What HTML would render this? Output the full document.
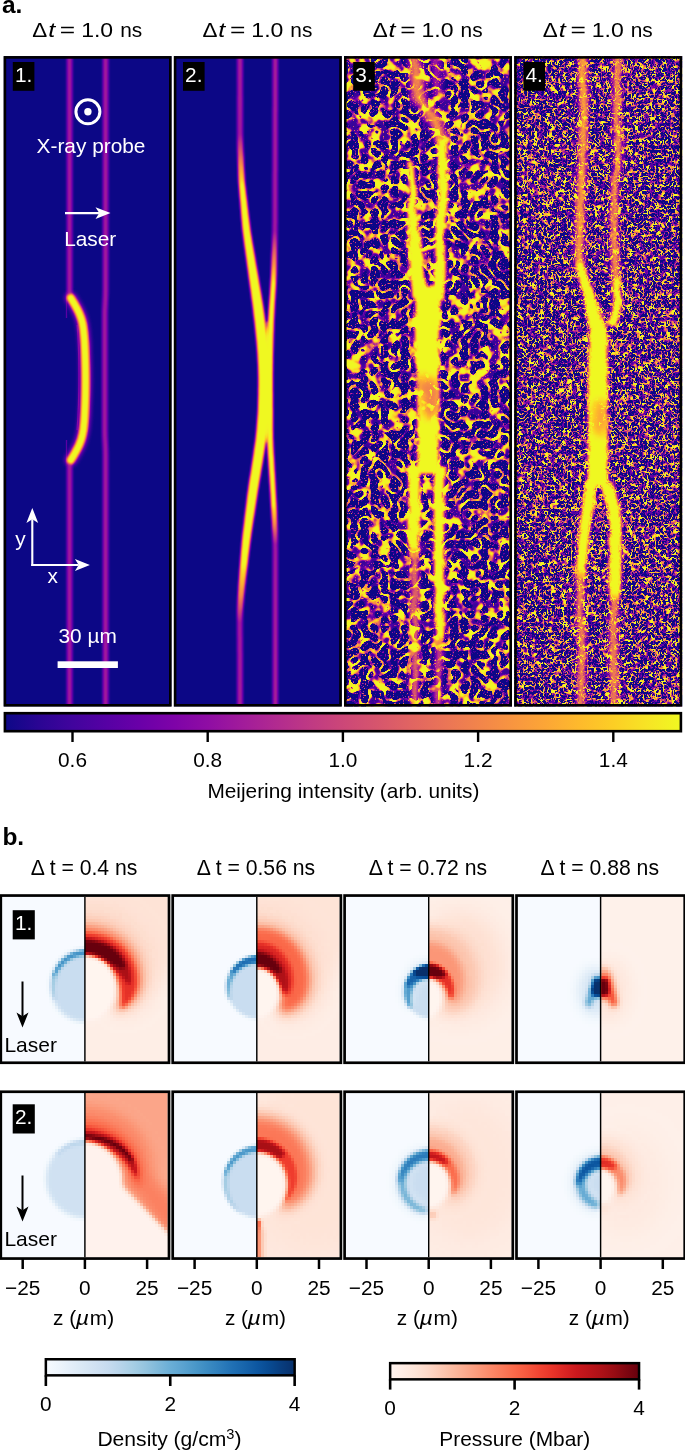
<!DOCTYPE html>
<html><head><meta charset="utf-8"><title>figure</title>
<style>html,body{margin:0;padding:0;background:#fff}svg{display:block;opacity:0.9999}text{white-space:pre;font-family:"Liberation Sans",sans-serif}</style></head>
<body>
<svg width="685" height="1451" viewBox="0 0 685 1451">
<defs>
<filter id="b05" filterUnits="userSpaceOnUse" x="0" y="0" width="685" height="1451" color-interpolation-filters="sRGB"><feGaussianBlur stdDeviation="0.5"/></filter>
<filter id="b08" filterUnits="userSpaceOnUse" x="0" y="0" width="685" height="1451" color-interpolation-filters="sRGB"><feGaussianBlur stdDeviation="0.8"/></filter>
<filter id="b1" filterUnits="userSpaceOnUse" x="0" y="0" width="685" height="1451" color-interpolation-filters="sRGB"><feGaussianBlur stdDeviation="1.0"/></filter>
<filter id="b15" filterUnits="userSpaceOnUse" x="0" y="0" width="685" height="1451" color-interpolation-filters="sRGB"><feGaussianBlur stdDeviation="1.5"/></filter>
<filter id="b2" filterUnits="userSpaceOnUse" x="0" y="0" width="685" height="1451" color-interpolation-filters="sRGB"><feGaussianBlur stdDeviation="2"/></filter>
<filter id="b3" filterUnits="userSpaceOnUse" x="0" y="0" width="685" height="1451" color-interpolation-filters="sRGB"><feGaussianBlur stdDeviation="3"/></filter>
<filter id="b4" filterUnits="userSpaceOnUse" x="0" y="0" width="685" height="1451" color-interpolation-filters="sRGB"><feGaussianBlur stdDeviation="4"/></filter>
<filter id="b6" filterUnits="userSpaceOnUse" x="0" y="0" width="685" height="1451" color-interpolation-filters="sRGB"><feGaussianBlur stdDeviation="6"/></filter>
<filter id="b8" filterUnits="userSpaceOnUse" x="0" y="0" width="685" height="1451" color-interpolation-filters="sRGB"><feGaussianBlur stdDeviation="8"/></filter>
<filter id="b12" filterUnits="userSpaceOnUse" x="0" y="0" width="685" height="1451" color-interpolation-filters="sRGB"><feGaussianBlur stdDeviation="12"/></filter>
<filter id="bx" filterUnits="userSpaceOnUse" x="0" y="0" width="685" height="1451" color-interpolation-filters="sRGB"><feGaussianBlur stdDeviation="1.3 0.3"/></filter>
<filter id="by" filterUnits="userSpaceOnUse" x="0" y="0" width="685" height="1451" color-interpolation-filters="sRGB"><feGaussianBlur stdDeviation="0.8 8"/></filter>
<clipPath id="ca0"><rect x="3.6" y="56.1" width="168.0" height="650.5"/></clipPath>
<clipPath id="ca1"><rect x="173.79999999999998" y="56.1" width="168.0" height="650.5"/></clipPath>
<clipPath id="ca2"><rect x="344.0" y="56.1" width="168.0" height="650.5"/></clipPath>
<clipPath id="ca3"><rect x="514.1999999999999" y="56.1" width="168.0" height="650.5"/></clipPath>
<filter id="pl0" filterUnits="userSpaceOnUse" x="3.6" y="56.1" width="168.0" height="650.5" color-interpolation-filters="sRGB">
<feComponentTransfer><feFuncR type="table" tableValues="0.050 0.096 0.132 0.164 0.193 0.221 0.248 0.274 0.300 0.325 0.350 0.375 0.399 0.424 0.448 0.471 0.501 0.524 0.546 0.568 0.590 0.611 0.631 0.651 0.670 0.688 0.706 0.723 0.740 0.756 0.772 0.787 0.805 0.820 0.833 0.847 0.860 0.872 0.884 0.896 0.907 0.918 0.928 0.938 0.947 0.955 0.963 0.970 0.978 0.983 0.987 0.991 0.993 0.994 0.994 0.993 0.991 0.988 0.983 0.976 0.968 0.959 0.949 0.940"/><feFuncG type="table" tableValues="0.030 0.025 0.022 0.020 0.018 0.016 0.014 0.012 0.010 0.007 0.004 0.002 0.001 0.001 0.002 0.006 0.014 0.025 0.039 0.056 0.073 0.090 0.108 0.125 0.143 0.161 0.178 0.196 0.214 0.232 0.249 0.267 0.289 0.307 0.325 0.343 0.361 0.379 0.397 0.416 0.435 0.454 0.473 0.493 0.513 0.533 0.554 0.575 0.602 0.624 0.647 0.670 0.693 0.717 0.741 0.765 0.791 0.816 0.842 0.868 0.895 0.921 0.948 0.975"/><feFuncB type="table" tableValues="0.528 0.547 0.563 0.577 0.590 0.602 0.613 0.623 0.632 0.640 0.646 0.652 0.656 0.659 0.660 0.660 0.657 0.653 0.647 0.639 0.630 0.620 0.608 0.596 0.582 0.568 0.554 0.539 0.524 0.509 0.495 0.480 0.462 0.448 0.434 0.421 0.407 0.393 0.380 0.366 0.353 0.340 0.326 0.313 0.299 0.285 0.272 0.258 0.241 0.228 0.215 0.202 0.189 0.177 0.166 0.157 0.149 0.144 0.142 0.143 0.147 0.152 0.152 0.131"/></feComponentTransfer></filter>
<filter id="pl1" filterUnits="userSpaceOnUse" x="173.79999999999998" y="56.1" width="168.0" height="650.5" color-interpolation-filters="sRGB">
<feComponentTransfer><feFuncR type="table" tableValues="0.050 0.096 0.132 0.164 0.193 0.221 0.248 0.274 0.300 0.325 0.350 0.375 0.399 0.424 0.448 0.471 0.501 0.524 0.546 0.568 0.590 0.611 0.631 0.651 0.670 0.688 0.706 0.723 0.740 0.756 0.772 0.787 0.805 0.820 0.833 0.847 0.860 0.872 0.884 0.896 0.907 0.918 0.928 0.938 0.947 0.955 0.963 0.970 0.978 0.983 0.987 0.991 0.993 0.994 0.994 0.993 0.991 0.988 0.983 0.976 0.968 0.959 0.949 0.940"/><feFuncG type="table" tableValues="0.030 0.025 0.022 0.020 0.018 0.016 0.014 0.012 0.010 0.007 0.004 0.002 0.001 0.001 0.002 0.006 0.014 0.025 0.039 0.056 0.073 0.090 0.108 0.125 0.143 0.161 0.178 0.196 0.214 0.232 0.249 0.267 0.289 0.307 0.325 0.343 0.361 0.379 0.397 0.416 0.435 0.454 0.473 0.493 0.513 0.533 0.554 0.575 0.602 0.624 0.647 0.670 0.693 0.717 0.741 0.765 0.791 0.816 0.842 0.868 0.895 0.921 0.948 0.975"/><feFuncB type="table" tableValues="0.528 0.547 0.563 0.577 0.590 0.602 0.613 0.623 0.632 0.640 0.646 0.652 0.656 0.659 0.660 0.660 0.657 0.653 0.647 0.639 0.630 0.620 0.608 0.596 0.582 0.568 0.554 0.539 0.524 0.509 0.495 0.480 0.462 0.448 0.434 0.421 0.407 0.393 0.380 0.366 0.353 0.340 0.326 0.313 0.299 0.285 0.272 0.258 0.241 0.228 0.215 0.202 0.189 0.177 0.166 0.157 0.149 0.144 0.142 0.143 0.147 0.152 0.152 0.131"/></feComponentTransfer></filter>
<linearGradient id="g2l" gradientUnits="userSpaceOnUse" x1="0" y1="56" x2="0" y2="707">
<stop offset="0" stop-color="#5c5c5c"/><stop offset="0.12" stop-color="#585858"/><stop offset="0.16" stop-color="#b0b0b0"/><stop offset="0.2" stop-color="#fff"/>
<stop offset="0.78" stop-color="#fff"/><stop offset="0.83" stop-color="#b8b8b8"/><stop offset="0.87" stop-color="#585858"/><stop offset="1" stop-color="#5c5c5c"/></linearGradient>
<linearGradient id="g2r" gradientUnits="userSpaceOnUse" x1="0" y1="56" x2="0" y2="707">
<stop offset="0" stop-color="#5c5c5c"/><stop offset="0.27" stop-color="#585858"/><stop offset="0.31" stop-color="#b0b0b0"/><stop offset="0.35" stop-color="#fff"/>
<stop offset="0.69" stop-color="#fff"/><stop offset="0.72" stop-color="#b8b8b8"/><stop offset="0.75" stop-color="#585858"/><stop offset="1" stop-color="#5c5c5c"/></linearGradient>
<filter id="nz2" filterUnits="userSpaceOnUse" x="344.0" y="56.1" width="168.0" height="650.5" color-interpolation-filters="sRGB">
<feTurbulence type="fractalNoise" baseFrequency="0.1" numOctaves="1" seed="4" result="t"/>
<feColorMatrix in="t" type="matrix" values="1 0 0 0 0 1 0 0 0 0 1 0 0 0 0 0 0 0 0 1" result="g"/>
<feComponentTransfer in="g" result="ridge"><feFuncR type="table" tableValues="0.000 0.000 0.000 0.000 0.000 0.000 0.000 0.000 0.000 0.000 0.000 0.000 0.000 0.000 0.000 0.000 0.000 0.000 0.000 0.000 0.000 0.000 0.000 0.000 0.000 0.000 0.000 0.000 0.000 0.000 0.000 0.000 0.000 0.000 0.000 0.000 0.000 0.000 0.000 0.000 0.000 0.000 0.000 0.000 0.000 0.000 0.000 0.000 0.000 0.000 0.000 0.000 0.000 0.000 0.000 0.000 0.000 0.000 0.000 0.000 0.000 0.000 0.000 0.000 0.000 0.000 0.000 0.000 0.000 0.000 0.000 0.000 0.000 0.000 0.000 0.000 0.000 0.000 0.000 0.000 0.000 0.000 0.000 0.000 0.000 0.000 0.000 0.000 0.000 0.000 0.000 0.000 0.000 0.000 0.000 0.000 0.000 0.000 0.000 0.000 0.000 0.000 0.000 0.000 0.000 0.000 0.000 0.000 0.000 0.000 0.234 0.507 0.779 1.000 1.000 1.000 1.000 1.000 1.000 1.000 1.000 1.000 1.000 1.000 1.000 1.000 1.000 1.000 1.000 1.000 1.000 1.000 1.000 1.000 1.000 1.000 1.000 1.000 1.000 1.000 1.000 1.000 1.000 0.779 0.507 0.234 0.000 0.000 0.000 0.000 0.000 0.000 0.000 0.000 0.000 0.000 0.000 0.000 0.000 0.000 0.000 0.000 0.000 0.000 0.000 0.000 0.000 0.000 0.000 0.000 0.000 0.000 0.000 0.000 0.000 0.000 0.000 0.000 0.000 0.000 0.000 0.000 0.000 0.000 0.000 0.000 0.000 0.000 0.000 0.000 0.000 0.000 0.000 0.000 0.000 0.000 0.000 0.000 0.000 0.000 0.000 0.000 0.000 0.000 0.000 0.000 0.000 0.000 0.000 0.000 0.000 0.000 0.000 0.000 0.000 0.000 0.000 0.000 0.000 0.000 0.000 0.000 0.000 0.000 0.000 0.000 0.000 0.000 0.000 0.000 0.000 0.000 0.000 0.000 0.000 0.000 0.000 0.000 0.000 0.000 0.000 0.000 0.000 0.000 0.000 0.000 0.000 0.000 0.000 0.000 0.000 0.000 0.000 0.000 0.000 0.000"/><feFuncG type="table" tableValues="0.000 0.000 0.000 0.000 0.000 0.000 0.000 0.000 0.000 0.000 0.000 0.000 0.000 0.000 0.000 0.000 0.000 0.000 0.000 0.000 0.000 0.000 0.000 0.000 0.000 0.000 0.000 0.000 0.000 0.000 0.000 0.000 0.000 0.000 0.000 0.000 0.000 0.000 0.000 0.000 0.000 0.000 0.000 0.000 0.000 0.000 0.000 0.000 0.000 0.000 0.000 0.000 0.000 0.000 0.000 0.000 0.000 0.000 0.000 0.000 0.000 0.000 0.000 0.000 0.000 0.000 0.000 0.000 0.000 0.000 0.000 0.000 0.000 0.000 0.000 0.000 0.000 0.000 0.000 0.000 0.000 0.000 0.000 0.000 0.000 0.000 0.000 0.000 0.000 0.000 0.000 0.000 0.000 0.000 0.000 0.000 0.000 0.000 0.000 0.000 0.000 0.000 0.000 0.000 0.000 0.000 0.000 0.000 0.000 0.000 0.234 0.507 0.779 1.000 1.000 1.000 1.000 1.000 1.000 1.000 1.000 1.000 1.000 1.000 1.000 1.000 1.000 1.000 1.000 1.000 1.000 1.000 1.000 1.000 1.000 1.000 1.000 1.000 1.000 1.000 1.000 1.000 1.000 0.779 0.507 0.234 0.000 0.000 0.000 0.000 0.000 0.000 0.000 0.000 0.000 0.000 0.000 0.000 0.000 0.000 0.000 0.000 0.000 0.000 0.000 0.000 0.000 0.000 0.000 0.000 0.000 0.000 0.000 0.000 0.000 0.000 0.000 0.000 0.000 0.000 0.000 0.000 0.000 0.000 0.000 0.000 0.000 0.000 0.000 0.000 0.000 0.000 0.000 0.000 0.000 0.000 0.000 0.000 0.000 0.000 0.000 0.000 0.000 0.000 0.000 0.000 0.000 0.000 0.000 0.000 0.000 0.000 0.000 0.000 0.000 0.000 0.000 0.000 0.000 0.000 0.000 0.000 0.000 0.000 0.000 0.000 0.000 0.000 0.000 0.000 0.000 0.000 0.000 0.000 0.000 0.000 0.000 0.000 0.000 0.000 0.000 0.000 0.000 0.000 0.000 0.000 0.000 0.000 0.000 0.000 0.000 0.000 0.000 0.000 0.000 0.000"/><feFuncB type="table" tableValues="0.000 0.000 0.000 0.000 0.000 0.000 0.000 0.000 0.000 0.000 0.000 0.000 0.000 0.000 0.000 0.000 0.000 0.000 0.000 0.000 0.000 0.000 0.000 0.000 0.000 0.000 0.000 0.000 0.000 0.000 0.000 0.000 0.000 0.000 0.000 0.000 0.000 0.000 0.000 0.000 0.000 0.000 0.000 0.000 0.000 0.000 0.000 0.000 0.000 0.000 0.000 0.000 0.000 0.000 0.000 0.000 0.000 0.000 0.000 0.000 0.000 0.000 0.000 0.000 0.000 0.000 0.000 0.000 0.000 0.000 0.000 0.000 0.000 0.000 0.000 0.000 0.000 0.000 0.000 0.000 0.000 0.000 0.000 0.000 0.000 0.000 0.000 0.000 0.000 0.000 0.000 0.000 0.000 0.000 0.000 0.000 0.000 0.000 0.000 0.000 0.000 0.000 0.000 0.000 0.000 0.000 0.000 0.000 0.000 0.000 0.234 0.507 0.779 1.000 1.000 1.000 1.000 1.000 1.000 1.000 1.000 1.000 1.000 1.000 1.000 1.000 1.000 1.000 1.000 1.000 1.000 1.000 1.000 1.000 1.000 1.000 1.000 1.000 1.000 1.000 1.000 1.000 1.000 0.779 0.507 0.234 0.000 0.000 0.000 0.000 0.000 0.000 0.000 0.000 0.000 0.000 0.000 0.000 0.000 0.000 0.000 0.000 0.000 0.000 0.000 0.000 0.000 0.000 0.000 0.000 0.000 0.000 0.000 0.000 0.000 0.000 0.000 0.000 0.000 0.000 0.000 0.000 0.000 0.000 0.000 0.000 0.000 0.000 0.000 0.000 0.000 0.000 0.000 0.000 0.000 0.000 0.000 0.000 0.000 0.000 0.000 0.000 0.000 0.000 0.000 0.000 0.000 0.000 0.000 0.000 0.000 0.000 0.000 0.000 0.000 0.000 0.000 0.000 0.000 0.000 0.000 0.000 0.000 0.000 0.000 0.000 0.000 0.000 0.000 0.000 0.000 0.000 0.000 0.000 0.000 0.000 0.000 0.000 0.000 0.000 0.000 0.000 0.000 0.000 0.000 0.000 0.000 0.000 0.000 0.000 0.000 0.000 0.000 0.000 0.000 0.000"/></feComponentTransfer>
<feTurbulence type="fractalNoise" baseFrequency="0.1" numOctaves="2" seed="7" result="tm"/>
<feColorMatrix in="tm" type="matrix" values="0 1 0 0 0 0 1 0 0 0 0 1 0 0 0 0 0 0 0 1" result="gm"/>
<feComponentTransfer in="gm" result="mod"><feFuncR type="table" tableValues="0.080 0.080 0.080 0.080 0.080 0.080 0.080 0.080 0.080 0.080 0.080 0.080 0.080 0.080 0.080 0.080 0.080 0.080 0.080 0.080 0.080 0.080 0.080 0.080 0.080 0.080 0.080 0.081 0.081 0.081 0.081 0.081 0.082 0.082 0.082 0.083 0.084 0.085 0.086 0.088 0.089 0.092 0.095 0.098 0.103 0.108 0.115 0.124 0.134 0.147 0.162 0.181 0.203 0.228 0.259 0.293 0.332 0.376 0.422 0.472 0.523 0.575 0.626 0.674 0.720 0.762 0.799 0.832 0.861 0.886 0.906 0.924 0.938 0.950 0.959 0.967 0.974 0.979 0.983 0.986 0.989 0.991 0.993 0.994 0.996 0.996 0.997 0.998 0.998 0.999 0.999 0.999 0.999 0.999 1.000 1.000 1.000 1.000 1.000 1.000 1.000 1.000 1.000 1.000 1.000 1.000 1.000 1.000 1.000 1.000 1.000 1.000 1.000 1.000 1.000 1.000 1.000 1.000 1.000 1.000 1.000 1.000 1.000 1.000 1.000 1.000 1.000 1.000"/><feFuncG type="table" tableValues="0.080 0.080 0.080 0.080 0.080 0.080 0.080 0.080 0.080 0.080 0.080 0.080 0.080 0.080 0.080 0.080 0.080 0.080 0.080 0.080 0.080 0.080 0.080 0.080 0.080 0.080 0.080 0.081 0.081 0.081 0.081 0.081 0.082 0.082 0.082 0.083 0.084 0.085 0.086 0.088 0.089 0.092 0.095 0.098 0.103 0.108 0.115 0.124 0.134 0.147 0.162 0.181 0.203 0.228 0.259 0.293 0.332 0.376 0.422 0.472 0.523 0.575 0.626 0.674 0.720 0.762 0.799 0.832 0.861 0.886 0.906 0.924 0.938 0.950 0.959 0.967 0.974 0.979 0.983 0.986 0.989 0.991 0.993 0.994 0.996 0.996 0.997 0.998 0.998 0.999 0.999 0.999 0.999 0.999 1.000 1.000 1.000 1.000 1.000 1.000 1.000 1.000 1.000 1.000 1.000 1.000 1.000 1.000 1.000 1.000 1.000 1.000 1.000 1.000 1.000 1.000 1.000 1.000 1.000 1.000 1.000 1.000 1.000 1.000 1.000 1.000 1.000 1.000"/><feFuncB type="table" tableValues="0.080 0.080 0.080 0.080 0.080 0.080 0.080 0.080 0.080 0.080 0.080 0.080 0.080 0.080 0.080 0.080 0.080 0.080 0.080 0.080 0.080 0.080 0.080 0.080 0.080 0.080 0.080 0.081 0.081 0.081 0.081 0.081 0.082 0.082 0.082 0.083 0.084 0.085 0.086 0.088 0.089 0.092 0.095 0.098 0.103 0.108 0.115 0.124 0.134 0.147 0.162 0.181 0.203 0.228 0.259 0.293 0.332 0.376 0.422 0.472 0.523 0.575 0.626 0.674 0.720 0.762 0.799 0.832 0.861 0.886 0.906 0.924 0.938 0.950 0.959 0.967 0.974 0.979 0.983 0.986 0.989 0.991 0.993 0.994 0.996 0.996 0.997 0.998 0.998 0.999 0.999 0.999 0.999 0.999 1.000 1.000 1.000 1.000 1.000 1.000 1.000 1.000 1.000 1.000 1.000 1.000 1.000 1.000 1.000 1.000 1.000 1.000 1.000 1.000 1.000 1.000 1.000 1.000 1.000 1.000 1.000 1.000 1.000 1.000 1.000 1.000 1.000 1.000"/></feComponentTransfer>
<feComposite in="ridge" in2="mod" operator="arithmetic" k1="1" k2="0" k3="0" k4="0" result="rm"/>
<feTurbulence type="fractalNoise" baseFrequency="0.6" numOctaves="1" seed="11" result="t2"/>
<feColorMatrix in="t2" type="matrix" values="0 5 0 0 -3.0 0 5 0 0 -3.0 0 5 0 0 -3.0 0 0 0 0 1" result="sp"/>
<feBlend in="sp" in2="rm" mode="lighten" result="bg"/>
<feTurbulence type="fractalNoise" baseFrequency="0.06" numOctaves="2" seed="17" result="td"/>
<feDisplacementMap in="SourceGraphic" in2="td" scale="6" xChannelSelector="R" yChannelSelector="G" result="sd"/>
<feBlend in="sd" in2="bg" mode="lighten" result="all"/>
<feComponentTransfer in="all"><feFuncR type="table" tableValues="0.050 0.096 0.132 0.164 0.193 0.221 0.248 0.274 0.300 0.325 0.350 0.375 0.399 0.424 0.448 0.471 0.501 0.524 0.546 0.568 0.590 0.611 0.631 0.651 0.670 0.688 0.706 0.723 0.740 0.756 0.772 0.787 0.805 0.820 0.833 0.847 0.860 0.872 0.884 0.896 0.907 0.918 0.928 0.938 0.947 0.955 0.963 0.970 0.978 0.983 0.987 0.991 0.993 0.994 0.994 0.993 0.991 0.988 0.983 0.976 0.968 0.959 0.949 0.940"/><feFuncG type="table" tableValues="0.030 0.025 0.022 0.020 0.018 0.016 0.014 0.012 0.010 0.007 0.004 0.002 0.001 0.001 0.002 0.006 0.014 0.025 0.039 0.056 0.073 0.090 0.108 0.125 0.143 0.161 0.178 0.196 0.214 0.232 0.249 0.267 0.289 0.307 0.325 0.343 0.361 0.379 0.397 0.416 0.435 0.454 0.473 0.493 0.513 0.533 0.554 0.575 0.602 0.624 0.647 0.670 0.693 0.717 0.741 0.765 0.791 0.816 0.842 0.868 0.895 0.921 0.948 0.975"/><feFuncB type="table" tableValues="0.528 0.547 0.563 0.577 0.590 0.602 0.613 0.623 0.632 0.640 0.646 0.652 0.656 0.659 0.660 0.660 0.657 0.653 0.647 0.639 0.630 0.620 0.608 0.596 0.582 0.568 0.554 0.539 0.524 0.509 0.495 0.480 0.462 0.448 0.434 0.421 0.407 0.393 0.380 0.366 0.353 0.340 0.326 0.313 0.299 0.285 0.272 0.258 0.241 0.228 0.215 0.202 0.189 0.177 0.166 0.157 0.149 0.144 0.142 0.143 0.147 0.152 0.152 0.131"/></feComponentTransfer>
</filter>
<filter id="nz3" filterUnits="userSpaceOnUse" x="514.1999999999999" y="56.1" width="168.0" height="650.5" color-interpolation-filters="sRGB">
<feTurbulence type="fractalNoise" baseFrequency="0.25 0.22" numOctaves="2" seed="11" result="t"/>
<feColorMatrix in="t" type="matrix" values="1 0 0 0 0 1 0 0 0 0 1 0 0 0 0 0 0 0 0 1" result="g"/>
<feComponentTransfer in="g" result="ridge"><feFuncR type="table" tableValues="0.000 0.000 0.000 0.000 0.000 0.000 0.000 0.000 0.000 0.000 0.000 0.000 0.000 0.000 0.000 0.000 0.000 0.000 0.000 0.000 0.000 0.000 0.000 0.000 0.000 0.000 0.000 0.000 0.000 0.000 0.000 0.000 0.000 0.000 0.000 0.000 0.000 0.000 0.000 0.000 0.000 0.000 0.000 0.000 0.000 0.000 0.000 0.000 0.000 0.000 0.000 0.000 0.000 0.000 0.000 0.000 0.000 0.000 0.000 0.000 0.000 0.000 0.000 0.000 0.000 0.000 0.000 0.000 0.000 0.000 0.000 0.000 0.000 0.000 0.000 0.000 0.000 0.000 0.000 0.000 0.000 0.000 0.000 0.000 0.000 0.000 0.000 0.000 0.000 0.000 0.000 0.000 0.000 0.000 0.000 0.000 0.000 0.000 0.000 0.000 0.000 0.000 0.000 0.000 0.000 0.000 0.000 0.000 0.176 0.373 0.569 0.765 0.961 1.000 1.000 1.000 1.000 1.000 1.000 1.000 1.000 1.000 1.000 1.000 1.000 1.000 1.000 1.000 1.000 1.000 1.000 1.000 1.000 1.000 1.000 1.000 1.000 1.000 1.000 1.000 1.000 1.000 1.000 0.961 0.765 0.569 0.373 0.176 0.000 0.000 0.000 0.000 0.000 0.000 0.000 0.000 0.000 0.000 0.000 0.000 0.000 0.000 0.000 0.000 0.000 0.000 0.000 0.000 0.000 0.000 0.000 0.000 0.000 0.000 0.000 0.000 0.000 0.000 0.000 0.000 0.000 0.000 0.000 0.000 0.000 0.000 0.000 0.000 0.000 0.000 0.000 0.000 0.000 0.000 0.000 0.000 0.000 0.000 0.000 0.000 0.000 0.000 0.000 0.000 0.000 0.000 0.000 0.000 0.000 0.000 0.000 0.000 0.000 0.000 0.000 0.000 0.000 0.000 0.000 0.000 0.000 0.000 0.000 0.000 0.000 0.000 0.000 0.000 0.000 0.000 0.000 0.000 0.000 0.000 0.000 0.000 0.000 0.000 0.000 0.000 0.000 0.000 0.000 0.000 0.000 0.000 0.000 0.000 0.000 0.000 0.000 0.000 0.000 0.000 0.000 0.000"/><feFuncG type="table" tableValues="0.000 0.000 0.000 0.000 0.000 0.000 0.000 0.000 0.000 0.000 0.000 0.000 0.000 0.000 0.000 0.000 0.000 0.000 0.000 0.000 0.000 0.000 0.000 0.000 0.000 0.000 0.000 0.000 0.000 0.000 0.000 0.000 0.000 0.000 0.000 0.000 0.000 0.000 0.000 0.000 0.000 0.000 0.000 0.000 0.000 0.000 0.000 0.000 0.000 0.000 0.000 0.000 0.000 0.000 0.000 0.000 0.000 0.000 0.000 0.000 0.000 0.000 0.000 0.000 0.000 0.000 0.000 0.000 0.000 0.000 0.000 0.000 0.000 0.000 0.000 0.000 0.000 0.000 0.000 0.000 0.000 0.000 0.000 0.000 0.000 0.000 0.000 0.000 0.000 0.000 0.000 0.000 0.000 0.000 0.000 0.000 0.000 0.000 0.000 0.000 0.000 0.000 0.000 0.000 0.000 0.000 0.000 0.000 0.176 0.373 0.569 0.765 0.961 1.000 1.000 1.000 1.000 1.000 1.000 1.000 1.000 1.000 1.000 1.000 1.000 1.000 1.000 1.000 1.000 1.000 1.000 1.000 1.000 1.000 1.000 1.000 1.000 1.000 1.000 1.000 1.000 1.000 1.000 0.961 0.765 0.569 0.373 0.176 0.000 0.000 0.000 0.000 0.000 0.000 0.000 0.000 0.000 0.000 0.000 0.000 0.000 0.000 0.000 0.000 0.000 0.000 0.000 0.000 0.000 0.000 0.000 0.000 0.000 0.000 0.000 0.000 0.000 0.000 0.000 0.000 0.000 0.000 0.000 0.000 0.000 0.000 0.000 0.000 0.000 0.000 0.000 0.000 0.000 0.000 0.000 0.000 0.000 0.000 0.000 0.000 0.000 0.000 0.000 0.000 0.000 0.000 0.000 0.000 0.000 0.000 0.000 0.000 0.000 0.000 0.000 0.000 0.000 0.000 0.000 0.000 0.000 0.000 0.000 0.000 0.000 0.000 0.000 0.000 0.000 0.000 0.000 0.000 0.000 0.000 0.000 0.000 0.000 0.000 0.000 0.000 0.000 0.000 0.000 0.000 0.000 0.000 0.000 0.000 0.000 0.000 0.000 0.000 0.000 0.000 0.000 0.000"/><feFuncB type="table" tableValues="0.000 0.000 0.000 0.000 0.000 0.000 0.000 0.000 0.000 0.000 0.000 0.000 0.000 0.000 0.000 0.000 0.000 0.000 0.000 0.000 0.000 0.000 0.000 0.000 0.000 0.000 0.000 0.000 0.000 0.000 0.000 0.000 0.000 0.000 0.000 0.000 0.000 0.000 0.000 0.000 0.000 0.000 0.000 0.000 0.000 0.000 0.000 0.000 0.000 0.000 0.000 0.000 0.000 0.000 0.000 0.000 0.000 0.000 0.000 0.000 0.000 0.000 0.000 0.000 0.000 0.000 0.000 0.000 0.000 0.000 0.000 0.000 0.000 0.000 0.000 0.000 0.000 0.000 0.000 0.000 0.000 0.000 0.000 0.000 0.000 0.000 0.000 0.000 0.000 0.000 0.000 0.000 0.000 0.000 0.000 0.000 0.000 0.000 0.000 0.000 0.000 0.000 0.000 0.000 0.000 0.000 0.000 0.000 0.176 0.373 0.569 0.765 0.961 1.000 1.000 1.000 1.000 1.000 1.000 1.000 1.000 1.000 1.000 1.000 1.000 1.000 1.000 1.000 1.000 1.000 1.000 1.000 1.000 1.000 1.000 1.000 1.000 1.000 1.000 1.000 1.000 1.000 1.000 0.961 0.765 0.569 0.373 0.176 0.000 0.000 0.000 0.000 0.000 0.000 0.000 0.000 0.000 0.000 0.000 0.000 0.000 0.000 0.000 0.000 0.000 0.000 0.000 0.000 0.000 0.000 0.000 0.000 0.000 0.000 0.000 0.000 0.000 0.000 0.000 0.000 0.000 0.000 0.000 0.000 0.000 0.000 0.000 0.000 0.000 0.000 0.000 0.000 0.000 0.000 0.000 0.000 0.000 0.000 0.000 0.000 0.000 0.000 0.000 0.000 0.000 0.000 0.000 0.000 0.000 0.000 0.000 0.000 0.000 0.000 0.000 0.000 0.000 0.000 0.000 0.000 0.000 0.000 0.000 0.000 0.000 0.000 0.000 0.000 0.000 0.000 0.000 0.000 0.000 0.000 0.000 0.000 0.000 0.000 0.000 0.000 0.000 0.000 0.000 0.000 0.000 0.000 0.000 0.000 0.000 0.000 0.000 0.000 0.000 0.000 0.000 0.000"/></feComponentTransfer>
<feTurbulence type="fractalNoise" baseFrequency="0.18" numOctaves="2" seed="14" result="tm"/>
<feColorMatrix in="tm" type="matrix" values="0 1 0 0 0 0 1 0 0 0 0 1 0 0 0 0 0 0 0 1" result="gm"/>
<feComponentTransfer in="gm" result="mod"><feFuncR type="table" tableValues="0.140 0.140 0.140 0.140 0.140 0.140 0.140 0.140 0.140 0.140 0.140 0.140 0.140 0.141 0.141 0.141 0.141 0.141 0.141 0.141 0.142 0.142 0.142 0.143 0.143 0.144 0.144 0.145 0.146 0.147 0.148 0.149 0.151 0.153 0.155 0.157 0.160 0.163 0.167 0.172 0.177 0.183 0.190 0.198 0.207 0.217 0.229 0.243 0.258 0.275 0.294 0.314 0.337 0.362 0.389 0.418 0.448 0.480 0.513 0.547 0.580 0.614 0.647 0.680 0.711 0.740 0.768 0.793 0.817 0.839 0.858 0.876 0.892 0.906 0.918 0.929 0.939 0.947 0.954 0.961 0.966 0.971 0.975 0.979 0.982 0.984 0.987 0.988 0.990 0.992 0.993 0.994 0.995 0.995 0.996 0.997 0.997 0.998 0.998 0.998 0.998 0.999 0.999 0.999 0.999 0.999 0.999 1.000 1.000 1.000 1.000 1.000 1.000 1.000 1.000 1.000 1.000 1.000 1.000 1.000 1.000 1.000 1.000 1.000 1.000 1.000 1.000 1.000"/><feFuncG type="table" tableValues="0.140 0.140 0.140 0.140 0.140 0.140 0.140 0.140 0.140 0.140 0.140 0.140 0.140 0.141 0.141 0.141 0.141 0.141 0.141 0.141 0.142 0.142 0.142 0.143 0.143 0.144 0.144 0.145 0.146 0.147 0.148 0.149 0.151 0.153 0.155 0.157 0.160 0.163 0.167 0.172 0.177 0.183 0.190 0.198 0.207 0.217 0.229 0.243 0.258 0.275 0.294 0.314 0.337 0.362 0.389 0.418 0.448 0.480 0.513 0.547 0.580 0.614 0.647 0.680 0.711 0.740 0.768 0.793 0.817 0.839 0.858 0.876 0.892 0.906 0.918 0.929 0.939 0.947 0.954 0.961 0.966 0.971 0.975 0.979 0.982 0.984 0.987 0.988 0.990 0.992 0.993 0.994 0.995 0.995 0.996 0.997 0.997 0.998 0.998 0.998 0.998 0.999 0.999 0.999 0.999 0.999 0.999 1.000 1.000 1.000 1.000 1.000 1.000 1.000 1.000 1.000 1.000 1.000 1.000 1.000 1.000 1.000 1.000 1.000 1.000 1.000 1.000 1.000"/><feFuncB type="table" tableValues="0.140 0.140 0.140 0.140 0.140 0.140 0.140 0.140 0.140 0.140 0.140 0.140 0.140 0.141 0.141 0.141 0.141 0.141 0.141 0.141 0.142 0.142 0.142 0.143 0.143 0.144 0.144 0.145 0.146 0.147 0.148 0.149 0.151 0.153 0.155 0.157 0.160 0.163 0.167 0.172 0.177 0.183 0.190 0.198 0.207 0.217 0.229 0.243 0.258 0.275 0.294 0.314 0.337 0.362 0.389 0.418 0.448 0.480 0.513 0.547 0.580 0.614 0.647 0.680 0.711 0.740 0.768 0.793 0.817 0.839 0.858 0.876 0.892 0.906 0.918 0.929 0.939 0.947 0.954 0.961 0.966 0.971 0.975 0.979 0.982 0.984 0.987 0.988 0.990 0.992 0.993 0.994 0.995 0.995 0.996 0.997 0.997 0.998 0.998 0.998 0.998 0.999 0.999 0.999 0.999 0.999 0.999 1.000 1.000 1.000 1.000 1.000 1.000 1.000 1.000 1.000 1.000 1.000 1.000 1.000 1.000 1.000 1.000 1.000 1.000 1.000 1.000 1.000"/></feComponentTransfer>
<feComposite in="ridge" in2="mod" operator="arithmetic" k1="1" k2="0" k3="0" k4="0" result="rm"/>
<feTurbulence type="fractalNoise" baseFrequency="0.7" numOctaves="1" seed="18" result="t2"/>
<feColorMatrix in="t2" type="matrix" values="0 4 0 0 -2.4 0 4 0 0 -2.4 0 4 0 0 -2.4 0 0 0 0 1" result="sp"/>
<feBlend in="sp" in2="rm" mode="lighten" result="bg"/>
<feTurbulence type="fractalNoise" baseFrequency="0.08" numOctaves="2" seed="24" result="td"/>
<feDisplacementMap in="SourceGraphic" in2="td" scale="4" xChannelSelector="R" yChannelSelector="G" result="sd"/>
<feBlend in="sd" in2="bg" mode="lighten" result="all"/>
<feComponentTransfer in="all"><feFuncR type="table" tableValues="0.050 0.096 0.132 0.164 0.193 0.221 0.248 0.274 0.300 0.325 0.350 0.375 0.399 0.424 0.448 0.471 0.501 0.524 0.546 0.568 0.590 0.611 0.631 0.651 0.670 0.688 0.706 0.723 0.740 0.756 0.772 0.787 0.805 0.820 0.833 0.847 0.860 0.872 0.884 0.896 0.907 0.918 0.928 0.938 0.947 0.955 0.963 0.970 0.978 0.983 0.987 0.991 0.993 0.994 0.994 0.993 0.991 0.988 0.983 0.976 0.968 0.959 0.949 0.940"/><feFuncG type="table" tableValues="0.030 0.025 0.022 0.020 0.018 0.016 0.014 0.012 0.010 0.007 0.004 0.002 0.001 0.001 0.002 0.006 0.014 0.025 0.039 0.056 0.073 0.090 0.108 0.125 0.143 0.161 0.178 0.196 0.214 0.232 0.249 0.267 0.289 0.307 0.325 0.343 0.361 0.379 0.397 0.416 0.435 0.454 0.473 0.493 0.513 0.533 0.554 0.575 0.602 0.624 0.647 0.670 0.693 0.717 0.741 0.765 0.791 0.816 0.842 0.868 0.895 0.921 0.948 0.975"/><feFuncB type="table" tableValues="0.528 0.547 0.563 0.577 0.590 0.602 0.613 0.623 0.632 0.640 0.646 0.652 0.656 0.659 0.660 0.660 0.657 0.653 0.647 0.639 0.630 0.620 0.608 0.596 0.582 0.568 0.554 0.539 0.524 0.509 0.495 0.480 0.462 0.448 0.434 0.421 0.407 0.393 0.380 0.366 0.353 0.340 0.326 0.313 0.299 0.285 0.272 0.258 0.241 0.228 0.215 0.202 0.189 0.177 0.166 0.157 0.149 0.144 0.142 0.143 0.147 0.152 0.152 0.131"/></feComponentTransfer>
</filter>
<linearGradient id="gpl" x1="0" y1="0" x2="1" y2="0"><stop offset="0.000" stop-color="#0d0887"/><stop offset="0.050" stop-color="#2a0593"/><stop offset="0.100" stop-color="#41049d"/><stop offset="0.150" stop-color="#5601a4"/><stop offset="0.200" stop-color="#6a00a8"/><stop offset="0.250" stop-color="#7e03a8"/><stop offset="0.300" stop-color="#8f0da4"/><stop offset="0.350" stop-color="#a11b9b"/><stop offset="0.400" stop-color="#b12a90"/><stop offset="0.450" stop-color="#bf3984"/><stop offset="0.500" stop-color="#cc4778"/><stop offset="0.550" stop-color="#d6556d"/><stop offset="0.600" stop-color="#e16462"/><stop offset="0.650" stop-color="#ea7457"/><stop offset="0.700" stop-color="#f2844b"/><stop offset="0.750" stop-color="#f89540"/><stop offset="0.800" stop-color="#fca636"/><stop offset="0.850" stop-color="#feba2c"/><stop offset="0.900" stop-color="#fcce25"/><stop offset="0.950" stop-color="#f7e425"/><stop offset="1.000" stop-color="#f0f921"/></linearGradient>
<clipPath id="clb00"><rect x="2.15" y="896.9" width="82.75" height="164.5000000000001"/></clipPath>
<clipPath id="crb00"><rect x="84.90" y="896.9" width="82.75" height="164.5000000000001"/></clipPath>
<filter id="fbb00" filterUnits="userSpaceOnUse" x="-0.85" y="893.9" width="88.75" height="170.5000000000001" color-interpolation-filters="sRGB">
<feComponentTransfer><feFuncR type="table" tableValues="0.969 0.956 0.944 0.932 0.919 0.907 0.895 0.883 0.870 0.858 0.847 0.835 0.823 0.811 0.799 0.788 0.770 0.751 0.731 0.711 0.692 0.672 0.652 0.633 0.611 0.586 0.561 0.536 0.511 0.485 0.460 0.435 0.407 0.387 0.367 0.346 0.326 0.306 0.286 0.266 0.248 0.232 0.216 0.199 0.183 0.167 0.151 0.134 0.118 0.106 0.093 0.081 0.069 0.056 0.044 0.032 0.031 0.031 0.031 0.031 0.031 0.031 0.031 0.031"/><feFuncG type="table" tableValues="0.984 0.976 0.969 0.961 0.953 0.945 0.937 0.929 0.921 0.913 0.906 0.898 0.890 0.882 0.874 0.866 0.856 0.848 0.839 0.831 0.823 0.814 0.806 0.798 0.787 0.774 0.760 0.746 0.732 0.719 0.705 0.691 0.674 0.660 0.646 0.632 0.619 0.605 0.591 0.577 0.562 0.546 0.529 0.513 0.497 0.481 0.464 0.448 0.428 0.413 0.397 0.381 0.365 0.350 0.334 0.318 0.302 0.286 0.269 0.253 0.237 0.221 0.204 0.188"/><feFuncB type="table" tableValues="1.000 0.996 0.992 0.988 0.984 0.980 0.976 0.972 0.969 0.965 0.961 0.957 0.953 0.949 0.945 0.941 0.935 0.928 0.921 0.914 0.908 0.901 0.894 0.887 0.880 0.875 0.870 0.864 0.859 0.853 0.848 0.843 0.834 0.826 0.819 0.811 0.803 0.795 0.787 0.779 0.771 0.763 0.754 0.746 0.738 0.729 0.721 0.712 0.698 0.686 0.674 0.661 0.649 0.637 0.624 0.612 0.588 0.564 0.540 0.516 0.492 0.468 0.444 0.420"/></feComponentTransfer></filter>
<filter id="frb00" filterUnits="userSpaceOnUse" x="81.90" y="893.9" width="88.75" height="170.5000000000001" color-interpolation-filters="sRGB">
<feComponentTransfer><feFuncR type="table" tableValues="1.000 1.000 0.999 0.999 0.998 0.998 0.997 0.997 0.996 0.995 0.994 0.993 0.992 0.991 0.990 0.989 0.988 0.988 0.988 0.988 0.988 0.988 0.988 0.988 0.988 0.988 0.987 0.987 0.986 0.986 0.985 0.985 0.981 0.975 0.969 0.963 0.957 0.951 0.945 0.939 0.926 0.908 0.890 0.872 0.855 0.837 0.819 0.802 0.779 0.760 0.741 0.722 0.704 0.685 0.666 0.648 0.618 0.587 0.556 0.526 0.495 0.465 0.434 0.404"/><feFuncG type="table" tableValues="0.961 0.950 0.940 0.930 0.919 0.909 0.899 0.888 0.878 0.860 0.841 0.823 0.805 0.787 0.769 0.750 0.727 0.707 0.687 0.666 0.646 0.626 0.606 0.586 0.566 0.546 0.526 0.507 0.487 0.467 0.448 0.428 0.401 0.378 0.355 0.332 0.309 0.286 0.262 0.239 0.220 0.203 0.186 0.168 0.151 0.134 0.117 0.100 0.090 0.086 0.081 0.077 0.072 0.068 0.063 0.059 0.052 0.044 0.037 0.030 0.022 0.015 0.007 0.000"/><feFuncB type="table" tableValues="0.941 0.926 0.912 0.897 0.882 0.867 0.853 0.838 0.823 0.799 0.775 0.750 0.726 0.702 0.678 0.654 0.624 0.601 0.578 0.555 0.532 0.508 0.485 0.462 0.440 0.421 0.401 0.381 0.362 0.342 0.322 0.302 0.281 0.266 0.251 0.237 0.222 0.207 0.192 0.178 0.168 0.160 0.153 0.146 0.138 0.131 0.123 0.116 0.110 0.106 0.102 0.098 0.094 0.090 0.086 0.082 0.079 0.075 0.071 0.067 0.063 0.059 0.055 0.051"/></feComponentTransfer></filter>
<filter id="pbb00" filterUnits="userSpaceOnUse" x="1" y="895" width="88" height="170" color-interpolation-filters="sRGB"><feFlood x="2.00" y="896.00" width="1" height="1" flood-color="#000" result="dot"/><feComposite in="dot" in2="dot" operator="over" width="3" height="3" x="1" y="895" result="cell"/><feTile in="cell" result="dots"/><feComposite in="SourceGraphic" in2="dots" operator="in"/><feMorphology operator="dilate" radius="1"/></filter>
<filter id="prb00" filterUnits="userSpaceOnUse" x="83" y="895" width="88" height="170" color-interpolation-filters="sRGB"><feFlood x="84.00" y="896.00" width="1" height="1" flood-color="#000" result="dot"/><feComposite in="dot" in2="dot" operator="over" width="3" height="3" x="83" y="895" result="cell"/><feTile in="cell" result="dots"/><feComposite in="SourceGraphic" in2="dots" operator="in"/><feMorphology operator="dilate" radius="1"/></filter>
<clipPath id="clb01"><rect x="174.05" y="896.9" width="82.75" height="164.5000000000001"/></clipPath>
<clipPath id="crb01"><rect x="256.80" y="896.9" width="82.75" height="164.5000000000001"/></clipPath>
<filter id="fbb01" filterUnits="userSpaceOnUse" x="171.05" y="893.9" width="88.75" height="170.5000000000001" color-interpolation-filters="sRGB">
<feComponentTransfer><feFuncR type="table" tableValues="0.969 0.956 0.944 0.932 0.919 0.907 0.895 0.883 0.870 0.858 0.847 0.835 0.823 0.811 0.799 0.788 0.770 0.751 0.731 0.711 0.692 0.672 0.652 0.633 0.611 0.586 0.561 0.536 0.511 0.485 0.460 0.435 0.407 0.387 0.367 0.346 0.326 0.306 0.286 0.266 0.248 0.232 0.216 0.199 0.183 0.167 0.151 0.134 0.118 0.106 0.093 0.081 0.069 0.056 0.044 0.032 0.031 0.031 0.031 0.031 0.031 0.031 0.031 0.031"/><feFuncG type="table" tableValues="0.984 0.976 0.969 0.961 0.953 0.945 0.937 0.929 0.921 0.913 0.906 0.898 0.890 0.882 0.874 0.866 0.856 0.848 0.839 0.831 0.823 0.814 0.806 0.798 0.787 0.774 0.760 0.746 0.732 0.719 0.705 0.691 0.674 0.660 0.646 0.632 0.619 0.605 0.591 0.577 0.562 0.546 0.529 0.513 0.497 0.481 0.464 0.448 0.428 0.413 0.397 0.381 0.365 0.350 0.334 0.318 0.302 0.286 0.269 0.253 0.237 0.221 0.204 0.188"/><feFuncB type="table" tableValues="1.000 0.996 0.992 0.988 0.984 0.980 0.976 0.972 0.969 0.965 0.961 0.957 0.953 0.949 0.945 0.941 0.935 0.928 0.921 0.914 0.908 0.901 0.894 0.887 0.880 0.875 0.870 0.864 0.859 0.853 0.848 0.843 0.834 0.826 0.819 0.811 0.803 0.795 0.787 0.779 0.771 0.763 0.754 0.746 0.738 0.729 0.721 0.712 0.698 0.686 0.674 0.661 0.649 0.637 0.624 0.612 0.588 0.564 0.540 0.516 0.492 0.468 0.444 0.420"/></feComponentTransfer></filter>
<filter id="frb01" filterUnits="userSpaceOnUse" x="253.80" y="893.9" width="88.75" height="170.5000000000001" color-interpolation-filters="sRGB">
<feComponentTransfer><feFuncR type="table" tableValues="1.000 1.000 0.999 0.999 0.998 0.998 0.997 0.997 0.996 0.995 0.994 0.993 0.992 0.991 0.990 0.989 0.988 0.988 0.988 0.988 0.988 0.988 0.988 0.988 0.988 0.988 0.987 0.987 0.986 0.986 0.985 0.985 0.981 0.975 0.969 0.963 0.957 0.951 0.945 0.939 0.926 0.908 0.890 0.872 0.855 0.837 0.819 0.802 0.779 0.760 0.741 0.722 0.704 0.685 0.666 0.648 0.618 0.587 0.556 0.526 0.495 0.465 0.434 0.404"/><feFuncG type="table" tableValues="0.961 0.950 0.940 0.930 0.919 0.909 0.899 0.888 0.878 0.860 0.841 0.823 0.805 0.787 0.769 0.750 0.727 0.707 0.687 0.666 0.646 0.626 0.606 0.586 0.566 0.546 0.526 0.507 0.487 0.467 0.448 0.428 0.401 0.378 0.355 0.332 0.309 0.286 0.262 0.239 0.220 0.203 0.186 0.168 0.151 0.134 0.117 0.100 0.090 0.086 0.081 0.077 0.072 0.068 0.063 0.059 0.052 0.044 0.037 0.030 0.022 0.015 0.007 0.000"/><feFuncB type="table" tableValues="0.941 0.926 0.912 0.897 0.882 0.867 0.853 0.838 0.823 0.799 0.775 0.750 0.726 0.702 0.678 0.654 0.624 0.601 0.578 0.555 0.532 0.508 0.485 0.462 0.440 0.421 0.401 0.381 0.362 0.342 0.322 0.302 0.281 0.266 0.251 0.237 0.222 0.207 0.192 0.178 0.168 0.160 0.153 0.146 0.138 0.131 0.123 0.116 0.110 0.106 0.102 0.098 0.094 0.090 0.086 0.082 0.079 0.075 0.071 0.067 0.063 0.059 0.055 0.051"/></feComponentTransfer></filter>
<filter id="pbb01" filterUnits="userSpaceOnUse" x="173" y="895" width="88" height="170" color-interpolation-filters="sRGB"><feFlood x="174.00" y="896.00" width="1" height="1" flood-color="#000" result="dot"/><feComposite in="dot" in2="dot" operator="over" width="3" height="3" x="173" y="895" result="cell"/><feTile in="cell" result="dots"/><feComposite in="SourceGraphic" in2="dots" operator="in"/><feMorphology operator="dilate" radius="1"/></filter>
<filter id="prb01" filterUnits="userSpaceOnUse" x="255" y="895" width="88" height="170" color-interpolation-filters="sRGB"><feFlood x="256.00" y="896.00" width="1" height="1" flood-color="#000" result="dot"/><feComposite in="dot" in2="dot" operator="over" width="3" height="3" x="255" y="895" result="cell"/><feTile in="cell" result="dots"/><feComposite in="SourceGraphic" in2="dots" operator="in"/><feMorphology operator="dilate" radius="1"/></filter>
<clipPath id="clb02"><rect x="345.95" y="896.9" width="82.75" height="164.5000000000001"/></clipPath>
<clipPath id="crb02"><rect x="428.70" y="896.9" width="82.75" height="164.5000000000001"/></clipPath>
<filter id="fbb02" filterUnits="userSpaceOnUse" x="342.95" y="893.9" width="88.75" height="170.5000000000001" color-interpolation-filters="sRGB">
<feComponentTransfer><feFuncR type="table" tableValues="0.969 0.956 0.944 0.932 0.919 0.907 0.895 0.883 0.870 0.858 0.847 0.835 0.823 0.811 0.799 0.788 0.770 0.751 0.731 0.711 0.692 0.672 0.652 0.633 0.611 0.586 0.561 0.536 0.511 0.485 0.460 0.435 0.407 0.387 0.367 0.346 0.326 0.306 0.286 0.266 0.248 0.232 0.216 0.199 0.183 0.167 0.151 0.134 0.118 0.106 0.093 0.081 0.069 0.056 0.044 0.032 0.031 0.031 0.031 0.031 0.031 0.031 0.031 0.031"/><feFuncG type="table" tableValues="0.984 0.976 0.969 0.961 0.953 0.945 0.937 0.929 0.921 0.913 0.906 0.898 0.890 0.882 0.874 0.866 0.856 0.848 0.839 0.831 0.823 0.814 0.806 0.798 0.787 0.774 0.760 0.746 0.732 0.719 0.705 0.691 0.674 0.660 0.646 0.632 0.619 0.605 0.591 0.577 0.562 0.546 0.529 0.513 0.497 0.481 0.464 0.448 0.428 0.413 0.397 0.381 0.365 0.350 0.334 0.318 0.302 0.286 0.269 0.253 0.237 0.221 0.204 0.188"/><feFuncB type="table" tableValues="1.000 0.996 0.992 0.988 0.984 0.980 0.976 0.972 0.969 0.965 0.961 0.957 0.953 0.949 0.945 0.941 0.935 0.928 0.921 0.914 0.908 0.901 0.894 0.887 0.880 0.875 0.870 0.864 0.859 0.853 0.848 0.843 0.834 0.826 0.819 0.811 0.803 0.795 0.787 0.779 0.771 0.763 0.754 0.746 0.738 0.729 0.721 0.712 0.698 0.686 0.674 0.661 0.649 0.637 0.624 0.612 0.588 0.564 0.540 0.516 0.492 0.468 0.444 0.420"/></feComponentTransfer></filter>
<filter id="frb02" filterUnits="userSpaceOnUse" x="425.70" y="893.9" width="88.75" height="170.5000000000001" color-interpolation-filters="sRGB">
<feComponentTransfer><feFuncR type="table" tableValues="1.000 1.000 0.999 0.999 0.998 0.998 0.997 0.997 0.996 0.995 0.994 0.993 0.992 0.991 0.990 0.989 0.988 0.988 0.988 0.988 0.988 0.988 0.988 0.988 0.988 0.988 0.987 0.987 0.986 0.986 0.985 0.985 0.981 0.975 0.969 0.963 0.957 0.951 0.945 0.939 0.926 0.908 0.890 0.872 0.855 0.837 0.819 0.802 0.779 0.760 0.741 0.722 0.704 0.685 0.666 0.648 0.618 0.587 0.556 0.526 0.495 0.465 0.434 0.404"/><feFuncG type="table" tableValues="0.961 0.950 0.940 0.930 0.919 0.909 0.899 0.888 0.878 0.860 0.841 0.823 0.805 0.787 0.769 0.750 0.727 0.707 0.687 0.666 0.646 0.626 0.606 0.586 0.566 0.546 0.526 0.507 0.487 0.467 0.448 0.428 0.401 0.378 0.355 0.332 0.309 0.286 0.262 0.239 0.220 0.203 0.186 0.168 0.151 0.134 0.117 0.100 0.090 0.086 0.081 0.077 0.072 0.068 0.063 0.059 0.052 0.044 0.037 0.030 0.022 0.015 0.007 0.000"/><feFuncB type="table" tableValues="0.941 0.926 0.912 0.897 0.882 0.867 0.853 0.838 0.823 0.799 0.775 0.750 0.726 0.702 0.678 0.654 0.624 0.601 0.578 0.555 0.532 0.508 0.485 0.462 0.440 0.421 0.401 0.381 0.362 0.342 0.322 0.302 0.281 0.266 0.251 0.237 0.222 0.207 0.192 0.178 0.168 0.160 0.153 0.146 0.138 0.131 0.123 0.116 0.110 0.106 0.102 0.098 0.094 0.090 0.086 0.082 0.079 0.075 0.071 0.067 0.063 0.059 0.055 0.051"/></feComponentTransfer></filter>
<filter id="pbb02" filterUnits="userSpaceOnUse" x="344" y="895" width="88" height="170" color-interpolation-filters="sRGB"><feFlood x="345.00" y="896.00" width="1" height="1" flood-color="#000" result="dot"/><feComposite in="dot" in2="dot" operator="over" width="3" height="3" x="344" y="895" result="cell"/><feTile in="cell" result="dots"/><feComposite in="SourceGraphic" in2="dots" operator="in"/><feMorphology operator="dilate" radius="1"/></filter>
<filter id="prb02" filterUnits="userSpaceOnUse" x="427" y="895" width="88" height="170" color-interpolation-filters="sRGB"><feFlood x="428.00" y="896.00" width="1" height="1" flood-color="#000" result="dot"/><feComposite in="dot" in2="dot" operator="over" width="3" height="3" x="427" y="895" result="cell"/><feTile in="cell" result="dots"/><feComposite in="SourceGraphic" in2="dots" operator="in"/><feMorphology operator="dilate" radius="1"/></filter>
<clipPath id="clb03"><rect x="517.85" y="896.9" width="82.75" height="164.5000000000001"/></clipPath>
<clipPath id="crb03"><rect x="600.60" y="896.9" width="82.75" height="164.5000000000001"/></clipPath>
<filter id="fbb03" filterUnits="userSpaceOnUse" x="514.85" y="893.9" width="88.75" height="170.5000000000001" color-interpolation-filters="sRGB">
<feComponentTransfer><feFuncR type="table" tableValues="0.969 0.956 0.944 0.932 0.919 0.907 0.895 0.883 0.870 0.858 0.847 0.835 0.823 0.811 0.799 0.788 0.770 0.751 0.731 0.711 0.692 0.672 0.652 0.633 0.611 0.586 0.561 0.536 0.511 0.485 0.460 0.435 0.407 0.387 0.367 0.346 0.326 0.306 0.286 0.266 0.248 0.232 0.216 0.199 0.183 0.167 0.151 0.134 0.118 0.106 0.093 0.081 0.069 0.056 0.044 0.032 0.031 0.031 0.031 0.031 0.031 0.031 0.031 0.031"/><feFuncG type="table" tableValues="0.984 0.976 0.969 0.961 0.953 0.945 0.937 0.929 0.921 0.913 0.906 0.898 0.890 0.882 0.874 0.866 0.856 0.848 0.839 0.831 0.823 0.814 0.806 0.798 0.787 0.774 0.760 0.746 0.732 0.719 0.705 0.691 0.674 0.660 0.646 0.632 0.619 0.605 0.591 0.577 0.562 0.546 0.529 0.513 0.497 0.481 0.464 0.448 0.428 0.413 0.397 0.381 0.365 0.350 0.334 0.318 0.302 0.286 0.269 0.253 0.237 0.221 0.204 0.188"/><feFuncB type="table" tableValues="1.000 0.996 0.992 0.988 0.984 0.980 0.976 0.972 0.969 0.965 0.961 0.957 0.953 0.949 0.945 0.941 0.935 0.928 0.921 0.914 0.908 0.901 0.894 0.887 0.880 0.875 0.870 0.864 0.859 0.853 0.848 0.843 0.834 0.826 0.819 0.811 0.803 0.795 0.787 0.779 0.771 0.763 0.754 0.746 0.738 0.729 0.721 0.712 0.698 0.686 0.674 0.661 0.649 0.637 0.624 0.612 0.588 0.564 0.540 0.516 0.492 0.468 0.444 0.420"/></feComponentTransfer></filter>
<filter id="frb03" filterUnits="userSpaceOnUse" x="597.60" y="893.9" width="88.75" height="170.5000000000001" color-interpolation-filters="sRGB">
<feComponentTransfer><feFuncR type="table" tableValues="1.000 1.000 0.999 0.999 0.998 0.998 0.997 0.997 0.996 0.995 0.994 0.993 0.992 0.991 0.990 0.989 0.988 0.988 0.988 0.988 0.988 0.988 0.988 0.988 0.988 0.988 0.987 0.987 0.986 0.986 0.985 0.985 0.981 0.975 0.969 0.963 0.957 0.951 0.945 0.939 0.926 0.908 0.890 0.872 0.855 0.837 0.819 0.802 0.779 0.760 0.741 0.722 0.704 0.685 0.666 0.648 0.618 0.587 0.556 0.526 0.495 0.465 0.434 0.404"/><feFuncG type="table" tableValues="0.961 0.950 0.940 0.930 0.919 0.909 0.899 0.888 0.878 0.860 0.841 0.823 0.805 0.787 0.769 0.750 0.727 0.707 0.687 0.666 0.646 0.626 0.606 0.586 0.566 0.546 0.526 0.507 0.487 0.467 0.448 0.428 0.401 0.378 0.355 0.332 0.309 0.286 0.262 0.239 0.220 0.203 0.186 0.168 0.151 0.134 0.117 0.100 0.090 0.086 0.081 0.077 0.072 0.068 0.063 0.059 0.052 0.044 0.037 0.030 0.022 0.015 0.007 0.000"/><feFuncB type="table" tableValues="0.941 0.926 0.912 0.897 0.882 0.867 0.853 0.838 0.823 0.799 0.775 0.750 0.726 0.702 0.678 0.654 0.624 0.601 0.578 0.555 0.532 0.508 0.485 0.462 0.440 0.421 0.401 0.381 0.362 0.342 0.322 0.302 0.281 0.266 0.251 0.237 0.222 0.207 0.192 0.178 0.168 0.160 0.153 0.146 0.138 0.131 0.123 0.116 0.110 0.106 0.102 0.098 0.094 0.090 0.086 0.082 0.079 0.075 0.071 0.067 0.063 0.059 0.055 0.051"/></feComponentTransfer></filter>
<filter id="pbb03" filterUnits="userSpaceOnUse" x="516" y="895" width="88" height="170" color-interpolation-filters="sRGB"><feFlood x="517.00" y="896.00" width="1" height="1" flood-color="#000" result="dot"/><feComposite in="dot" in2="dot" operator="over" width="3" height="3" x="516" y="895" result="cell"/><feTile in="cell" result="dots"/><feComposite in="SourceGraphic" in2="dots" operator="in"/><feMorphology operator="dilate" radius="1"/></filter>
<filter id="prb03" filterUnits="userSpaceOnUse" x="599" y="895" width="88" height="170" color-interpolation-filters="sRGB"><feFlood x="600.00" y="896.00" width="1" height="1" flood-color="#000" result="dot"/><feComposite in="dot" in2="dot" operator="over" width="3" height="3" x="599" y="895" result="cell"/><feTile in="cell" result="dots"/><feComposite in="SourceGraphic" in2="dots" operator="in"/><feMorphology operator="dilate" radius="1"/></filter>
<clipPath id="clb10"><rect x="2.15" y="1093.1" width="82.75" height="164.10000000000014"/></clipPath>
<clipPath id="crb10"><rect x="84.90" y="1093.1" width="82.75" height="164.10000000000014"/></clipPath>
<filter id="fbb10" filterUnits="userSpaceOnUse" x="-0.85" y="1090.1" width="88.75" height="170.10000000000014" color-interpolation-filters="sRGB">
<feComponentTransfer><feFuncR type="table" tableValues="0.969 0.956 0.944 0.932 0.919 0.907 0.895 0.883 0.870 0.858 0.847 0.835 0.823 0.811 0.799 0.788 0.770 0.751 0.731 0.711 0.692 0.672 0.652 0.633 0.611 0.586 0.561 0.536 0.511 0.485 0.460 0.435 0.407 0.387 0.367 0.346 0.326 0.306 0.286 0.266 0.248 0.232 0.216 0.199 0.183 0.167 0.151 0.134 0.118 0.106 0.093 0.081 0.069 0.056 0.044 0.032 0.031 0.031 0.031 0.031 0.031 0.031 0.031 0.031"/><feFuncG type="table" tableValues="0.984 0.976 0.969 0.961 0.953 0.945 0.937 0.929 0.921 0.913 0.906 0.898 0.890 0.882 0.874 0.866 0.856 0.848 0.839 0.831 0.823 0.814 0.806 0.798 0.787 0.774 0.760 0.746 0.732 0.719 0.705 0.691 0.674 0.660 0.646 0.632 0.619 0.605 0.591 0.577 0.562 0.546 0.529 0.513 0.497 0.481 0.464 0.448 0.428 0.413 0.397 0.381 0.365 0.350 0.334 0.318 0.302 0.286 0.269 0.253 0.237 0.221 0.204 0.188"/><feFuncB type="table" tableValues="1.000 0.996 0.992 0.988 0.984 0.980 0.976 0.972 0.969 0.965 0.961 0.957 0.953 0.949 0.945 0.941 0.935 0.928 0.921 0.914 0.908 0.901 0.894 0.887 0.880 0.875 0.870 0.864 0.859 0.853 0.848 0.843 0.834 0.826 0.819 0.811 0.803 0.795 0.787 0.779 0.771 0.763 0.754 0.746 0.738 0.729 0.721 0.712 0.698 0.686 0.674 0.661 0.649 0.637 0.624 0.612 0.588 0.564 0.540 0.516 0.492 0.468 0.444 0.420"/></feComponentTransfer></filter>
<filter id="frb10" filterUnits="userSpaceOnUse" x="81.90" y="1090.1" width="88.75" height="170.10000000000014" color-interpolation-filters="sRGB">
<feComponentTransfer><feFuncR type="table" tableValues="1.000 1.000 0.999 0.999 0.998 0.998 0.997 0.997 0.996 0.995 0.994 0.993 0.992 0.991 0.990 0.989 0.988 0.988 0.988 0.988 0.988 0.988 0.988 0.988 0.988 0.988 0.987 0.987 0.986 0.986 0.985 0.985 0.981 0.975 0.969 0.963 0.957 0.951 0.945 0.939 0.926 0.908 0.890 0.872 0.855 0.837 0.819 0.802 0.779 0.760 0.741 0.722 0.704 0.685 0.666 0.648 0.618 0.587 0.556 0.526 0.495 0.465 0.434 0.404"/><feFuncG type="table" tableValues="0.961 0.950 0.940 0.930 0.919 0.909 0.899 0.888 0.878 0.860 0.841 0.823 0.805 0.787 0.769 0.750 0.727 0.707 0.687 0.666 0.646 0.626 0.606 0.586 0.566 0.546 0.526 0.507 0.487 0.467 0.448 0.428 0.401 0.378 0.355 0.332 0.309 0.286 0.262 0.239 0.220 0.203 0.186 0.168 0.151 0.134 0.117 0.100 0.090 0.086 0.081 0.077 0.072 0.068 0.063 0.059 0.052 0.044 0.037 0.030 0.022 0.015 0.007 0.000"/><feFuncB type="table" tableValues="0.941 0.926 0.912 0.897 0.882 0.867 0.853 0.838 0.823 0.799 0.775 0.750 0.726 0.702 0.678 0.654 0.624 0.601 0.578 0.555 0.532 0.508 0.485 0.462 0.440 0.421 0.401 0.381 0.362 0.342 0.322 0.302 0.281 0.266 0.251 0.237 0.222 0.207 0.192 0.178 0.168 0.160 0.153 0.146 0.138 0.131 0.123 0.116 0.110 0.106 0.102 0.098 0.094 0.090 0.086 0.082 0.079 0.075 0.071 0.067 0.063 0.059 0.055 0.051"/></feComponentTransfer></filter>
<filter id="pbb10" filterUnits="userSpaceOnUse" x="1" y="1092" width="88" height="170" color-interpolation-filters="sRGB"><feFlood x="2.00" y="1093.00" width="1" height="1" flood-color="#000" result="dot"/><feComposite in="dot" in2="dot" operator="over" width="3" height="3" x="1" y="1092" result="cell"/><feTile in="cell" result="dots"/><feComposite in="SourceGraphic" in2="dots" operator="in"/><feMorphology operator="dilate" radius="1"/></filter>
<filter id="prb10" filterUnits="userSpaceOnUse" x="83" y="1092" width="88" height="170" color-interpolation-filters="sRGB"><feFlood x="84.00" y="1093.00" width="1" height="1" flood-color="#000" result="dot"/><feComposite in="dot" in2="dot" operator="over" width="3" height="3" x="83" y="1092" result="cell"/><feTile in="cell" result="dots"/><feComposite in="SourceGraphic" in2="dots" operator="in"/><feMorphology operator="dilate" radius="1"/></filter>
<clipPath id="clb11"><rect x="174.05" y="1093.1" width="82.75" height="164.10000000000014"/></clipPath>
<clipPath id="crb11"><rect x="256.80" y="1093.1" width="82.75" height="164.10000000000014"/></clipPath>
<filter id="fbb11" filterUnits="userSpaceOnUse" x="171.05" y="1090.1" width="88.75" height="170.10000000000014" color-interpolation-filters="sRGB">
<feComponentTransfer><feFuncR type="table" tableValues="0.969 0.956 0.944 0.932 0.919 0.907 0.895 0.883 0.870 0.858 0.847 0.835 0.823 0.811 0.799 0.788 0.770 0.751 0.731 0.711 0.692 0.672 0.652 0.633 0.611 0.586 0.561 0.536 0.511 0.485 0.460 0.435 0.407 0.387 0.367 0.346 0.326 0.306 0.286 0.266 0.248 0.232 0.216 0.199 0.183 0.167 0.151 0.134 0.118 0.106 0.093 0.081 0.069 0.056 0.044 0.032 0.031 0.031 0.031 0.031 0.031 0.031 0.031 0.031"/><feFuncG type="table" tableValues="0.984 0.976 0.969 0.961 0.953 0.945 0.937 0.929 0.921 0.913 0.906 0.898 0.890 0.882 0.874 0.866 0.856 0.848 0.839 0.831 0.823 0.814 0.806 0.798 0.787 0.774 0.760 0.746 0.732 0.719 0.705 0.691 0.674 0.660 0.646 0.632 0.619 0.605 0.591 0.577 0.562 0.546 0.529 0.513 0.497 0.481 0.464 0.448 0.428 0.413 0.397 0.381 0.365 0.350 0.334 0.318 0.302 0.286 0.269 0.253 0.237 0.221 0.204 0.188"/><feFuncB type="table" tableValues="1.000 0.996 0.992 0.988 0.984 0.980 0.976 0.972 0.969 0.965 0.961 0.957 0.953 0.949 0.945 0.941 0.935 0.928 0.921 0.914 0.908 0.901 0.894 0.887 0.880 0.875 0.870 0.864 0.859 0.853 0.848 0.843 0.834 0.826 0.819 0.811 0.803 0.795 0.787 0.779 0.771 0.763 0.754 0.746 0.738 0.729 0.721 0.712 0.698 0.686 0.674 0.661 0.649 0.637 0.624 0.612 0.588 0.564 0.540 0.516 0.492 0.468 0.444 0.420"/></feComponentTransfer></filter>
<filter id="frb11" filterUnits="userSpaceOnUse" x="253.80" y="1090.1" width="88.75" height="170.10000000000014" color-interpolation-filters="sRGB">
<feComponentTransfer><feFuncR type="table" tableValues="1.000 1.000 0.999 0.999 0.998 0.998 0.997 0.997 0.996 0.995 0.994 0.993 0.992 0.991 0.990 0.989 0.988 0.988 0.988 0.988 0.988 0.988 0.988 0.988 0.988 0.988 0.987 0.987 0.986 0.986 0.985 0.985 0.981 0.975 0.969 0.963 0.957 0.951 0.945 0.939 0.926 0.908 0.890 0.872 0.855 0.837 0.819 0.802 0.779 0.760 0.741 0.722 0.704 0.685 0.666 0.648 0.618 0.587 0.556 0.526 0.495 0.465 0.434 0.404"/><feFuncG type="table" tableValues="0.961 0.950 0.940 0.930 0.919 0.909 0.899 0.888 0.878 0.860 0.841 0.823 0.805 0.787 0.769 0.750 0.727 0.707 0.687 0.666 0.646 0.626 0.606 0.586 0.566 0.546 0.526 0.507 0.487 0.467 0.448 0.428 0.401 0.378 0.355 0.332 0.309 0.286 0.262 0.239 0.220 0.203 0.186 0.168 0.151 0.134 0.117 0.100 0.090 0.086 0.081 0.077 0.072 0.068 0.063 0.059 0.052 0.044 0.037 0.030 0.022 0.015 0.007 0.000"/><feFuncB type="table" tableValues="0.941 0.926 0.912 0.897 0.882 0.867 0.853 0.838 0.823 0.799 0.775 0.750 0.726 0.702 0.678 0.654 0.624 0.601 0.578 0.555 0.532 0.508 0.485 0.462 0.440 0.421 0.401 0.381 0.362 0.342 0.322 0.302 0.281 0.266 0.251 0.237 0.222 0.207 0.192 0.178 0.168 0.160 0.153 0.146 0.138 0.131 0.123 0.116 0.110 0.106 0.102 0.098 0.094 0.090 0.086 0.082 0.079 0.075 0.071 0.067 0.063 0.059 0.055 0.051"/></feComponentTransfer></filter>
<filter id="pbb11" filterUnits="userSpaceOnUse" x="173" y="1092" width="88" height="170" color-interpolation-filters="sRGB"><feFlood x="174.00" y="1093.00" width="1" height="1" flood-color="#000" result="dot"/><feComposite in="dot" in2="dot" operator="over" width="3" height="3" x="173" y="1092" result="cell"/><feTile in="cell" result="dots"/><feComposite in="SourceGraphic" in2="dots" operator="in"/><feMorphology operator="dilate" radius="1"/></filter>
<filter id="prb11" filterUnits="userSpaceOnUse" x="255" y="1092" width="88" height="170" color-interpolation-filters="sRGB"><feFlood x="256.00" y="1093.00" width="1" height="1" flood-color="#000" result="dot"/><feComposite in="dot" in2="dot" operator="over" width="3" height="3" x="255" y="1092" result="cell"/><feTile in="cell" result="dots"/><feComposite in="SourceGraphic" in2="dots" operator="in"/><feMorphology operator="dilate" radius="1"/></filter>
<clipPath id="clb12"><rect x="345.95" y="1093.1" width="82.75" height="164.10000000000014"/></clipPath>
<clipPath id="crb12"><rect x="428.70" y="1093.1" width="82.75" height="164.10000000000014"/></clipPath>
<filter id="fbb12" filterUnits="userSpaceOnUse" x="342.95" y="1090.1" width="88.75" height="170.10000000000014" color-interpolation-filters="sRGB">
<feComponentTransfer><feFuncR type="table" tableValues="0.969 0.956 0.944 0.932 0.919 0.907 0.895 0.883 0.870 0.858 0.847 0.835 0.823 0.811 0.799 0.788 0.770 0.751 0.731 0.711 0.692 0.672 0.652 0.633 0.611 0.586 0.561 0.536 0.511 0.485 0.460 0.435 0.407 0.387 0.367 0.346 0.326 0.306 0.286 0.266 0.248 0.232 0.216 0.199 0.183 0.167 0.151 0.134 0.118 0.106 0.093 0.081 0.069 0.056 0.044 0.032 0.031 0.031 0.031 0.031 0.031 0.031 0.031 0.031"/><feFuncG type="table" tableValues="0.984 0.976 0.969 0.961 0.953 0.945 0.937 0.929 0.921 0.913 0.906 0.898 0.890 0.882 0.874 0.866 0.856 0.848 0.839 0.831 0.823 0.814 0.806 0.798 0.787 0.774 0.760 0.746 0.732 0.719 0.705 0.691 0.674 0.660 0.646 0.632 0.619 0.605 0.591 0.577 0.562 0.546 0.529 0.513 0.497 0.481 0.464 0.448 0.428 0.413 0.397 0.381 0.365 0.350 0.334 0.318 0.302 0.286 0.269 0.253 0.237 0.221 0.204 0.188"/><feFuncB type="table" tableValues="1.000 0.996 0.992 0.988 0.984 0.980 0.976 0.972 0.969 0.965 0.961 0.957 0.953 0.949 0.945 0.941 0.935 0.928 0.921 0.914 0.908 0.901 0.894 0.887 0.880 0.875 0.870 0.864 0.859 0.853 0.848 0.843 0.834 0.826 0.819 0.811 0.803 0.795 0.787 0.779 0.771 0.763 0.754 0.746 0.738 0.729 0.721 0.712 0.698 0.686 0.674 0.661 0.649 0.637 0.624 0.612 0.588 0.564 0.540 0.516 0.492 0.468 0.444 0.420"/></feComponentTransfer></filter>
<filter id="frb12" filterUnits="userSpaceOnUse" x="425.70" y="1090.1" width="88.75" height="170.10000000000014" color-interpolation-filters="sRGB">
<feComponentTransfer><feFuncR type="table" tableValues="1.000 1.000 0.999 0.999 0.998 0.998 0.997 0.997 0.996 0.995 0.994 0.993 0.992 0.991 0.990 0.989 0.988 0.988 0.988 0.988 0.988 0.988 0.988 0.988 0.988 0.988 0.987 0.987 0.986 0.986 0.985 0.985 0.981 0.975 0.969 0.963 0.957 0.951 0.945 0.939 0.926 0.908 0.890 0.872 0.855 0.837 0.819 0.802 0.779 0.760 0.741 0.722 0.704 0.685 0.666 0.648 0.618 0.587 0.556 0.526 0.495 0.465 0.434 0.404"/><feFuncG type="table" tableValues="0.961 0.950 0.940 0.930 0.919 0.909 0.899 0.888 0.878 0.860 0.841 0.823 0.805 0.787 0.769 0.750 0.727 0.707 0.687 0.666 0.646 0.626 0.606 0.586 0.566 0.546 0.526 0.507 0.487 0.467 0.448 0.428 0.401 0.378 0.355 0.332 0.309 0.286 0.262 0.239 0.220 0.203 0.186 0.168 0.151 0.134 0.117 0.100 0.090 0.086 0.081 0.077 0.072 0.068 0.063 0.059 0.052 0.044 0.037 0.030 0.022 0.015 0.007 0.000"/><feFuncB type="table" tableValues="0.941 0.926 0.912 0.897 0.882 0.867 0.853 0.838 0.823 0.799 0.775 0.750 0.726 0.702 0.678 0.654 0.624 0.601 0.578 0.555 0.532 0.508 0.485 0.462 0.440 0.421 0.401 0.381 0.362 0.342 0.322 0.302 0.281 0.266 0.251 0.237 0.222 0.207 0.192 0.178 0.168 0.160 0.153 0.146 0.138 0.131 0.123 0.116 0.110 0.106 0.102 0.098 0.094 0.090 0.086 0.082 0.079 0.075 0.071 0.067 0.063 0.059 0.055 0.051"/></feComponentTransfer></filter>
<filter id="pbb12" filterUnits="userSpaceOnUse" x="344" y="1092" width="88" height="170" color-interpolation-filters="sRGB"><feFlood x="345.00" y="1093.00" width="1" height="1" flood-color="#000" result="dot"/><feComposite in="dot" in2="dot" operator="over" width="3" height="3" x="344" y="1092" result="cell"/><feTile in="cell" result="dots"/><feComposite in="SourceGraphic" in2="dots" operator="in"/><feMorphology operator="dilate" radius="1"/></filter>
<filter id="prb12" filterUnits="userSpaceOnUse" x="427" y="1092" width="88" height="170" color-interpolation-filters="sRGB"><feFlood x="428.00" y="1093.00" width="1" height="1" flood-color="#000" result="dot"/><feComposite in="dot" in2="dot" operator="over" width="3" height="3" x="427" y="1092" result="cell"/><feTile in="cell" result="dots"/><feComposite in="SourceGraphic" in2="dots" operator="in"/><feMorphology operator="dilate" radius="1"/></filter>
<clipPath id="clb13"><rect x="517.85" y="1093.1" width="82.75" height="164.10000000000014"/></clipPath>
<clipPath id="crb13"><rect x="600.60" y="1093.1" width="82.75" height="164.10000000000014"/></clipPath>
<filter id="fbb13" filterUnits="userSpaceOnUse" x="514.85" y="1090.1" width="88.75" height="170.10000000000014" color-interpolation-filters="sRGB">
<feComponentTransfer><feFuncR type="table" tableValues="0.969 0.956 0.944 0.932 0.919 0.907 0.895 0.883 0.870 0.858 0.847 0.835 0.823 0.811 0.799 0.788 0.770 0.751 0.731 0.711 0.692 0.672 0.652 0.633 0.611 0.586 0.561 0.536 0.511 0.485 0.460 0.435 0.407 0.387 0.367 0.346 0.326 0.306 0.286 0.266 0.248 0.232 0.216 0.199 0.183 0.167 0.151 0.134 0.118 0.106 0.093 0.081 0.069 0.056 0.044 0.032 0.031 0.031 0.031 0.031 0.031 0.031 0.031 0.031"/><feFuncG type="table" tableValues="0.984 0.976 0.969 0.961 0.953 0.945 0.937 0.929 0.921 0.913 0.906 0.898 0.890 0.882 0.874 0.866 0.856 0.848 0.839 0.831 0.823 0.814 0.806 0.798 0.787 0.774 0.760 0.746 0.732 0.719 0.705 0.691 0.674 0.660 0.646 0.632 0.619 0.605 0.591 0.577 0.562 0.546 0.529 0.513 0.497 0.481 0.464 0.448 0.428 0.413 0.397 0.381 0.365 0.350 0.334 0.318 0.302 0.286 0.269 0.253 0.237 0.221 0.204 0.188"/><feFuncB type="table" tableValues="1.000 0.996 0.992 0.988 0.984 0.980 0.976 0.972 0.969 0.965 0.961 0.957 0.953 0.949 0.945 0.941 0.935 0.928 0.921 0.914 0.908 0.901 0.894 0.887 0.880 0.875 0.870 0.864 0.859 0.853 0.848 0.843 0.834 0.826 0.819 0.811 0.803 0.795 0.787 0.779 0.771 0.763 0.754 0.746 0.738 0.729 0.721 0.712 0.698 0.686 0.674 0.661 0.649 0.637 0.624 0.612 0.588 0.564 0.540 0.516 0.492 0.468 0.444 0.420"/></feComponentTransfer></filter>
<filter id="frb13" filterUnits="userSpaceOnUse" x="597.60" y="1090.1" width="88.75" height="170.10000000000014" color-interpolation-filters="sRGB">
<feComponentTransfer><feFuncR type="table" tableValues="1.000 1.000 0.999 0.999 0.998 0.998 0.997 0.997 0.996 0.995 0.994 0.993 0.992 0.991 0.990 0.989 0.988 0.988 0.988 0.988 0.988 0.988 0.988 0.988 0.988 0.988 0.987 0.987 0.986 0.986 0.985 0.985 0.981 0.975 0.969 0.963 0.957 0.951 0.945 0.939 0.926 0.908 0.890 0.872 0.855 0.837 0.819 0.802 0.779 0.760 0.741 0.722 0.704 0.685 0.666 0.648 0.618 0.587 0.556 0.526 0.495 0.465 0.434 0.404"/><feFuncG type="table" tableValues="0.961 0.950 0.940 0.930 0.919 0.909 0.899 0.888 0.878 0.860 0.841 0.823 0.805 0.787 0.769 0.750 0.727 0.707 0.687 0.666 0.646 0.626 0.606 0.586 0.566 0.546 0.526 0.507 0.487 0.467 0.448 0.428 0.401 0.378 0.355 0.332 0.309 0.286 0.262 0.239 0.220 0.203 0.186 0.168 0.151 0.134 0.117 0.100 0.090 0.086 0.081 0.077 0.072 0.068 0.063 0.059 0.052 0.044 0.037 0.030 0.022 0.015 0.007 0.000"/><feFuncB type="table" tableValues="0.941 0.926 0.912 0.897 0.882 0.867 0.853 0.838 0.823 0.799 0.775 0.750 0.726 0.702 0.678 0.654 0.624 0.601 0.578 0.555 0.532 0.508 0.485 0.462 0.440 0.421 0.401 0.381 0.362 0.342 0.322 0.302 0.281 0.266 0.251 0.237 0.222 0.207 0.192 0.178 0.168 0.160 0.153 0.146 0.138 0.131 0.123 0.116 0.110 0.106 0.102 0.098 0.094 0.090 0.086 0.082 0.079 0.075 0.071 0.067 0.063 0.059 0.055 0.051"/></feComponentTransfer></filter>
<filter id="pbb13" filterUnits="userSpaceOnUse" x="516" y="1092" width="88" height="170" color-interpolation-filters="sRGB"><feFlood x="517.00" y="1093.00" width="1" height="1" flood-color="#000" result="dot"/><feComposite in="dot" in2="dot" operator="over" width="3" height="3" x="516" y="1092" result="cell"/><feTile in="cell" result="dots"/><feComposite in="SourceGraphic" in2="dots" operator="in"/><feMorphology operator="dilate" radius="1"/></filter>
<filter id="prb13" filterUnits="userSpaceOnUse" x="599" y="1092" width="88" height="170" color-interpolation-filters="sRGB"><feFlood x="600.00" y="1093.00" width="1" height="1" flood-color="#000" result="dot"/><feComposite in="dot" in2="dot" operator="over" width="3" height="3" x="599" y="1092" result="cell"/><feTile in="cell" result="dots"/><feComposite in="SourceGraphic" in2="dots" operator="in"/><feMorphology operator="dilate" radius="1"/></filter>
<linearGradient id="gbl" x1="0" y1="0" x2="1" y2="0"><stop offset="0.000" stop-color="#f7fbff"/><stop offset="0.050" stop-color="#eef5fc"/><stop offset="0.100" stop-color="#e3eef9"/><stop offset="0.150" stop-color="#d9e8f5"/><stop offset="0.200" stop-color="#d0e1f2"/><stop offset="0.250" stop-color="#c6dbef"/><stop offset="0.300" stop-color="#b7d4ea"/><stop offset="0.350" stop-color="#a6cee4"/><stop offset="0.400" stop-color="#94c4df"/><stop offset="0.450" stop-color="#7fb9da"/><stop offset="0.500" stop-color="#6aaed6"/><stop offset="0.550" stop-color="#5ba3d0"/><stop offset="0.600" stop-color="#4a98c9"/><stop offset="0.650" stop-color="#3b8bc2"/><stop offset="0.700" stop-color="#2e7ebc"/><stop offset="0.750" stop-color="#2070b4"/><stop offset="0.800" stop-color="#1764ab"/><stop offset="0.850" stop-color="#0d57a1"/><stop offset="0.900" stop-color="#084a91"/><stop offset="0.950" stop-color="#083c7d"/><stop offset="1.000" stop-color="#08306b"/></linearGradient>
<linearGradient id="grd" x1="0" y1="0" x2="1" y2="0"><stop offset="0.000" stop-color="#fff5f0"/><stop offset="0.050" stop-color="#ffede5"/><stop offset="0.100" stop-color="#fee5d8"/><stop offset="0.150" stop-color="#fed9c9"/><stop offset="0.200" stop-color="#fdcab5"/><stop offset="0.250" stop-color="#fcbba1"/><stop offset="0.300" stop-color="#fcab8f"/><stop offset="0.350" stop-color="#fc9b7c"/><stop offset="0.400" stop-color="#fc8a6a"/><stop offset="0.450" stop-color="#fb7a5a"/><stop offset="0.500" stop-color="#fb694a"/><stop offset="0.550" stop-color="#f6583e"/><stop offset="0.600" stop-color="#f14432"/><stop offset="0.650" stop-color="#e83429"/><stop offset="0.700" stop-color="#d92523"/><stop offset="0.750" stop-color="#ca181d"/><stop offset="0.800" stop-color="#bc141a"/><stop offset="0.850" stop-color="#ac1117"/><stop offset="0.900" stop-color="#980c13"/><stop offset="0.950" stop-color="#7e0610"/><stop offset="1.000" stop-color="#67000d"/></linearGradient>
</defs>
<rect width="685" height="1451" fill="#fff"/>
<text x="1.9" y="12.9" font-size="24.5" font-weight="bold" font-family="Liberation Sans, sans-serif">a.</text>
<g font-family="Liberation Sans, sans-serif" font-size="20.4" fill="#000"><text x="32.25" y="37.4" textLength="15" lengthAdjust="spacingAndGlyphs">Δ</text><text x="48.15" y="37.4" font-style="italic" textLength="7" lengthAdjust="spacingAndGlyphs">t</text><text x="59.85" y="37.4" textLength="15.4" lengthAdjust="spacingAndGlyphs">=</text><text x="81.15" y="37.4" textLength="32" lengthAdjust="spacingAndGlyphs">1.0</text><text x="120.15" y="37.4" font-size="20.83">ns</text></g>
<g font-family="Liberation Sans, sans-serif" font-size="20.4" fill="#000"><text x="202.45" y="37.4" textLength="15" lengthAdjust="spacingAndGlyphs">Δ</text><text x="218.35" y="37.4" font-style="italic" textLength="7" lengthAdjust="spacingAndGlyphs">t</text><text x="230.05" y="37.4" textLength="15.4" lengthAdjust="spacingAndGlyphs">=</text><text x="251.35" y="37.4" textLength="32" lengthAdjust="spacingAndGlyphs">1.0</text><text x="290.35" y="37.4" font-size="20.83">ns</text></g>
<g font-family="Liberation Sans, sans-serif" font-size="20.4" fill="#000"><text x="372.65" y="37.4" textLength="15" lengthAdjust="spacingAndGlyphs">Δ</text><text x="388.55" y="37.4" font-style="italic" textLength="7" lengthAdjust="spacingAndGlyphs">t</text><text x="400.25" y="37.4" textLength="15.4" lengthAdjust="spacingAndGlyphs">=</text><text x="421.55" y="37.4" textLength="32" lengthAdjust="spacingAndGlyphs">1.0</text><text x="460.55" y="37.4" font-size="20.83">ns</text></g>
<g font-family="Liberation Sans, sans-serif" font-size="20.4" fill="#000"><text x="542.85" y="37.4" textLength="15" lengthAdjust="spacingAndGlyphs">Δ</text><text x="558.75" y="37.4" font-style="italic" textLength="7" lengthAdjust="spacingAndGlyphs">t</text><text x="570.45" y="37.4" textLength="15.4" lengthAdjust="spacingAndGlyphs">=</text><text x="591.75" y="37.4" textLength="32" lengthAdjust="spacingAndGlyphs">1.0</text><text x="630.75" y="37.4" font-size="20.83">ns</text></g>
<g clip-path="url(#ca0)"><g filter="url(#pl0)"><rect x="3.6" y="56.1" width="168.0" height="650.5" fill="#000"/><g filter="url(#bx)"><path d="M69.6 50 V297 M69.6 461 V720" stroke="#575757" stroke-width="5.4" fill="none"/><path d="M105.6 50 V290 C105.6 300 104.8 305 104.8 315 V430 C104.8 440 105.6 445 105.6 455 V720" stroke="#575757" stroke-width="5.4" fill="none"/></g><g filter="url(#b05)"><path d="M86 322 C90.5 345 91.5 400 87 432" stroke="#333333" stroke-width="1.4" fill="none"/><path d="M77 325 C79.5 350 79.5 400 77 430" stroke="#383838" stroke-width="1.2" fill="none"/><path d="M66.5 292 V318 M66.5 440 V466" stroke="#292929" stroke-width="1.2" fill="none"/></g><g filter="url(#b2)"><path d="M70.80 298.00 L71.12 298.53 L71.55 299.21 L72.05 300.02 L72.62 300.94 L73.22 301.92 L73.83 302.95 L74.43 303.98 L75.00 305.00 L75.56 306.02 L76.14 307.09 L76.73 308.18 L77.32 309.31 L77.90 310.46 L78.47 311.63 L79.00 312.81 L79.50 314.00 L79.96 315.16 L80.40 316.29 L80.82 317.41 L81.22 318.56 L81.59 319.77 L81.95 321.05 L82.28 322.46 L82.60 324.00 L82.89 325.69 L83.16 327.48 L83.41 329.38 L83.64 331.38 L83.86 333.44 L84.05 335.58 L84.23 337.77 L84.40 340.00 L84.55 342.31 L84.68 344.72 L84.80 347.21 L84.89 349.75 L84.98 352.32 L85.06 354.91 L85.13 357.47 L85.20 360.00 L85.27 362.50 L85.32 365.00 L85.38 367.50 L85.42 370.00 L85.45 372.50 L85.48 375.00 L85.49 377.50 L85.50 380.00 L85.50 382.50 L85.48 385.00 L85.46 387.50 L85.42 390.00 L85.38 392.50 L85.33 395.00 L85.27 397.50 L85.20 400.00 L85.12 402.54 L85.04 405.14 L84.94 407.76 L84.84 410.38 L84.72 412.94 L84.60 415.42 L84.45 417.79 L84.30 420.00 L84.14 422.06 L83.96 424.02 L83.78 425.87 L83.59 427.62 L83.38 429.31 L83.14 430.92 L82.88 432.48 L82.60 434.00 L82.29 435.45 L81.96 436.80 L81.60 438.09 L81.22 439.31 L80.83 440.50 L80.41 441.66 L79.96 442.83 L79.50 444.00 L79.00 445.19 L78.47 446.37 L77.90 447.54 L77.32 448.69 L76.73 449.82 L76.14 450.91 L75.56 451.98 L75.00 453.00 L74.43 454.02 L73.83 455.05 L73.22 456.08 L72.62 457.06 L72.05 457.98 L71.55 458.79 L71.12 459.47 L70.80 460.00" stroke="#737373" stroke-width="10" fill="none" stroke-linecap="round"/></g><g filter="url(#b08)"><path d="M70.80 298.00 L71.12 298.53 L71.55 299.21 L72.05 300.02 L72.62 300.94 L73.22 301.92 L73.83 302.95 L74.43 303.98 L75.00 305.00 L75.56 306.02 L76.14 307.09 L76.73 308.18 L77.32 309.31 L77.90 310.46 L78.47 311.63 L79.00 312.81 L79.50 314.00 L79.96 315.16 L80.40 316.29 L80.82 317.41 L81.22 318.56 L81.59 319.77 L81.95 321.05 L82.28 322.46 L82.60 324.00 L82.89 325.69 L83.16 327.48 L83.41 329.38 L83.64 331.38 L83.86 333.44 L84.05 335.58 L84.23 337.77 L84.40 340.00 L84.55 342.31 L84.68 344.72 L84.80 347.21 L84.89 349.75 L84.98 352.32 L85.06 354.91 L85.13 357.47 L85.20 360.00 L85.27 362.50 L85.32 365.00 L85.38 367.50 L85.42 370.00 L85.45 372.50 L85.48 375.00 L85.49 377.50 L85.50 380.00 L85.50 382.50 L85.48 385.00 L85.46 387.50 L85.42 390.00 L85.38 392.50 L85.33 395.00 L85.27 397.50 L85.20 400.00 L85.12 402.54 L85.04 405.14 L84.94 407.76 L84.84 410.38 L84.72 412.94 L84.60 415.42 L84.45 417.79 L84.30 420.00 L84.14 422.06 L83.96 424.02 L83.78 425.87 L83.59 427.62 L83.38 429.31 L83.14 430.92 L82.88 432.48 L82.60 434.00 L82.29 435.45 L81.96 436.80 L81.60 438.09 L81.22 439.31 L80.83 440.50 L80.41 441.66 L79.96 442.83 L79.50 444.00 L79.00 445.19 L78.47 446.37 L77.90 447.54 L77.32 448.69 L76.73 449.82 L76.14 450.91 L75.56 451.98 L75.00 453.00 L74.43 454.02 L73.83 455.05 L73.22 456.08 L72.62 457.06 L72.05 457.98 L71.55 458.79 L71.12 459.47 L70.80 460.00" stroke="#fff" stroke-width="7.6" fill="none" stroke-linecap="round" stroke-linejoin="round"/></g></g></g>
<g clip-path="url(#ca1)"><g filter="url(#pl1)"><rect x="173.79999999999998" y="56.1" width="168.0" height="650.5" fill="#000"/><g filter="url(#b1)" opacity="1"><path d="M267.0 322.0 L266.7 325.0 L266.3 328.0 L265.9 331.0 L265.4 334.0 L265.0 337.0 L264.7 340.0 L264.4 343.0 L264.1 346.0 L263.8 349.0 L263.6 352.0 L263.5 355.0 L263.4 358.0 L263.3 361.0 L263.3 364.0 L263.2 367.0 L263.2 370.0 L263.1 373.0 L263.1 376.0 L263.1 379.0 L263.0 382.0 L263.0 385.0 L263.0 388.0 L263.1 391.0 L263.1 394.0 L263.1 397.0 L263.1 400.0 L263.2 403.0 L263.2 406.0 L263.2 409.0 L263.2 412.0 L263.3 415.0 L263.4 418.0 L263.5 421.0 L263.7 424.0 L263.9 427.0 L264.1 430.0 L264.4 433.0 L264.8 436.0 L265.2 439.0 L265.6 442.0 L267.3 442.0 L267.8 439.0 L268.3 436.0 L268.8 433.0 L269.2 430.0 L269.6 427.0 L269.9 424.0 L270.2 421.0 L270.5 418.0 L270.7 415.0 L270.8 412.0 L270.8 409.0 L270.8 406.0 L270.8 403.0 L270.9 400.0 L270.9 397.0 L270.9 394.0 L270.9 391.0 L271.0 388.0 L271.0 385.0 L271.0 382.0 L270.9 379.0 L270.9 376.0 L270.9 373.0 L270.8 370.0 L270.8 367.0 L270.7 364.0 L270.7 361.0 L270.6 358.0 L270.5 355.0 L270.5 352.0 L270.3 349.0 L270.2 346.0 L270.0 343.0 L269.8 340.0 L269.6 337.0 L269.3 334.0 L269.0 331.0 L268.7 328.0 L268.4 325.0 L268.2 322.0 Z" fill="#ebebeb"/></g><g filter="url(#b1)"><circle cx="267" cy="324" r="1.6" fill="#595959"/><circle cx="267.4" cy="440.5" r="1.6" fill="#595959"/></g><g filter="url(#b1)"><path d="M237.3 50.0 L237.3 54.0 L237.3 58.0 L237.3 62.0 L237.3 66.0 L237.3 70.0 L237.3 74.0 L237.3 78.0 L237.3 82.0 L237.3 86.0 L237.3 90.0 L237.3 94.0 L237.2 98.0 L237.2 102.0 L237.2 106.0 L237.2 110.0 L237.2 114.0 L237.2 118.0 L237.2 122.0 L237.2 126.0 L237.2 130.0 L237.2 134.0 L237.3 138.0 L237.3 142.0 L237.4 146.0 L237.5 150.0 L237.7 154.0 L237.8 158.0 L237.9 162.0 L238.0 166.0 L238.2 170.0 L238.3 174.0 L238.5 178.0 L238.7 182.0 L239.0 186.0 L239.3 190.0 L239.6 194.0 L239.9 198.0 L240.3 202.0 L240.6 206.0 L240.9 210.0 L241.2 214.0 L241.5 218.0 L241.9 222.0 L242.2 226.0 L242.6 230.0 L243.1 234.0 L243.6 238.0 L244.1 242.0 L244.6 246.0 L245.2 250.0 L245.7 254.0 L246.3 258.0 L246.8 262.0 L247.3 266.0 L247.9 270.0 L248.4 274.0 L248.9 278.0 L249.5 282.0 L250.0 286.0 L250.6 290.0 L251.1 294.0 L251.6 298.0 L252.2 302.0 L252.7 306.0 L253.2 310.0 L253.6 314.0 L254.1 318.0 L254.6 322.0 L255.0 326.0 L255.4 330.0 L255.8 334.0 L256.2 338.0 L256.6 342.0 L256.9 346.0 L257.2 350.0 L257.5 354.0 L257.7 358.0 L257.9 362.0 L258.1 366.0 L258.2 370.0 L258.3 374.0 L258.4 378.0 L258.4 382.0 L258.4 386.0 L258.3 390.0 L258.3 394.0 L258.2 398.0 L258.1 402.0 L258.0 406.0 L257.9 410.0 L257.7 414.0 L257.4 418.0 L257.1 422.0 L256.8 426.0 L256.5 430.0 L256.1 434.0 L255.7 438.0 L255.2 442.0 L254.6 446.0 L254.0 450.0 L253.5 454.0 L252.9 458.0 L252.3 462.0 L251.7 466.0 L251.1 470.0 L250.5 474.0 L249.8 478.0 L249.2 482.0 L248.6 486.0 L248.1 490.0 L247.5 494.0 L247.0 498.0 L246.6 502.0 L246.1 506.0 L245.6 510.0 L245.1 514.0 L244.6 518.0 L244.2 522.0 L243.7 526.0 L243.2 530.0 L242.7 534.0 L242.3 538.0 L241.9 542.0 L241.6 546.0 L241.2 550.0 L240.9 554.0 L240.6 558.0 L240.3 562.0 L240.0 566.0 L239.7 570.0 L239.4 574.0 L239.1 578.0 L238.8 582.0 L238.5 586.0 L238.3 590.0 L238.0 594.0 L237.8 598.0 L237.6 602.0 L237.4 606.0 L237.2 610.0 L237.1 614.0 L237.1 618.0 L237.1 622.0 L237.1 626.0 L237.1 630.0 L237.1 634.0 L237.2 638.0 L237.2 642.0 L237.2 646.0 L237.2 650.0 L237.3 654.0 L237.3 658.0 L237.3 662.0 L237.3 666.0 L237.3 670.0 L237.3 674.0 L237.3 678.0 L237.3 682.0 L237.3 686.0 L237.3 690.0 L237.3 694.0 L237.3 698.0 L237.3 702.0 L237.3 706.0 L237.3 710.0 L242.7 710.0 L242.7 706.0 L242.7 702.0 L242.7 698.0 L242.7 694.0 L242.7 690.0 L242.7 686.0 L242.7 682.0 L242.7 678.0 L242.7 674.0 L242.7 670.0 L242.7 666.0 L242.7 662.0 L242.7 658.0 L242.7 654.0 L242.6 650.0 L242.6 646.0 L242.6 642.0 L242.6 638.0 L242.5 634.0 L242.5 630.0 L242.5 626.0 L242.5 622.0 L242.5 618.0 L242.6 614.0 L242.8 610.0 L243.1 606.0 L243.4 602.0 L243.7 598.0 L244.1 594.0 L244.5 590.0 L244.9 586.0 L245.4 582.0 L245.8 578.0 L246.3 574.0 L246.8 570.0 L247.3 566.0 L247.8 562.0 L248.2 558.0 L248.7 554.0 L249.2 550.0 L249.7 546.0 L250.2 542.0 L250.8 538.0 L251.3 534.0 L251.9 530.0 L252.5 526.0 L253.1 522.0 L253.7 518.0 L254.4 514.0 L255.0 510.0 L255.6 506.0 L256.2 502.0 L256.8 498.0 L257.4 494.0 L258.0 490.0 L258.7 486.0 L259.3 482.0 L260.0 478.0 L260.7 474.0 L261.3 470.0 L262.0 466.0 L262.7 462.0 L263.3 458.0 L264.0 454.0 L264.6 450.0 L265.2 446.0 L265.9 442.0 L266.4 438.0 L266.9 434.0 L267.4 430.0 L267.8 426.0 L268.1 422.0 L268.5 418.0 L268.8 414.0 L269.0 410.0 L269.2 406.0 L269.4 402.0 L269.5 398.0 L269.6 394.0 L269.7 390.0 L269.7 386.0 L269.8 382.0 L269.7 378.0 L269.7 374.0 L269.6 370.0 L269.5 366.0 L269.3 362.0 L269.1 358.0 L268.9 354.0 L268.5 350.0 L268.2 346.0 L267.7 342.0 L267.3 338.0 L266.9 334.0 L266.4 330.0 L265.9 326.0 L265.4 322.0 L264.8 318.0 L264.3 314.0 L263.7 310.0 L263.1 306.0 L262.5 302.0 L261.8 298.0 L261.2 294.0 L260.5 290.0 L259.8 286.0 L259.1 282.0 L258.5 278.0 L257.8 274.0 L257.1 270.0 L256.4 266.0 L255.7 262.0 L255.1 258.0 L254.4 254.0 L253.7 250.0 L253.0 246.0 L252.3 242.0 L251.7 238.0 L251.0 234.0 L250.4 230.0 L249.9 226.0 L249.4 222.0 L248.9 218.0 L248.4 214.0 L248.0 210.0 L247.5 206.0 L247.1 202.0 L246.6 198.0 L246.1 194.0 L245.7 190.0 L245.2 186.0 L244.8 182.0 L244.5 178.0 L244.3 174.0 L244.1 170.0 L243.9 166.0 L243.7 162.0 L243.6 158.0 L243.4 154.0 L243.2 150.0 L243.1 146.0 L243.0 142.0 L242.9 138.0 L242.8 134.0 L242.8 130.0 L242.8 126.0 L242.8 122.0 L242.8 118.0 L242.8 114.0 L242.8 110.0 L242.8 106.0 L242.8 102.0 L242.8 98.0 L242.7 94.0 L242.7 90.0 L242.7 86.0 L242.7 82.0 L242.7 78.0 L242.7 74.0 L242.7 70.0 L242.7 66.0 L242.7 62.0 L242.7 58.0 L242.7 54.0 L242.7 50.0 Z" fill="url(#g2l)"/></g><g filter="url(#b1)"><path d="M272.7 50.0 L272.7 54.0 L272.7 58.0 L272.7 62.0 L272.7 66.0 L272.7 70.0 L272.7 74.0 L272.7 78.0 L272.7 82.0 L272.7 86.0 L272.7 90.0 L272.7 94.0 L272.7 98.0 L272.7 102.0 L272.7 106.0 L272.6 110.0 L272.6 114.0 L272.6 118.0 L272.6 122.0 L272.6 126.0 L272.6 130.0 L272.6 134.0 L272.6 138.0 L272.6 142.0 L272.6 146.0 L272.6 150.0 L272.6 154.0 L272.6 158.0 L272.6 162.0 L272.6 166.0 L272.6 170.0 L272.5 174.0 L272.5 178.0 L272.5 182.0 L272.5 186.0 L272.5 190.0 L272.5 194.0 L272.5 198.0 L272.5 202.0 L272.5 206.0 L272.5 210.0 L272.5 214.0 L272.5 218.0 L272.5 222.0 L272.4 226.0 L272.4 230.0 L272.3 234.0 L272.2 238.0 L272.1 242.0 L272.0 246.0 L271.9 250.0 L271.7 254.0 L271.6 258.0 L271.5 262.0 L271.4 266.0 L271.2 270.0 L271.1 274.0 L270.9 278.0 L270.7 282.0 L270.5 286.0 L270.2 290.0 L270.0 294.0 L269.7 298.0 L269.4 302.0 L269.1 306.0 L268.8 310.0 L268.6 314.0 L268.3 318.0 L268.0 322.0 L267.8 326.0 L267.5 330.0 L267.2 334.0 L266.9 338.0 L266.7 342.0 L266.5 346.0 L266.3 350.0 L266.1 354.0 L266.0 358.0 L266.0 362.0 L265.9 366.0 L265.9 370.0 L265.8 374.0 L265.8 378.0 L265.8 382.0 L265.8 386.0 L265.8 390.0 L265.9 394.0 L265.9 398.0 L265.9 402.0 L265.9 406.0 L266.0 410.0 L266.0 414.0 L266.1 418.0 L266.2 422.0 L266.4 426.0 L266.6 430.0 L266.8 434.0 L267.0 438.0 L267.2 442.0 L267.4 446.0 L267.7 450.0 L267.9 454.0 L268.2 458.0 L268.5 462.0 L268.7 466.0 L269.0 470.0 L269.2 474.0 L269.5 478.0 L269.7 482.0 L270.0 486.0 L270.2 490.0 L270.5 494.0 L270.7 498.0 L270.9 502.0 L271.1 506.0 L271.4 510.0 L271.6 514.0 L271.8 518.0 L272.0 522.0 L272.1 526.0 L272.3 530.0 L272.5 534.0 L272.6 538.0 L272.7 542.0 L272.7 546.0 L272.8 550.0 L272.8 554.0 L272.8 558.0 L272.8 562.0 L272.8 566.0 L272.8 570.0 L272.8 574.0 L272.8 578.0 L272.8 582.0 L272.8 586.0 L272.8 590.0 L272.8 594.0 L272.8 598.0 L272.8 602.0 L272.8 606.0 L272.8 610.0 L272.8 614.0 L272.8 618.0 L272.8 622.0 L272.8 626.0 L272.8 630.0 L272.8 634.0 L272.8 638.0 L272.8 642.0 L272.8 646.0 L272.8 650.0 L272.8 654.0 L272.8 658.0 L272.8 662.0 L272.8 666.0 L272.8 670.0 L272.8 674.0 L272.8 678.0 L272.8 682.0 L272.8 686.0 L272.8 690.0 L272.8 694.0 L272.8 698.0 L272.8 702.0 L272.8 706.0 L272.8 710.0 L277.9 710.0 L277.9 706.0 L277.9 702.0 L277.9 698.0 L277.9 694.0 L277.9 690.0 L277.9 686.0 L277.9 682.0 L277.9 678.0 L277.9 674.0 L277.9 670.0 L277.9 666.0 L277.9 662.0 L277.9 658.0 L277.9 654.0 L277.9 650.0 L277.9 646.0 L277.9 642.0 L277.9 638.0 L277.9 634.0 L277.9 630.0 L277.9 626.0 L277.9 622.0 L277.9 618.0 L277.9 614.0 L277.9 610.0 L277.9 606.0 L277.9 602.0 L277.9 598.0 L277.9 594.0 L277.9 590.0 L277.9 586.0 L277.9 582.0 L277.9 578.0 L277.9 574.0 L277.9 570.0 L277.9 566.0 L277.9 562.0 L277.9 558.0 L277.9 554.0 L277.9 550.0 L277.8 546.0 L277.8 542.0 L277.7 538.0 L277.6 534.0 L277.5 530.0 L277.3 526.0 L277.2 522.0 L277.0 518.0 L276.9 514.0 L276.7 510.0 L276.5 506.0 L276.3 502.0 L276.1 498.0 L275.9 494.0 L275.7 490.0 L275.5 486.0 L275.3 482.0 L275.1 478.0 L274.9 474.0 L274.6 470.0 L274.4 466.0 L274.2 462.0 L274.0 458.0 L273.7 454.0 L273.5 450.0 L273.3 446.0 L273.2 442.0 L273.0 438.0 L273.0 434.0 L272.9 430.0 L272.9 426.0 L272.9 422.0 L272.9 418.0 L272.9 414.0 L272.9 410.0 L272.8 406.0 L272.8 402.0 L272.8 398.0 L272.8 394.0 L272.7 390.0 L272.7 386.0 L272.7 382.0 L272.7 378.0 L272.7 374.0 L272.8 370.0 L272.8 366.0 L272.9 362.0 L272.9 358.0 L273.0 354.0 L273.1 350.0 L273.2 346.0 L273.3 342.0 L273.4 338.0 L273.5 334.0 L273.7 330.0 L273.8 326.0 L273.9 322.0 L274.1 318.0 L274.3 314.0 L274.5 310.0 L274.7 306.0 L274.9 302.0 L275.2 298.0 L275.4 294.0 L275.7 290.0 L275.9 286.0 L276.1 282.0 L276.2 278.0 L276.4 274.0 L276.5 270.0 L276.6 266.0 L276.7 262.0 L276.8 258.0 L276.9 254.0 L277.0 250.0 L277.1 246.0 L277.2 242.0 L277.3 238.0 L277.4 234.0 L277.5 230.0 L277.5 226.0 L277.6 222.0 L277.6 218.0 L277.6 214.0 L277.6 210.0 L277.6 206.0 L277.6 202.0 L277.6 198.0 L277.6 194.0 L277.6 190.0 L277.6 186.0 L277.6 182.0 L277.6 178.0 L277.6 174.0 L277.7 170.0 L277.7 166.0 L277.7 162.0 L277.7 158.0 L277.7 154.0 L277.7 150.0 L277.7 146.0 L277.7 142.0 L277.7 138.0 L277.7 134.0 L277.7 130.0 L277.7 126.0 L277.7 122.0 L277.7 118.0 L277.7 114.0 L277.8 110.0 L277.8 106.0 L277.8 102.0 L277.8 98.0 L277.8 94.0 L277.8 90.0 L277.8 86.0 L277.8 82.0 L277.8 78.0 L277.8 74.0 L277.8 70.0 L277.8 66.0 L277.8 62.0 L277.8 58.0 L277.8 54.0 L277.8 50.0 Z" fill="url(#g2r)"/></g></g></g>
<g clip-path="url(#ca2)"><g filter="url(#nz2)"><rect x="344.0" y="56.1" width="168.0" height="650.5" fill="#000" fill-opacity="0"/><g filter="url(#b3)" opacity="1"><path d="M410.5 50.0 L410.5 53.0 L410.6 56.0 L410.7 59.0 L410.7 62.0 L410.8 65.0 L410.8 68.0 L410.9 71.0 L411.0 74.0 L411.1 77.0 L411.3 80.0 L411.6 83.0 L411.8 86.0 L412.1 89.0 L412.3 92.0 L412.6 95.0 L413.3 98.0 L414.3 101.0 L415.9 104.0 L418.2 107.0 L420.7 110.0 L423.4 113.0 L425.8 116.0 L427.9 119.0 L429.6 122.0 L431.0 125.0 L432.3 128.0 L433.7 131.0 L434.9 134.0 L436.1 137.0 L437.3 140.0 L438.1 143.0 L446.8 143.0 L446.7 140.0 L446.4 137.0 L446.1 134.0 L445.5 131.0 L444.8 128.0 L443.8 125.0 L442.8 122.0 L441.4 119.0 L439.3 116.0 L436.5 113.0 L433.2 110.0 L430.0 107.0 L427.0 104.0 L424.9 101.0 L423.5 98.0 L422.6 95.0 L422.3 92.0 L422.1 89.0 L421.8 86.0 L421.6 83.0 L421.3 80.0 L421.1 77.0 L420.9 74.0 L420.7 71.0 L420.5 68.0 L420.3 65.0 L420.1 62.0 L419.9 59.0 L419.8 56.0 L419.6 53.0 L419.5 50.0 Z" fill="#c7c7c7"/></g><g filter="url(#b3)" opacity="1"><path d="M435.0 50.0 L435.0 53.0 L434.9 56.0 L434.9 59.0 L434.8 62.0 L434.8 65.0 L434.7 68.0 L434.7 71.0 L434.6 74.0 L434.6 77.0 L434.6 80.0 L434.6 83.0 L434.6 86.0 L434.7 89.0 L434.8 92.0 L434.8 95.0 L434.9 98.0 L440.7 98.0 L440.5 95.0 L440.3 92.0 L440.1 89.0 L439.8 86.0 L439.7 83.0 L439.5 80.0 L439.4 77.0 L439.4 74.0 L439.3 71.0 L439.3 68.0 L439.2 65.0 L439.2 62.0 L439.1 59.0 L439.1 56.0 L439.0 53.0 L439.0 50.0 Z" fill="#999999"/></g><g filter="url(#b15)" opacity="1"><path d="M439.1 138.0 L439.0 141.0 L438.8 144.0 L438.6 147.0 L438.4 150.0 L438.3 153.0 L438.2 156.0 L438.2 159.0 L438.2 162.0 L438.2 165.0 L438.2 168.0 L438.2 171.0 L438.2 174.0 L438.2 177.0 L438.2 180.0 L438.2 183.0 L438.2 186.0 L438.2 189.0 L438.2 192.0 L438.1 195.0 L437.8 198.0 L437.4 201.0 L436.9 204.0 L436.5 207.0 L436.2 210.0 L436.1 213.0 L436.0 216.0 L435.9 219.0 L435.9 222.0 L435.8 225.0 L435.7 228.0 L435.7 231.0 L435.6 234.0 L435.5 237.0 L435.4 240.0 L435.4 243.0 L435.3 246.0 L435.2 249.0 L435.2 252.0 L435.1 255.0 L435.0 258.0 L435.0 261.0 L434.9 264.0 L434.8 267.0 L434.7 270.0 L434.6 273.0 L434.5 276.0 L434.4 279.0 L434.3 282.0 L434.2 285.0 L434.1 288.0 L434.0 291.0 L433.9 294.0 L433.8 297.0 L433.8 300.0 L444.3 300.0 L444.4 297.0 L444.4 294.0 L444.5 291.0 L444.6 288.0 L444.6 285.0 L444.7 282.0 L444.7 279.0 L444.8 276.0 L444.8 273.0 L444.9 270.0 L444.9 267.0 L445.0 264.0 L445.1 261.0 L445.1 258.0 L445.1 255.0 L445.2 252.0 L445.2 249.0 L445.3 246.0 L445.3 243.0 L445.3 240.0 L445.4 237.0 L445.4 234.0 L445.5 231.0 L445.5 228.0 L445.6 225.0 L445.6 222.0 L445.6 219.0 L445.7 216.0 L445.7 213.0 L445.9 210.0 L446.1 207.0 L446.5 204.0 L447.1 201.0 L447.4 198.0 L447.7 195.0 L447.8 192.0 L447.8 189.0 L447.8 186.0 L447.8 183.0 L447.8 180.0 L447.8 177.0 L447.8 174.0 L447.8 171.0 L447.8 168.0 L447.8 165.0 L447.8 162.0 L447.8 159.0 L447.8 156.0 L447.7 153.0 L447.6 150.0 L447.4 147.0 L447.2 144.0 L447.0 141.0 L446.9 138.0 Z" fill="#ffffff"/></g><g filter="url(#b15)" opacity="1"><path d="M408.7 160.0 L408.6 163.0 L408.5 166.0 L408.4 169.0 L408.4 172.0 L408.3 175.0 L408.2 178.0 L408.2 181.0 L408.3 184.0 L408.3 187.0 L408.3 190.0 L408.3 193.0 L408.4 196.0 L408.4 199.0 L408.4 202.0 L408.5 205.0 L408.5 208.0 L408.5 211.0 L408.5 214.0 L408.6 217.0 L408.6 220.0 L408.6 223.0 L408.6 226.0 L408.7 229.0 L408.7 232.0 L408.8 235.0 L408.9 238.0 L409.0 241.0 L409.1 244.0 L409.3 247.0 L409.4 250.0 L409.5 253.0 L409.6 256.0 L409.7 259.0 L409.8 262.0 L409.9 265.0 L410.1 268.0 L410.2 271.0 L410.4 274.0 L410.7 277.0 L410.9 280.0 L411.2 283.0 L411.4 286.0 L411.7 289.0 L411.9 292.0 L412.2 295.0 L412.3 298.0 L426.8 298.0 L426.5 295.0 L426.2 292.0 L425.8 289.0 L425.5 286.0 L425.1 283.0 L424.8 280.0 L424.4 277.0 L424.1 274.0 L423.7 271.0 L423.4 268.0 L423.1 265.0 L422.7 262.0 L422.4 259.0 L422.0 256.0 L421.7 253.0 L421.3 250.0 L421.0 247.0 L420.6 244.0 L420.3 241.0 L419.9 238.0 L419.6 235.0 L419.3 232.0 L419.0 229.0 L418.8 226.0 L418.5 223.0 L418.3 220.0 L418.1 217.0 L417.8 214.0 L417.6 211.0 L417.3 208.0 L417.1 205.0 L416.8 202.0 L416.6 199.0 L416.4 196.0 L416.1 193.0 L415.9 190.0 L415.6 187.0 L415.4 184.0 L415.2 181.0 L414.9 178.0 L414.6 175.0 L414.4 172.0 L414.1 169.0 L413.8 166.0 L413.5 163.0 L413.4 160.0 Z" fill="#ffffff"/></g><g filter="url(#b15)" opacity="1"><path d="M415.2 285.0 L415.1 288.0 L415.0 291.0 L414.8 294.0 L414.6 297.0 L414.5 300.0 L414.5 303.0 L414.4 306.0 L414.5 309.0 L414.5 312.0 L414.5 315.0 L414.5 318.0 L414.5 321.0 L414.6 324.0 L414.6 327.0 L414.6 330.0 L414.6 333.0 L414.7 336.0 L414.7 339.0 L414.8 342.0 L414.9 345.0 L415.0 348.0 L415.2 351.0 L415.3 354.0 L415.5 357.0 L415.6 360.0 L415.8 363.0 L415.9 366.0 L416.1 369.0 L416.2 372.0 L416.3 375.0 L416.4 378.0 L416.5 381.0 L416.6 384.0 L416.7 387.0 L416.8 390.0 L416.9 393.0 L417.0 396.0 L417.1 399.0 L417.2 402.0 L417.2 405.0 L417.2 408.0 L417.2 411.0 L417.2 414.0 L417.2 417.0 L417.2 420.0 L417.2 423.0 L417.2 426.0 L417.2 429.0 L417.2 432.0 L417.2 435.0 L417.2 438.0 L417.2 441.0 L417.2 444.0 L417.2 447.0 L417.2 450.0 L417.2 453.0 L417.2 456.0 L417.1 459.0 L417.0 462.0 L416.9 465.0 L416.5 468.0 L415.8 471.0 L415.1 474.0 L439.6 474.0 L439.5 471.0 L439.3 468.0 L439.1 465.0 L439.0 462.0 L438.9 459.0 L438.8 456.0 L438.8 453.0 L438.8 450.0 L438.8 447.0 L438.8 444.0 L438.8 441.0 L438.8 438.0 L438.8 435.0 L438.9 432.0 L438.9 429.0 L439.0 426.0 L439.1 423.0 L439.2 420.0 L439.3 417.0 L439.4 414.0 L439.5 411.0 L439.6 408.0 L439.7 405.0 L439.7 402.0 L439.8 399.0 L439.8 396.0 L439.8 393.0 L439.8 390.0 L439.8 387.0 L439.8 384.0 L439.8 381.0 L439.8 378.0 L439.8 375.0 L439.8 372.0 L439.8 369.0 L439.9 366.0 L439.9 363.0 L440.0 360.0 L440.0 357.0 L440.1 354.0 L440.1 351.0 L440.2 348.0 L440.2 345.0 L440.3 342.0 L440.3 339.0 L440.3 336.0 L440.2 333.0 L440.2 330.0 L440.2 327.0 L440.2 324.0 L440.1 321.0 L440.1 318.0 L440.1 315.0 L440.1 312.0 L440.1 309.0 L440.0 306.0 L440.0 303.0 L439.8 300.0 L439.6 297.0 L439.4 294.0 L439.2 291.0 L439.0 288.0 L438.9 285.0 Z" fill="#ffffff"/></g><g filter="url(#b4)" opacity="0.3"><ellipse cx="431" cy="398" rx="9" ry="20" fill="#000"/><ellipse cx="421" cy="385" rx="5" ry="9" fill="#000"/></g><g filter="url(#b15)" opacity="1"><path d="M408.7 466.0 L408.7 469.0 L408.6 472.0 L408.5 475.0 L408.5 478.0 L408.4 481.0 L408.4 484.0 L408.3 487.0 L408.2 490.0 L408.2 493.0 L408.2 496.0 L408.2 499.0 L408.2 502.0 L408.3 505.0 L408.3 508.0 L408.3 511.0 L408.3 514.0 L408.3 517.0 L408.3 520.0 L408.3 523.0 L408.3 526.0 L408.4 529.0 L408.4 532.0 L408.4 535.0 L408.4 538.0 L408.4 541.0 L408.4 544.0 L408.4 547.0 L408.5 550.0 L408.6 553.0 L408.9 556.0 L409.2 559.0 L418.8 559.0 L419.1 556.0 L419.4 553.0 L419.5 550.0 L419.6 547.0 L419.6 544.0 L419.6 541.0 L419.6 538.0 L419.6 535.0 L419.6 532.0 L419.6 529.0 L419.7 526.0 L419.7 523.0 L419.7 520.0 L419.7 517.0 L419.7 514.0 L419.7 511.0 L419.7 508.0 L419.7 505.0 L419.8 502.0 L419.8 499.0 L419.8 496.0 L419.8 493.0 L419.8 490.0 L419.9 487.0 L420.0 484.0 L420.0 481.0 L420.1 478.0 L420.1 475.0 L420.2 472.0 L420.3 469.0 L420.3 466.0 Z" fill="#ffffff"/></g><g filter="url(#b15)" opacity="1"><path d="M433.7 466.0 L433.7 469.0 L433.7 472.0 L433.7 475.0 L433.7 478.0 L433.7 481.0 L433.7 484.0 L433.7 487.0 L433.7 490.0 L433.7 493.0 L433.7 496.0 L433.7 499.0 L433.8 502.0 L433.8 505.0 L433.8 508.0 L433.8 511.0 L433.8 514.0 L433.8 517.0 L433.8 520.0 L433.9 523.0 L433.9 526.0 L433.9 529.0 L433.9 532.0 L433.9 535.0 L433.9 538.0 L433.9 541.0 L434.0 544.0 L434.0 547.0 L434.0 550.0 L434.0 553.0 L434.0 556.0 L434.0 559.0 L434.1 562.0 L434.1 565.0 L434.1 568.0 L434.1 571.0 L434.1 574.0 L434.1 577.0 L434.1 580.0 L434.2 583.0 L434.2 586.0 L434.2 589.0 L434.2 592.0 L434.3 595.0 L434.4 598.0 L434.5 601.0 L434.6 604.0 L434.7 607.0 L434.8 610.0 L434.8 613.0 L434.9 616.0 L435.0 619.0 L435.1 622.0 L435.2 625.0 L435.3 628.0 L435.4 631.0 L435.5 634.0 L435.6 637.0 L435.7 640.0 L435.9 643.0 L436.1 646.0 L436.4 649.0 L442.6 649.0 L442.9 646.0 L443.1 643.0 L443.3 640.0 L443.4 637.0 L443.5 634.0 L443.6 631.0 L443.7 628.0 L443.8 625.0 L443.9 622.0 L444.0 619.0 L444.1 616.0 L444.2 613.0 L444.2 610.0 L444.3 607.0 L444.4 604.0 L444.5 601.0 L444.6 598.0 L444.7 595.0 L444.8 592.0 L444.8 589.0 L444.8 586.0 L444.8 583.0 L444.9 580.0 L444.9 577.0 L444.9 574.0 L444.9 571.0 L444.9 568.0 L444.9 565.0 L444.9 562.0 L445.0 559.0 L445.0 556.0 L445.0 553.0 L445.0 550.0 L445.0 547.0 L445.0 544.0 L445.1 541.0 L445.1 538.0 L445.1 535.0 L445.1 532.0 L445.1 529.0 L445.1 526.0 L445.1 523.0 L445.2 520.0 L445.2 517.0 L445.2 514.0 L445.2 511.0 L445.2 508.0 L445.2 505.0 L445.2 502.0 L445.3 499.0 L445.3 496.0 L445.3 493.0 L445.3 490.0 L445.3 487.0 L445.3 484.0 L445.3 481.0 L445.3 478.0 L445.3 475.0 L445.3 472.0 L445.3 469.0 L445.3 466.0 Z" fill="#ffffff"/></g><g filter="url(#b2)" opacity="1"><path d="M410.5 550.0 L410.6 553.0 L410.6 556.0 L410.7 559.0 L410.8 562.0 L410.9 565.0 L411.0 568.0 L411.1 571.0 L411.2 574.0 L411.3 577.0 L411.4 580.0 L411.4 583.0 L411.5 586.0 L411.6 589.0 L411.7 592.0 L411.8 595.0 L411.9 598.0 L412.0 601.0 L412.0 604.0 L412.1 607.0 L412.1 610.0 L412.1 613.0 L412.1 616.0 L412.2 619.0 L412.2 622.0 L412.2 625.0 L412.3 628.0 L412.3 631.0 L412.3 634.0 L412.4 637.0 L412.4 640.0 L412.4 643.0 L412.4 646.0 L412.5 649.0 L412.4 652.0 L412.4 655.0 L412.3 658.0 L412.3 661.0 L412.2 664.0 L412.1 667.0 L412.0 670.0 L412.0 673.0 L411.9 676.0 L411.8 679.0 L411.7 682.0 L411.7 685.0 L411.6 688.0 L411.5 691.0 L411.4 694.0 L411.4 697.0 L411.3 700.0 L411.2 703.0 L411.1 706.0 L411.1 709.0 L417.1 709.0 L417.1 706.0 L417.2 703.0 L417.3 700.0 L417.4 697.0 L417.4 694.0 L417.5 691.0 L417.6 688.0 L417.7 685.0 L417.7 682.0 L417.8 679.0 L417.9 676.0 L418.0 673.0 L418.0 670.0 L418.1 667.0 L418.2 664.0 L418.3 661.0 L418.3 658.0 L418.4 655.0 L418.4 652.0 L418.5 649.0 L418.4 646.0 L418.4 643.0 L418.4 640.0 L418.4 637.0 L418.3 634.0 L418.3 631.0 L418.3 628.0 L418.2 625.0 L418.2 622.0 L418.2 619.0 L418.1 616.0 L418.1 613.0 L418.1 610.0 L418.1 607.0 L418.0 604.0 L418.0 601.0 L418.0 598.0 L417.9 595.0 L417.9 592.0 L417.9 589.0 L417.8 586.0 L417.8 583.0 L417.8 580.0 L417.8 577.0 L417.7 574.0 L417.7 571.0 L417.7 568.0 L417.6 565.0 L417.6 562.0 L417.6 559.0 L417.5 556.0 L417.5 553.0 L417.5 550.0 Z" fill="#adadad"/></g><g filter="url(#b2)" opacity="1"><path d="M437.0 640.0 L436.9 643.0 L436.9 646.0 L436.8 649.0 L436.7 652.0 L436.7 655.0 L436.6 658.0 L436.5 661.0 L436.4 664.0 L436.4 667.0 L436.3 670.0 L436.2 673.0 L436.1 676.0 L436.1 679.0 L436.0 682.0 L435.9 685.0 L435.8 688.0 L435.7 691.0 L435.6 694.0 L435.5 697.0 L435.4 700.0 L435.3 703.0 L435.2 706.0 L435.1 709.0 L440.1 709.0 L440.2 706.0 L440.3 703.0 L440.4 700.0 L440.5 697.0 L440.6 694.0 L440.7 691.0 L440.8 688.0 L440.9 685.0 L441.0 682.0 L441.1 679.0 L441.1 676.0 L441.2 673.0 L441.3 670.0 L441.4 667.0 L441.4 664.0 L441.5 661.0 L441.6 658.0 L441.7 655.0 L441.7 652.0 L441.8 649.0 L441.9 646.0 L441.9 643.0 L442.0 640.0 Z" fill="#999999"/></g></g></g>
<g clip-path="url(#ca3)"><g filter="url(#nz3)"><rect x="514.1999999999999" y="56.1" width="168.0" height="650.5" fill="#000" fill-opacity="0"/><g filter="url(#b2)" opacity="1"><path d="M578.6 50.0 L578.6 53.0 L578.6 56.0 L578.5 59.0 L578.5 62.0 L578.5 65.0 L578.5 68.0 L578.4 71.0 L578.4 74.0 L578.4 77.0 L578.4 80.0 L578.5 83.0 L578.6 86.0 L578.8 89.0 L579.0 92.0 L579.2 95.0 L579.4 98.0 L579.6 101.0 L579.7 104.0 L579.9 107.0 L579.9 110.0 L579.9 113.0 L579.8 116.0 L579.7 119.0 L579.7 122.0 L579.6 125.0 L579.5 128.0 L579.5 131.0 L579.4 134.0 L579.3 137.0 L579.3 140.0 L579.2 143.0 L579.1 146.0 L579.0 149.0 L579.0 152.0 L578.9 155.0 L578.8 158.0 L578.7 161.0 L578.5 164.0 L578.4 167.0 L578.2 170.0 L578.0 173.0 L577.9 176.0 L577.7 179.0 L577.6 182.0 L577.4 185.0 L577.3 188.0 L577.1 191.0 L577.0 194.0 L576.8 197.0 L576.6 200.0 L576.5 203.0 L576.3 206.0 L576.2 209.0 L576.1 212.0 L576.1 215.0 L576.0 218.0 L575.9 221.0 L575.8 224.0 L575.8 227.0 L575.7 230.0 L575.6 233.0 L575.5 236.0 L575.5 239.0 L575.4 242.0 L575.3 245.0 L575.2 248.0 L575.2 251.0 L575.1 254.0 L575.2 257.0 L575.3 260.0 L575.6 263.0 L575.9 266.0 L576.2 269.0 L584.9 269.0 L584.5 266.0 L584.0 263.0 L583.5 260.0 L583.2 257.0 L583.1 254.0 L583.1 251.0 L583.1 248.0 L583.2 245.0 L583.2 242.0 L583.3 239.0 L583.3 236.0 L583.4 233.0 L583.4 230.0 L583.5 227.0 L583.5 224.0 L583.5 221.0 L583.6 218.0 L583.6 215.0 L583.7 212.0 L583.8 209.0 L583.9 206.0 L584.0 203.0 L584.1 200.0 L584.3 197.0 L584.5 194.0 L584.6 191.0 L584.8 188.0 L584.9 185.0 L585.1 182.0 L585.2 179.0 L585.4 176.0 L585.5 173.0 L585.7 170.0 L585.9 167.0 L586.0 164.0 L586.2 161.0 L586.3 158.0 L586.4 155.0 L586.5 152.0 L586.6 149.0 L586.7 146.0 L586.8 143.0 L586.9 140.0 L587.0 137.0 L587.1 134.0 L587.2 131.0 L587.3 128.0 L587.4 125.0 L587.5 122.0 L587.6 119.0 L587.7 116.0 L587.8 113.0 L587.9 110.0 L587.9 107.0 L587.8 104.0 L587.7 101.0 L587.6 98.0 L587.4 95.0 L587.3 92.0 L587.1 89.0 L587.0 86.0 L586.9 83.0 L586.8 80.0 L586.8 77.0 L586.8 74.0 L586.8 71.0 L586.7 68.0 L586.7 65.0 L586.7 62.0 L586.7 59.0 L586.6 56.0 L586.6 53.0 L586.6 50.0 Z" fill="#cccccc"/></g><g filter="url(#b2)" opacity="1"><path d="M614.3 50.0 L614.3 53.0 L614.2 56.0 L614.2 59.0 L614.1 62.0 L614.0 65.0 L614.0 68.0 L613.9 71.0 L613.8 74.0 L613.8 77.0 L613.7 80.0 L613.6 83.0 L613.5 86.0 L613.5 89.0 L613.4 92.0 L613.3 95.0 L613.3 98.0 L613.2 101.0 L613.1 104.0 L613.2 107.0 L613.2 110.0 L613.3 113.0 L613.5 116.0 L613.6 119.0 L613.8 122.0 L613.9 125.0 L614.1 128.0 L614.2 131.0 L614.4 134.0 L614.5 137.0 L614.7 140.0 L614.8 143.0 L615.0 146.0 L615.1 149.0 L615.3 152.0 L615.3 155.0 L615.2 158.0 L615.0 161.0 L614.6 164.0 L614.1 167.0 L613.6 170.0 L613.2 173.0 L612.7 176.0 L612.3 179.0 L612.0 182.0 L611.8 185.0 L611.6 188.0 L611.6 191.0 L611.5 194.0 L611.4 197.0 L611.4 200.0 L611.3 203.0 L611.2 206.0 L611.2 209.0 L611.1 212.0 L611.0 215.0 L611.0 218.0 L610.9 221.0 L610.8 224.0 L610.8 227.0 L610.7 230.0 L610.7 233.0 L610.8 236.0 L610.9 239.0 L611.0 242.0 L611.1 245.0 L611.2 248.0 L611.3 251.0 L611.4 254.0 L611.5 257.0 L611.6 260.0 L611.7 263.0 L611.9 266.0 L612.0 269.0 L612.1 272.0 L612.3 275.0 L612.4 278.0 L612.6 281.0 L612.7 284.0 L619.7 284.0 L619.6 281.0 L619.4 278.0 L619.3 275.0 L619.1 272.0 L619.0 269.0 L618.9 266.0 L618.7 263.0 L618.6 260.0 L618.5 257.0 L618.3 254.0 L618.1 251.0 L618.0 248.0 L617.8 245.0 L617.7 242.0 L617.5 239.0 L617.4 236.0 L617.3 233.0 L617.2 230.0 L617.3 227.0 L617.3 224.0 L617.4 221.0 L617.5 218.0 L617.5 215.0 L617.6 212.0 L617.7 209.0 L617.7 206.0 L617.8 203.0 L617.9 200.0 L617.9 197.0 L618.0 194.0 L618.1 191.0 L618.1 188.0 L618.3 185.0 L618.5 182.0 L618.8 179.0 L619.2 176.0 L619.7 173.0 L620.1 170.0 L620.6 167.0 L621.1 164.0 L621.5 161.0 L621.7 158.0 L621.8 155.0 L621.8 152.0 L621.6 149.0 L621.5 146.0 L621.3 143.0 L621.2 140.0 L621.0 137.0 L620.9 134.0 L620.7 131.0 L620.6 128.0 L620.4 125.0 L620.3 122.0 L620.1 119.0 L620.0 116.0 L619.8 113.0 L619.7 110.0 L619.7 107.0 L619.6 104.0 L619.7 101.0 L619.8 98.0 L619.8 95.0 L619.9 92.0 L620.0 89.0 L620.0 86.0 L620.1 83.0 L620.2 80.0 L620.3 77.0 L620.3 74.0 L620.4 71.0 L620.5 68.0 L620.5 65.0 L620.6 62.0 L620.7 59.0 L620.7 56.0 L620.8 53.0 L620.8 50.0 Z" fill="#c7c7c7"/></g><g filter="url(#b15)" opacity="1"><path d="M576.9 262.0 L577.0 265.0 L577.2 268.0 L577.5 271.0 L577.9 274.0 L578.4 277.0 L579.0 280.0 L579.7 283.0 L580.4 286.0 L581.1 289.0 L581.8 292.0 L582.6 295.0 L583.3 298.0 L584.0 301.0 L584.7 304.0 L585.3 307.0 L585.9 310.0 L586.4 313.0 L586.9 316.0 L587.3 319.0 L587.8 322.0 L588.3 325.0 L588.7 328.0 L588.9 331.0 L589.0 334.0 L589.0 337.0 L588.8 340.0 L588.6 343.0 L588.5 346.0 L588.4 349.0 L588.3 352.0 L588.3 355.0 L588.3 358.0 L588.3 361.0 L588.3 364.0 L588.2 367.0 L588.2 370.0 L588.2 373.0 L588.2 376.0 L588.2 379.0 L588.2 382.0 L588.1 385.0 L588.1 388.0 L588.1 391.0 L588.1 394.0 L588.1 397.0 L588.1 400.0 L608.0 400.0 L608.0 397.0 L608.0 394.0 L608.0 391.0 L608.0 388.0 L608.0 385.0 L608.1 382.0 L608.1 379.0 L608.1 376.0 L608.1 373.0 L608.1 370.0 L608.1 367.0 L608.2 364.0 L608.2 361.0 L608.2 358.0 L608.2 355.0 L608.2 352.0 L608.2 349.0 L608.2 346.0 L608.1 343.0 L608.0 340.0 L607.9 337.0 L607.6 334.0 L607.1 331.0 L606.3 328.0 L605.2 325.0 L604.1 322.0 L603.0 319.0 L601.8 316.0 L600.7 313.0 L599.6 310.0 L598.5 307.0 L597.4 304.0 L596.4 301.0 L595.3 298.0 L594.3 295.0 L593.3 292.0 L592.3 289.0 L591.2 286.0 L590.2 283.0 L589.2 280.0 L588.2 277.0 L587.3 274.0 L586.4 271.0 L585.5 268.0 L584.8 265.0 L584.4 262.0 Z" fill="#ffffff"/></g><g filter="url(#b15)" opacity="1"><path d="M612.6 278.0 L612.7 281.0 L612.7 284.0 L612.8 287.0 L612.9 290.0 L613.0 293.0 L613.1 296.0 L613.2 299.0 L613.3 302.0 L613.1 305.0 L612.7 308.0 L612.0 311.0 L611.0 314.0 L609.9 317.0 L608.6 320.0 L606.9 323.0 L605.6 326.0 L615.5 326.0 L616.7 323.0 L618.0 320.0 L619.1 317.0 L620.0 314.0 L620.7 311.0 L621.2 308.0 L621.5 305.0 L621.5 302.0 L621.3 299.0 L621.1 296.0 L620.9 293.0 L620.7 290.0 L620.5 287.0 L620.3 284.0 L620.1 281.0 L620.0 278.0 Z" fill="#ffffff"/></g><g filter="url(#b15)" opacity="1"><path d="M588.3 396.0 L588.3 399.0 L588.2 402.0 L588.2 405.0 L588.2 408.0 L588.1 411.0 L588.1 414.0 L588.1 417.0 L588.1 420.0 L588.1 423.0 L588.2 426.0 L588.2 429.0 L588.2 432.0 L588.2 435.0 L588.2 438.0 L588.2 441.0 L588.1 444.0 L588.0 447.0 L587.9 450.0 L587.9 453.0 L587.8 456.0 L587.7 459.0 L587.7 462.0 L587.6 465.0 L587.6 468.0 L587.6 471.0 L587.6 474.0 L587.6 477.0 L587.4 480.0 L587.1 483.0 L586.7 486.0 L609.3 486.0 L608.9 483.0 L608.5 480.0 L608.2 477.0 L608.1 474.0 L608.0 471.0 L607.8 468.0 L607.7 465.0 L607.6 462.0 L607.6 459.0 L607.6 456.0 L607.6 453.0 L607.6 450.0 L607.6 447.0 L607.7 444.0 L607.7 441.0 L607.7 438.0 L607.7 435.0 L607.7 432.0 L607.8 429.0 L607.8 426.0 L607.9 423.0 L607.9 420.0 L607.9 417.0 L607.9 414.0 L607.9 411.0 L607.8 408.0 L607.8 405.0 L607.8 402.0 L607.7 399.0 L607.7 396.0 Z" fill="#ffffff"/></g><g filter="url(#b4)" opacity="0.22"><ellipse cx="601" cy="418" rx="7" ry="18" fill="#000"/></g><g filter="url(#b15)" opacity="1"><path d="M585.2 482.0 L585.0 485.0 L584.7 488.0 L584.3 491.0 L583.9 494.0 L583.5 497.0 L583.1 500.0 L582.7 503.0 L582.2 506.0 L581.8 509.0 L581.4 512.0 L581.0 515.0 L580.5 518.0 L580.1 521.0 L579.7 524.0 L579.3 527.0 L579.0 530.0 L578.7 533.0 L578.5 536.0 L578.2 539.0 L578.0 542.0 L577.7 545.0 L577.5 548.0 L577.3 551.0 L577.0 554.0 L576.8 557.0 L576.6 560.0 L576.3 563.0 L576.1 566.0 L575.9 569.0 L575.8 572.0 L575.9 575.0 L576.1 578.0 L585.1 578.0 L585.5 575.0 L585.9 572.0 L586.3 569.0 L586.6 566.0 L586.8 563.0 L587.1 560.0 L587.4 557.0 L587.7 554.0 L587.9 551.0 L588.2 548.0 L588.5 545.0 L588.7 542.0 L589.0 539.0 L589.3 536.0 L589.5 533.0 L589.9 530.0 L590.2 527.0 L590.6 524.0 L591.1 521.0 L591.6 518.0 L592.0 515.0 L592.5 512.0 L593.0 509.0 L593.4 506.0 L593.9 503.0 L594.4 500.0 L594.8 497.0 L595.3 494.0 L595.7 491.0 L596.1 488.0 L596.4 485.0 L596.6 482.0 Z" fill="#ffffff"/></g><g filter="url(#b15)" opacity="1"><path d="M600.6 482.0 L601.1 485.0 L602.0 488.0 L602.9 491.0 L603.8 494.0 L604.6 497.0 L605.3 500.0 L606.1 503.0 L606.8 506.0 L607.5 509.0 L608.2 512.0 L608.8 515.0 L609.1 518.0 L609.3 521.0 L609.3 524.0 L609.3 527.0 L609.3 530.0 L609.3 533.0 L609.3 536.0 L609.3 539.0 L609.3 542.0 L609.3 545.0 L609.3 548.0 L609.3 551.0 L609.3 554.0 L609.3 557.0 L609.3 560.0 L609.3 563.0 L609.3 566.0 L609.3 569.0 L609.3 572.0 L609.3 575.0 L609.3 578.0 L609.3 581.0 L609.3 584.0 L609.3 587.0 L609.4 590.0 L609.6 593.0 L610.0 596.0 L610.3 599.0 L619.0 599.0 L619.6 596.0 L620.2 593.0 L620.6 590.0 L620.8 587.0 L620.9 584.0 L621.0 581.0 L621.1 578.0 L621.1 575.0 L621.2 572.0 L621.3 569.0 L621.4 566.0 L621.5 563.0 L621.5 560.0 L621.6 557.0 L621.7 554.0 L621.7 551.0 L621.7 548.0 L621.7 545.0 L621.7 542.0 L621.7 539.0 L621.7 536.0 L621.7 533.0 L621.7 530.0 L621.7 527.0 L621.7 524.0 L621.7 521.0 L621.5 518.0 L621.2 515.0 L620.6 512.0 L619.9 509.0 L619.2 506.0 L618.5 503.0 L617.7 500.0 L617.0 497.0 L616.2 494.0 L615.1 491.0 L613.9 488.0 L612.8 485.0 L612.1 482.0 Z" fill="#ffffff"/></g><g filter="url(#b2)" opacity="1"><path d="M577.0 572.0 L577.0 575.0 L577.0 578.0 L577.0 581.0 L576.9 584.0 L576.9 587.0 L576.9 590.0 L576.9 593.0 L576.9 596.0 L576.8 599.0 L576.8 602.0 L576.8 605.0 L576.8 608.0 L576.9 611.0 L577.0 614.0 L577.2 617.0 L577.5 620.0 L577.7 623.0 L578.0 626.0 L578.2 629.0 L578.5 632.0 L578.7 635.0 L578.9 638.0 L579.1 641.0 L579.1 644.0 L579.0 647.0 L578.9 650.0 L578.8 653.0 L578.7 656.0 L578.6 659.0 L578.5 662.0 L578.4 665.0 L578.3 668.0 L578.1 671.0 L578.0 674.0 L577.9 677.0 L577.8 680.0 L577.8 683.0 L577.8 686.0 L577.8 689.0 L577.9 692.0 L577.9 695.0 L578.0 698.0 L578.0 701.0 L578.0 704.0 L578.1 707.0 L578.1 710.0 L584.6 710.0 L584.6 707.0 L584.5 704.0 L584.5 701.0 L584.5 698.0 L584.4 695.0 L584.4 692.0 L584.3 689.0 L584.3 686.0 L584.3 683.0 L584.3 680.0 L584.4 677.0 L584.5 674.0 L584.6 671.0 L584.8 668.0 L584.9 665.0 L585.0 662.0 L585.1 659.0 L585.2 656.0 L585.3 653.0 L585.4 650.0 L585.5 647.0 L585.6 644.0 L585.6 641.0 L585.4 638.0 L585.2 635.0 L585.0 632.0 L584.7 629.0 L584.5 626.0 L584.2 623.0 L584.0 620.0 L583.7 617.0 L583.5 614.0 L583.4 611.0 L583.3 608.0 L583.4 605.0 L583.4 602.0 L583.5 599.0 L583.6 596.0 L583.6 593.0 L583.7 590.0 L583.7 587.0 L583.8 584.0 L583.9 581.0 L583.9 578.0 L584.0 575.0 L584.0 572.0 Z" fill="#c2c2c2"/></g><g filter="url(#b2)" opacity="1"><path d="M610.5 595.0 L610.5 598.0 L610.4 601.0 L610.4 604.0 L610.3 607.0 L610.3 610.0 L610.2 613.0 L610.2 616.0 L610.1 619.0 L610.1 622.0 L610.0 625.0 L610.0 628.0 L609.9 631.0 L609.9 634.0 L609.8 637.0 L609.8 640.0 L609.8 643.0 L609.9 646.0 L609.9 649.0 L610.0 652.0 L610.1 655.0 L610.2 658.0 L610.2 661.0 L610.3 664.0 L610.4 667.0 L610.5 670.0 L610.5 673.0 L610.6 676.0 L610.7 679.0 L610.7 682.0 L610.7 685.0 L610.8 688.0 L610.8 691.0 L610.8 694.0 L610.8 697.0 L610.8 700.0 L610.8 703.0 L610.8 706.0 L610.8 709.0 L617.2 709.0 L617.2 706.0 L617.2 703.0 L617.2 700.0 L617.2 697.0 L617.2 694.0 L617.2 691.0 L617.2 688.0 L617.2 685.0 L617.2 682.0 L617.2 679.0 L617.1 676.0 L617.0 673.0 L617.0 670.0 L616.9 667.0 L616.8 664.0 L616.7 661.0 L616.7 658.0 L616.6 655.0 L616.5 652.0 L616.4 649.0 L616.4 646.0 L616.3 643.0 L616.3 640.0 L616.4 637.0 L616.5 634.0 L616.5 631.0 L616.6 628.0 L616.7 625.0 L616.8 622.0 L616.9 619.0 L617.0 616.0 L617.0 613.0 L617.1 610.0 L617.2 607.0 L617.3 604.0 L617.4 601.0 L617.4 598.0 L617.5 595.0 Z" fill="#c2c2c2"/></g></g></g>
<rect x="4.9" y="57.4" width="165.4" height="647.9" fill="none" stroke="#000" stroke-width="2.6"/>
<rect x="12.80" y="62" width="21.6" height="28.8" fill="#000"/>
<text x="23.60" y="82.1" font-size="20.83" fill="#fff" text-anchor="middle" font-family="Liberation Sans, sans-serif">1.</text>
<rect x="175.1" y="57.4" width="165.4" height="647.9" fill="none" stroke="#000" stroke-width="2.6"/>
<rect x="183.00" y="62" width="21.6" height="28.8" fill="#000"/>
<text x="193.80" y="82.1" font-size="20.83" fill="#fff" text-anchor="middle" font-family="Liberation Sans, sans-serif">2.</text>
<rect x="345.3" y="57.4" width="165.4" height="647.9" fill="none" stroke="#000" stroke-width="2.6"/>
<rect x="353.20" y="62" width="21.6" height="28.8" fill="#000"/>
<text x="364.00" y="82.1" font-size="20.83" fill="#fff" text-anchor="middle" font-family="Liberation Sans, sans-serif">3.</text>
<rect x="515.4999999999999" y="57.4" width="165.4" height="647.9" fill="none" stroke="#000" stroke-width="2.6"/>
<rect x="523.40" y="62" width="21.6" height="28.8" fill="#000"/>
<text x="534.20" y="82.1" font-size="20.83" fill="#fff" text-anchor="middle" font-family="Liberation Sans, sans-serif">4.</text>
<circle cx="87.9" cy="111.8" r="12" fill="none" stroke="#fff" stroke-width="3"/><circle cx="87.9" cy="111.8" r="3.7" fill="#fff"/>
<text x="91" y="152.8" font-size="20.83" fill="#fff" text-anchor="middle" font-family="Liberation Sans, sans-serif">X-ray probe</text>
<path d="M65.00 213.10 L99.25 213.10" stroke="#fff" stroke-width="2.1" fill="none"/><path d="M110.50 213.10 L95.50 219.00 L99.25 213.10 L95.50 207.20 Z" fill="#fff"/>
<text x="90.2" y="245.9" font-size="20.83" fill="#fff" text-anchor="middle" font-family="Liberation Sans, sans-serif">Laser</text>
<path d="M32.30 566.00 L32.30 519.15" stroke="#fff" stroke-width="2.1" fill="none"/><path d="M32.30 507.90 L38.20 522.90 L32.30 519.15 L26.40 522.90 Z" fill="#fff"/>
<path d="M31.30 565.00 L78.65 565.00" stroke="#fff" stroke-width="2.1" fill="none"/><path d="M89.90 565.00 L74.90 570.90 L78.65 565.00 L74.90 559.10 Z" fill="#fff"/>
<text x="15.2" y="545.8" font-size="20.83" fill="#fff" font-family="Liberation Sans, sans-serif">y</text>
<text x="47.6" y="583" font-size="20.83" fill="#fff" font-family="Liberation Sans, sans-serif">x</text>
<text x="87.7" y="642.6" font-size="20.83" fill="#fff" text-anchor="middle" font-family="Liberation Sans, sans-serif">30 µm</text>
<rect x="57.6" y="661.3" width="60.3" height="6.7" fill="#fff"/>
<rect x="4.9" y="713.1999999999999" width="676.0" height="18.00000000000002" fill="url(#gpl)" stroke="#000" stroke-width="2.6"/>
<path d="M72.50 731.2 V742" stroke="#000" stroke-width="2.4"/>
<text x="72.50" y="767" font-size="20.83" text-anchor="middle" font-family="Liberation Sans, sans-serif">0.6</text>
<path d="M207.70 731.2 V742" stroke="#000" stroke-width="2.4"/>
<text x="207.70" y="767" font-size="20.83" text-anchor="middle" font-family="Liberation Sans, sans-serif">0.8</text>
<path d="M342.90 731.2 V742" stroke="#000" stroke-width="2.4"/>
<text x="342.90" y="767" font-size="20.83" text-anchor="middle" font-family="Liberation Sans, sans-serif">1.0</text>
<path d="M478.10 731.2 V742" stroke="#000" stroke-width="2.4"/>
<text x="478.10" y="767" font-size="20.83" text-anchor="middle" font-family="Liberation Sans, sans-serif">1.2</text>
<path d="M613.30 731.2 V742" stroke="#000" stroke-width="2.4"/>
<text x="613.30" y="767" font-size="20.83" text-anchor="middle" font-family="Liberation Sans, sans-serif">1.4</text>
<text x="343.4" y="797.6" font-size="20.83" text-anchor="middle" font-family="Liberation Sans, sans-serif">Meijering intensity (arb. units)</text>
<text x="2.4" y="845.4" font-size="24.5" font-weight="bold" font-family="Liberation Sans, sans-serif">b.</text>
<text x="84.10" y="874.6" font-size="21.2" text-anchor="middle" font-family="Liberation Sans, sans-serif">Δ t = 0.4 ns</text>
<text x="256.00" y="874.6" font-size="21.2" text-anchor="middle" font-family="Liberation Sans, sans-serif">Δ t = 0.56 ns</text>
<text x="427.90" y="874.6" font-size="21.2" text-anchor="middle" font-family="Liberation Sans, sans-serif">Δ t = 0.72 ns</text>
<text x="599.80" y="874.6" font-size="21.2" text-anchor="middle" font-family="Liberation Sans, sans-serif">Δ t = 0.88 ns</text>
<g clip-path="url(#clb00)"><g filter="url(#fbb00)"><g filter="url(#pbb00)"><rect x="-17.85" y="876.9" width="122.75" height="204.5000000000001" fill="#000"/><g filter="url(#b2)" opacity="1"><ellipse cx="84.90" cy="985.40" rx="34.6" ry="36.4" fill="#3c3c3c"/></g><g filter="url(#b15)" opacity="1"><path d="M90.9 950.1 L89.0 949.8 L87.1 949.7 L85.1 949.6 L83.2 949.7 L81.3 949.9 L79.4 950.2 L77.5 950.6 L75.7 951.2 L73.9 951.8 L72.1 952.5 L70.4 953.4 L68.7 954.3 L67.1 955.3 L65.5 956.4 L64.0 957.6 L62.6 958.9 L61.2 960.3 L59.9 961.8 L58.7 963.3 L57.6 964.8 L56.6 966.5 L55.6 968.2 L54.8 969.9 L54.0 971.7 L53.4 973.5 L52.8 975.4 L52.3 977.3 L51.9 979.2 L51.7 981.1 L51.5 983.1 L51.4 985.0 L51.4 987.0 L51.6 988.9 L51.8 990.8 L52.2 992.7 L52.6 994.6 L53.1 996.5 L53.8 998.3 L54.5 1000.1 L56.0 999.4 L55.5 997.6 L55.0 995.8 L54.7 994.0 L54.6 992.2 L54.5 990.4 L54.5 988.6 L54.6 986.8 L54.7 985.0 L55.0 983.3 L55.3 981.6 L55.8 979.9 L56.3 978.3 L56.9 976.7 L57.6 975.1 L58.3 973.6 L59.0 972.1 L59.9 970.7 L60.8 969.3 L61.7 968.0 L62.8 966.7 L63.9 965.5 L65.0 964.4 L66.2 963.3 L67.5 962.3 L68.8 961.4 L70.2 960.5 L71.5 959.8 L72.9 959.1 L74.4 958.4 L75.9 957.8 L77.4 957.4 L78.9 957.0 L80.4 956.7 L82.0 956.4 L83.5 956.3 L85.1 956.3 L86.7 956.3 L88.2 956.5 L89.8 956.7 Z" fill="#666666"/></g><g filter="url(#b1)" opacity="1"><path d="M90.8 950.6 L89.5 950.4 L88.2 950.3 L86.9 950.2 L85.7 950.2 L84.4 950.2 L83.1 950.3 L81.8 950.4 L80.5 950.6 L79.3 950.9 L78.0 951.2 L76.8 951.5 L75.6 951.9 L74.4 952.3 L73.2 952.7 L72.0 953.2 L70.8 953.8 L69.7 954.4 L68.5 955.0 L67.4 955.7 L66.4 956.4 L65.3 957.1 L64.3 957.9 L63.3 958.8 L62.4 959.6 L61.4 960.5 L60.5 961.5 L59.7 962.5 L58.9 963.5 L58.1 964.5 L57.3 965.6 L56.6 966.7 L56.0 967.8 L55.3 969.0 L54.8 970.2 L54.2 971.4 L53.7 972.6 L53.3 973.8 L52.9 975.1 L52.5 976.4 L54.6 976.9 L55.0 975.8 L55.5 974.7 L56.1 973.6 L56.7 972.5 L57.3 971.5 L58.0 970.5 L58.7 969.5 L59.5 968.6 L60.3 967.7 L61.1 966.9 L61.9 966.0 L62.7 965.2 L63.5 964.4 L64.3 963.6 L65.1 962.8 L66.0 962.1 L66.9 961.4 L67.8 960.7 L68.7 960.1 L69.7 959.5 L70.7 958.9 L71.7 958.4 L72.7 958.0 L73.7 957.5 L74.7 957.1 L75.8 956.8 L76.8 956.4 L77.9 956.1 L79.0 955.9 L80.1 955.7 L81.1 955.5 L82.2 955.4 L83.3 955.3 L84.4 955.2 L85.5 955.2 L86.7 955.3 L87.8 955.4 L88.8 955.5 L89.9 955.7 Z" fill="#9e9e9e"/></g></g></g></g><g clip-path="url(#crb00)"><g filter="url(#frb00)"><g filter="url(#prb00)"><rect x="64.90" y="876.9" width="122.75" height="204.5000000000001" fill="#0a0a0a"/><g filter="url(#b12)"><ellipse cx="139.9" cy="921.2" rx="75" ry="55" fill="#1b1b1b"/></g><g filter="url(#b8)" opacity="1"><path d="M121.5 1016.8 L124.7 1015.5 L128.4 1014.2 L132.6 1012.8 L136.6 1011.0 L140.5 1008.7 L144.0 1005.9 L147.2 1002.7 L150.0 999.1 L152.4 995.3 L154.5 991.1 L156.2 986.8 L157.4 982.3 L158.2 977.6 L158.4 972.8 L158.4 968.0 L158.0 963.2 L157.3 958.3 L156.3 953.4 L154.8 948.7 L152.9 944.0 L150.7 939.4 L148.0 935.1 L145.1 930.9 L141.8 926.9 L138.3 923.1 L134.5 919.5 L130.5 916.2 L126.1 913.3 L121.6 910.7 L116.8 908.4 L111.9 906.6 L106.8 905.1 L101.7 903.8 L96.5 903.0 L91.3 902.4 L86.0 902.2 L80.8 902.3 L75.5 902.7 L70.3 903.4 L80.0 958.6 L81.8 958.3 L83.5 958.2 L85.3 958.2 L87.0 958.2 L88.8 958.4 L90.5 958.7 L92.2 959.1 L93.9 959.6 L95.5 960.2 L97.1 960.9 L98.7 961.7 L100.3 962.5 L101.9 963.3 L103.4 964.3 L104.9 965.3 L106.4 966.4 L107.8 967.7 L109.1 969.0 L110.3 970.4 L111.4 971.9 L112.5 973.5 L113.5 975.2 L114.3 976.9 L115.1 978.7 L115.7 980.6 L116.2 982.5 L116.7 984.4 L117.0 986.4 L117.2 988.5 L117.4 990.5 L117.4 992.6 L117.3 994.7 L117.0 996.9 L116.6 999.0 L116.1 1001.1 L115.4 1003.2 L114.6 1005.3 L113.5 1007.3 L112.3 1009.2 Z" fill="#262626"/></g><g filter="url(#b4)" opacity="1"><path d="M118.1 1014.0 L121.0 1012.7 L124.1 1011.4 L127.7 1010.1 L131.1 1008.3 L134.2 1006.1 L137.0 1003.5 L139.4 1000.6 L141.4 997.4 L143.1 994.0 L144.4 990.4 L145.5 986.7 L146.2 982.9 L146.6 978.9 L146.6 975.0 L146.4 971.0 L145.9 967.0 L145.1 963.0 L144.1 959.0 L142.7 955.2 L141.0 951.4 L139.0 947.7 L136.7 944.3 L134.1 940.9 L131.4 937.8 L128.4 934.8 L125.2 932.0 L121.9 929.4 L118.3 927.1 L114.6 925.0 L110.7 923.2 L106.7 921.7 L102.6 920.5 L98.5 919.5 L94.3 918.8 L90.1 918.3 L85.8 918.2 L81.6 918.2 L77.3 918.6 L73.1 919.2 L80.0 958.6 L81.8 958.3 L83.5 958.2 L85.3 958.2 L87.0 958.2 L88.8 958.4 L90.5 958.7 L92.2 959.1 L93.9 959.6 L95.5 960.2 L97.1 960.9 L98.7 961.7 L100.3 962.5 L101.9 963.3 L103.4 964.3 L104.9 965.3 L106.4 966.4 L107.8 967.7 L109.1 969.0 L110.3 970.4 L111.4 971.9 L112.5 973.5 L113.5 975.2 L114.3 976.9 L115.1 978.7 L115.7 980.6 L116.2 982.5 L116.7 984.4 L117.0 986.4 L117.2 988.5 L117.4 990.5 L117.4 992.6 L117.3 994.7 L117.0 996.9 L116.6 999.0 L116.1 1001.1 L115.4 1003.2 L114.6 1005.3 L113.5 1007.3 L112.3 1009.2 Z" fill="#3d3d3d"/></g><g filter="url(#b3)" opacity="1"><path d="M123.1 1008.2 L125.2 1006.4 L127.6 1004.6 L130.3 1002.7 L132.7 1000.4 L134.8 998.0 L136.7 995.3 L138.3 992.4 L139.6 989.3 L140.5 986.2 L141.1 982.9 L141.3 979.6 L141.3 976.2 L141.0 972.9 L140.5 969.5 L139.7 966.2 L138.8 962.9 L137.5 959.7 L136.1 956.6 L134.4 953.6 L132.6 950.6 L130.6 947.8 L128.4 945.1 L126.0 942.6 L123.5 940.2 L120.7 938.0 L117.9 936.0 L114.9 934.2 L111.8 932.5 L108.7 931.1 L105.4 929.8 L102.1 928.7 L98.7 927.8 L95.3 927.1 L91.9 926.6 L88.4 926.3 L84.9 926.2 L81.4 926.3 L77.9 926.6 L74.5 927.1 L79.7 956.6 L81.4 956.4 L83.2 956.2 L84.9 956.2 L86.6 956.2 L88.4 956.4 L90.1 956.6 L91.8 957.0 L93.5 957.4 L95.2 958.0 L96.8 958.6 L98.4 959.3 L99.9 960.2 L101.4 961.1 L102.8 962.1 L104.2 963.1 L105.6 964.3 L106.9 965.4 L108.2 966.6 L109.5 967.8 L110.7 969.2 L111.9 970.6 L113.0 972.0 L114.1 973.6 L115.0 975.2 L115.9 976.9 L116.7 978.6 L117.4 980.4 L118.0 982.3 L118.6 984.2 L119.1 986.2 L119.6 988.2 L120.0 990.3 L120.4 992.4 L120.6 994.6 L120.7 996.9 L120.6 999.1 L120.4 1001.5 L119.9 1003.7 L119.2 1006.0 Z" fill="#6b6b6b"/></g><g filter="url(#b2)" opacity="1"><path d="M122.8 1008.0 L124.7 1006.1 L126.6 1004.2 L128.8 1002.1 L130.7 999.9 L132.4 997.4 L133.9 994.8 L135.1 992.0 L136.0 989.1 L136.6 986.2 L137.0 983.1 L137.0 980.1 L136.8 977.0 L136.5 973.9 L135.9 970.9 L135.1 967.9 L134.1 964.9 L132.9 962.0 L131.6 959.2 L130.0 956.5 L128.3 953.8 L126.5 951.3 L124.4 948.9 L122.2 946.6 L119.8 944.6 L117.2 942.7 L114.6 941.0 L111.9 939.5 L109.0 938.1 L106.2 936.9 L103.2 935.8 L100.3 934.9 L97.2 934.1 L94.2 933.5 L91.1 933.0 L88.0 932.7 L84.9 932.7 L81.8 932.7 L78.7 933.0 L75.6 933.5 L79.7 956.6 L81.4 956.4 L83.2 956.2 L84.9 956.2 L86.6 956.2 L88.4 956.4 L90.1 956.6 L91.8 957.0 L93.5 957.4 L95.2 957.9 L96.8 958.5 L98.5 959.1 L100.1 959.8 L101.7 960.6 L103.2 961.6 L104.7 962.5 L106.2 963.6 L107.6 964.7 L109.0 966.0 L110.3 967.2 L111.6 968.6 L112.8 970.1 L113.9 971.6 L115.0 973.2 L116.0 974.8 L116.9 976.6 L117.8 978.3 L118.6 980.2 L119.3 982.1 L119.9 984.1 L120.4 986.2 L120.8 988.2 L121.0 990.4 L121.2 992.5 L121.3 994.8 L121.3 997.1 L121.4 999.4 L121.4 1001.9 L121.2 1004.4 L120.6 1006.8 Z" fill="#a8a8a8"/></g><g filter="url(#b15)" opacity="1"><path d="M130.5 983.8 L130.6 981.8 L130.6 979.8 L130.6 977.7 L130.4 975.7 L130.2 973.6 L129.9 971.6 L129.5 969.6 L128.9 967.6 L128.3 965.6 L127.5 963.6 L126.7 961.7 L125.7 959.8 L124.6 958.0 L123.4 956.3 L122.1 954.6 L120.7 953.0 L119.3 951.4 L117.8 949.9 L116.2 948.6 L114.5 947.3 L112.7 946.1 L110.9 945.0 L109.0 944.0 L107.1 943.1 L105.2 942.2 L103.3 941.5 L101.3 940.8 L99.3 940.2 L97.2 939.7 L95.2 939.2 L93.2 938.9 L91.1 938.6 L89.0 938.3 L86.9 938.2 L84.9 938.2 L82.8 938.2 L80.7 938.3 L78.6 938.6 L76.6 938.9 L79.5 955.6 L80.8 955.4 L82.2 955.3 L83.5 955.2 L84.9 955.2 L86.2 955.2 L87.6 955.3 L88.9 955.4 L90.2 955.6 L91.6 955.9 L92.9 956.1 L94.2 956.5 L95.5 956.8 L96.8 957.2 L98.1 957.7 L99.3 958.2 L100.6 958.7 L101.8 959.4 L103.0 960.0 L104.2 960.7 L105.4 961.5 L106.6 962.3 L107.7 963.1 L108.9 963.9 L110.0 964.8 L111.1 965.8 L112.2 966.8 L113.3 967.8 L114.4 968.9 L115.6 969.9 L116.7 971.0 L118.0 972.2 L119.2 973.4 L120.4 974.7 L121.6 976.0 L122.9 977.4 L124.1 978.9 L125.4 980.5 L126.5 982.2 L127.2 983.9 Z" fill="#d9d9d9"/></g><g filter="url(#b15)" opacity="1"><path d="M126.2 966.9 L125.6 965.5 L125.0 964.1 L124.4 962.6 L123.7 961.3 L123.0 959.9 L122.1 958.5 L121.3 957.2 L120.4 956.0 L119.4 954.8 L118.4 953.6 L117.3 952.4 L116.2 951.3 L115.0 950.3 L113.8 949.2 L112.6 948.3 L111.3 947.4 L109.9 946.6 L108.6 945.8 L107.1 945.1 L105.7 944.5 L104.3 943.9 L102.8 943.4 L101.3 942.9 L99.8 942.4 L98.3 942.0 L96.8 941.7 L95.3 941.3 L93.8 941.0 L92.3 940.7 L90.8 940.5 L89.2 940.4 L87.7 940.2 L86.1 940.2 L84.6 940.2 L83.0 940.2 L81.5 940.3 L80.0 940.4 L78.4 940.6 L76.9 940.8 L79.4 955.1 L80.5 955.0 L81.5 954.8 L82.6 954.7 L83.6 954.7 L84.7 954.7 L85.7 954.7 L86.8 954.7 L87.9 954.8 L88.9 954.9 L90.0 955.1 L91.0 955.2 L92.0 955.4 L93.1 955.7 L94.1 955.9 L95.1 956.2 L96.2 956.4 L97.2 956.7 L98.2 957.1 L99.2 957.5 L100.2 957.9 L101.2 958.3 L102.2 958.8 L103.2 959.2 L104.2 959.7 L105.2 960.2 L106.3 960.7 L107.3 961.2 L108.3 961.8 L109.3 962.4 L110.3 963.0 L111.3 963.7 L112.4 964.3 L113.6 964.9 L114.8 965.5 L116.1 966.1 L117.4 966.8 L118.6 967.6 L119.8 968.4 L120.8 969.4 Z" fill="#ffffff"/></g><g filter="url(#b2)" opacity="1"><ellipse cx="84.90" cy="988.15" rx="30.5" ry="33" fill="#000000"/></g></g></g></g><path d="M84.90 896.9 V1061.4" stroke="#000" stroke-width="1.45"/><rect x="0.80" y="895.55" width="168.2" height="167.2000000000001" fill="none" stroke="#000" stroke-width="2.7"/>
<g clip-path="url(#clb01)"><g filter="url(#fbb01)"><g filter="url(#pbb01)"><rect x="154.05" y="876.9" width="122.75" height="204.5000000000001" fill="#000"/><g filter="url(#b15)" opacity="1"><ellipse cx="256.80" cy="987.41" rx="29.5" ry="31" fill="#3c3c3c"/></g><g filter="url(#b15)" opacity="1"><path d="M262.4 955.9 L260.6 955.7 L258.8 955.5 L257.0 955.5 L255.2 955.6 L253.5 955.8 L251.7 956.1 L250.0 956.4 L248.3 956.9 L246.6 957.5 L244.9 958.1 L243.3 958.9 L241.8 959.7 L240.3 960.6 L238.8 961.6 L237.4 962.7 L236.1 963.9 L234.9 965.1 L233.7 966.4 L232.6 967.7 L231.6 969.1 L230.6 970.6 L229.8 972.1 L229.0 973.7 L228.3 975.3 L227.7 976.9 L227.2 978.6 L226.8 980.2 L226.5 981.9 L226.3 983.6 L226.2 985.3 L226.2 987.1 L226.3 988.8 L226.4 990.5 L226.7 992.2 L227.0 993.8 L227.4 995.5 L227.9 997.1 L228.5 998.7 L229.2 1000.3 L230.7 999.6 L230.2 998.0 L229.9 996.4 L229.8 994.8 L229.7 993.3 L229.7 991.7 L229.8 990.1 L230.0 988.6 L230.2 987.1 L230.4 985.6 L230.8 984.2 L231.2 982.8 L231.7 981.4 L232.3 980.1 L233.0 978.8 L233.6 977.5 L234.4 976.3 L235.1 975.2 L235.9 974.0 L236.8 972.9 L237.7 971.9 L238.7 970.9 L239.7 970.0 L240.8 969.1 L241.9 968.3 L243.0 967.6 L244.2 966.9 L245.3 966.3 L246.6 965.7 L247.8 965.2 L249.0 964.7 L250.3 964.3 L251.6 964.0 L253.0 963.7 L254.3 963.5 L255.6 963.4 L257.0 963.4 L258.3 963.5 L259.6 963.6 L261.0 963.8 Z" fill="#8c8c8c"/></g><g filter="url(#b1)" opacity="1"><path d="M262.3 956.4 L261.3 956.3 L260.3 956.2 L259.3 956.1 L258.3 956.1 L257.4 956.1 L256.4 956.1 L255.4 956.2 L254.4 956.3 L253.5 956.4 L252.5 956.6 L251.5 956.7 L250.6 957.0 L249.6 957.2 L248.7 957.5 L247.8 957.8 L246.9 958.1 L246.0 958.5 L245.1 958.9 L244.2 959.3 L243.4 959.7 L242.5 960.2 L241.7 960.7 L240.9 961.2 L240.1 961.7 L239.3 962.3 L238.5 962.9 L237.8 963.5 L237.1 964.1 L236.4 964.8 L235.7 965.5 L235.1 966.2 L234.5 966.9 L233.9 967.6 L233.3 968.4 L232.8 969.2 L232.2 970.0 L231.7 970.8 L231.3 971.6 L230.8 972.4 L233.1 973.7 L233.6 973.0 L234.2 972.4 L234.8 971.8 L235.5 971.2 L236.1 970.7 L236.8 970.2 L237.5 969.7 L238.2 969.2 L238.9 968.7 L239.6 968.3 L240.3 967.9 L241.0 967.5 L241.7 967.1 L242.3 966.7 L243.0 966.3 L243.7 965.9 L244.5 965.6 L245.2 965.3 L245.9 965.0 L246.6 964.7 L247.4 964.5 L248.1 964.3 L248.9 964.1 L249.6 963.9 L250.4 963.7 L251.1 963.5 L251.9 963.4 L252.7 963.3 L253.4 963.1 L254.2 963.0 L254.9 963.0 L255.7 962.9 L256.5 962.9 L257.2 962.9 L258.0 962.9 L258.8 963.0 L259.5 963.1 L260.3 963.2 L261.1 963.3 Z" fill="#c2c2c2"/></g></g></g></g><g clip-path="url(#crb01)"><g filter="url(#frb01)"><g filter="url(#prb01)"><rect x="236.80" y="876.9" width="122.75" height="204.5000000000001" fill="#0b0b0b"/><g filter="url(#b12)"><ellipse cx="311.8" cy="918.7" rx="75" ry="50" fill="#1a1a1a"/></g><g filter="url(#b8)" opacity="1"><path d="M284.9 1022.1 L288.2 1021.3 L292.0 1020.7 L296.2 1020.0 L300.5 1018.8 L304.7 1017.2 L308.6 1015.0 L312.3 1012.3 L315.5 1009.1 L318.4 1005.6 L320.9 1001.7 L323.1 997.6 L325.0 993.2 L326.5 988.7 L327.6 983.9 L328.2 979.0 L328.4 974.0 L328.2 969.0 L327.7 963.9 L326.9 958.8 L325.6 953.7 L323.8 948.7 L321.7 943.9 L319.2 939.1 L316.3 934.5 L313.1 930.1 L309.5 925.8 L305.6 921.9 L301.3 918.2 L296.7 915.0 L291.9 912.1 L286.8 909.7 L281.4 907.7 L276.0 906.0 L270.4 904.7 L264.8 903.8 L259.1 903.3 L253.4 903.1 L247.6 903.4 L241.9 904.1 L253.3 969.0 L254.7 968.8 L256.0 968.7 L257.3 968.7 L258.7 968.7 L260.0 968.9 L261.3 969.2 L262.6 969.5 L263.9 970.0 L265.1 970.5 L266.4 971.0 L267.6 971.5 L268.9 972.2 L270.1 972.8 L271.3 973.6 L272.5 974.4 L273.6 975.3 L274.7 976.3 L275.7 977.4 L276.6 978.6 L277.5 979.9 L278.3 981.2 L279.0 982.6 L279.6 984.0 L280.1 985.5 L280.5 987.1 L280.8 988.7 L281.1 990.3 L281.2 992.0 L281.2 993.6 L281.1 995.4 L280.9 997.1 L280.6 998.8 L280.1 1000.5 L279.5 1002.2 L278.8 1003.9 L278.0 1005.5 L277.1 1007.1 L275.9 1008.6 L274.7 1010.0 Z" fill="#242424"/></g><g filter="url(#b4)" opacity="1"><path d="M282.1 1018.8 L284.9 1017.9 L288.1 1017.1 L291.6 1016.3 L295.2 1015.1 L298.6 1013.6 L301.8 1011.5 L304.7 1009.1 L307.3 1006.3 L309.5 1003.2 L311.4 999.8 L313.1 996.3 L314.5 992.5 L315.5 988.7 L316.2 984.7 L316.5 980.6 L316.5 976.5 L316.2 972.3 L315.5 968.2 L314.6 964.0 L313.4 959.9 L311.8 955.9 L310.0 952.0 L307.8 948.2 L305.3 944.5 L302.6 941.0 L299.7 937.6 L296.4 934.4 L292.9 931.5 L289.2 928.9 L285.2 926.6 L281.1 924.6 L276.8 923.0 L272.4 921.6 L267.9 920.5 L263.3 919.7 L258.7 919.3 L254.0 919.1 L249.3 919.3 L244.7 919.8 L253.3 969.0 L254.7 968.8 L256.0 968.7 L257.3 968.7 L258.7 968.7 L260.0 968.9 L261.3 969.2 L262.6 969.5 L263.9 970.0 L265.1 970.5 L266.4 971.0 L267.6 971.5 L268.9 972.2 L270.1 972.8 L271.3 973.6 L272.5 974.4 L273.6 975.3 L274.7 976.3 L275.7 977.4 L276.6 978.6 L277.5 979.9 L278.3 981.2 L279.0 982.6 L279.6 984.0 L280.1 985.5 L280.5 987.1 L280.8 988.7 L281.1 990.3 L281.2 992.0 L281.2 993.6 L281.1 995.4 L280.9 997.1 L280.6 998.8 L280.1 1000.5 L279.5 1002.2 L278.8 1003.9 L278.0 1005.5 L277.1 1007.1 L275.9 1008.6 L274.7 1010.0 Z" fill="#3d3d3d"/></g><g filter="url(#b3)" opacity="1"><path d="M286.1 1011.6 L288.4 1010.4 L291.1 1009.2 L294.0 1007.9 L296.7 1006.3 L299.2 1004.4 L301.4 1002.1 L303.2 999.6 L304.7 996.8 L306.0 994.0 L307.0 991.0 L307.8 987.8 L308.3 984.6 L308.5 981.4 L308.5 978.1 L308.2 974.8 L307.8 971.5 L307.1 968.2 L306.3 964.9 L305.2 961.6 L303.9 958.3 L302.4 955.1 L300.7 952.0 L298.7 949.0 L296.5 946.2 L294.1 943.4 L291.5 940.9 L288.7 938.5 L285.8 936.2 L282.7 934.2 L279.4 932.4 L275.9 930.9 L272.3 929.7 L268.7 928.8 L265.0 928.2 L261.2 927.8 L257.5 927.7 L253.7 927.7 L249.9 928.0 L246.2 928.6 L253.3 969.0 L254.5 968.8 L255.8 968.7 L257.0 968.7 L258.2 968.7 L259.5 968.8 L260.7 969.0 L261.9 969.3 L263.1 969.6 L264.3 970.0 L265.5 970.4 L266.6 970.8 L267.8 971.4 L268.9 972.0 L270.0 972.6 L271.1 973.4 L272.1 974.2 L273.1 975.1 L274.0 976.0 L274.9 977.0 L275.7 978.1 L276.4 979.2 L277.2 980.4 L277.9 981.6 L278.5 982.8 L279.2 984.1 L279.8 985.4 L280.3 986.8 L280.8 988.3 L281.2 989.8 L281.6 991.3 L281.9 992.9 L282.1 994.6 L282.2 996.3 L282.2 998.1 L282.1 999.8 L281.9 1001.6 L281.5 1003.5 L281.0 1005.2 L280.2 1006.9 Z" fill="#808080"/></g><g filter="url(#b2)" opacity="1"><path d="M288.5 995.4 L289.2 993.9 L290.0 992.3 L290.8 990.7 L291.5 989.0 L292.0 987.2 L292.4 985.4 L292.7 983.6 L292.8 981.7 L292.8 979.8 L292.7 977.9 L292.6 975.9 L292.3 974.0 L291.9 972.0 L291.4 970.1 L290.9 968.1 L290.2 966.2 L289.4 964.3 L288.5 962.4 L287.4 960.5 L286.3 958.7 L285.1 956.9 L283.7 955.2 L282.3 953.5 L280.8 951.9 L279.1 950.3 L277.4 948.8 L275.5 947.5 L273.6 946.3 L271.5 945.2 L269.4 944.3 L267.2 943.6 L264.9 943.0 L262.6 942.6 L260.3 942.3 L258.0 942.1 L255.7 942.0 L253.3 942.0 L251.0 942.1 L248.6 942.4 L253.3 969.0 L254.3 968.8 L255.3 968.7 L256.3 968.7 L257.3 968.7 L258.3 968.7 L259.3 968.8 L260.3 969.0 L261.3 969.2 L262.3 969.4 L263.2 969.7 L264.2 970.0 L265.1 970.4 L266.1 970.8 L267.0 971.2 L267.9 971.7 L268.7 972.2 L269.6 972.8 L270.4 973.4 L271.2 974.0 L272.0 974.7 L272.8 975.4 L273.6 976.1 L274.4 976.8 L275.1 977.6 L275.8 978.5 L276.4 979.4 L277.0 980.3 L277.6 981.3 L278.1 982.3 L278.6 983.3 L279.1 984.3 L279.5 985.4 L279.8 986.6 L280.2 987.7 L280.6 988.9 L281.0 990.1 L281.5 991.4 L281.8 992.7 L281.9 994.0 Z" fill="#b2b2b2"/></g><g filter="url(#b15)" opacity="1"><path d="M286.9 991.3 L287.1 989.9 L287.4 988.5 L287.7 987.0 L287.9 985.5 L288.0 984.0 L288.0 982.5 L287.9 981.0 L287.7 979.5 L287.5 978.0 L287.2 976.4 L286.8 974.9 L286.3 973.4 L285.8 971.9 L285.2 970.4 L284.6 969.0 L283.8 967.5 L283.0 966.1 L282.1 964.7 L281.1 963.3 L280.1 962.0 L279.0 960.7 L277.8 959.4 L276.6 958.2 L275.3 957.0 L274.0 955.9 L272.6 954.9 L271.1 953.9 L269.5 952.9 L267.9 952.1 L266.2 951.5 L264.5 950.9 L262.7 950.5 L260.9 950.2 L259.1 950.0 L257.3 949.9 L255.5 949.8 L253.7 949.9 L251.8 950.0 L250.0 950.3 L253.2 968.0 L254.1 967.8 L255.1 967.7 L256.1 967.7 L257.1 967.7 L258.1 967.7 L259.1 967.8 L260.0 967.9 L261.0 968.1 L262.0 968.3 L262.9 968.6 L263.8 968.9 L264.8 969.2 L265.7 969.6 L266.6 970.1 L267.4 970.5 L268.3 971.1 L269.1 971.6 L269.9 972.2 L270.7 972.8 L271.5 973.4 L272.2 974.0 L273.0 974.7 L273.7 975.4 L274.4 976.2 L275.1 976.9 L275.7 977.8 L276.3 978.6 L276.9 979.4 L277.6 980.3 L278.2 981.2 L278.8 982.1 L279.4 983.1 L280.1 984.1 L280.8 985.1 L281.5 986.2 L282.3 987.3 L283.1 988.5 L283.8 989.7 L284.2 991.1 Z" fill="#d6d6d6"/></g><g filter="url(#b15)" opacity="1"><path d="M282.3 970.8 L281.8 970.0 L281.4 969.2 L280.9 968.4 L280.5 967.6 L280.0 966.8 L279.5 966.0 L278.9 965.2 L278.4 964.4 L277.8 963.6 L277.2 962.9 L276.6 962.1 L275.9 961.4 L275.2 960.6 L274.5 959.9 L273.8 959.2 L273.0 958.6 L272.2 957.9 L271.4 957.3 L270.6 956.8 L269.7 956.2 L268.8 955.7 L267.9 955.2 L267.0 954.7 L266.0 954.2 L265.1 953.8 L264.1 953.5 L263.1 953.2 L262.0 953.0 L261.0 952.8 L260.0 952.6 L258.9 952.5 L257.9 952.4 L256.8 952.4 L255.7 952.4 L254.7 952.4 L253.6 952.4 L252.6 952.5 L251.5 952.6 L250.5 952.7 L253.1 967.5 L253.7 967.4 L254.3 967.3 L254.9 967.2 L255.5 967.2 L256.2 967.2 L256.8 967.2 L257.4 967.2 L258.1 967.2 L258.7 967.2 L259.3 967.3 L259.9 967.4 L260.5 967.5 L261.2 967.6 L261.8 967.7 L262.4 967.8 L263.0 967.9 L263.6 968.1 L264.2 968.2 L264.8 968.4 L265.4 968.6 L266.0 968.8 L266.6 969.1 L267.2 969.3 L267.9 969.5 L268.5 969.7 L269.1 969.9 L269.8 970.1 L270.5 970.3 L271.1 970.5 L271.8 970.8 L272.5 971.1 L273.2 971.3 L273.9 971.6 L274.7 971.8 L275.5 972.0 L276.3 972.3 L277.2 972.5 L278.0 972.9 L278.7 973.3 Z" fill="#ffffff"/></g><g filter="url(#b2)" opacity="1"><ellipse cx="256.80" cy="992.93" rx="21.5" ry="25" fill="#000000"/></g></g></g></g><path d="M256.80 896.9 V1061.4" stroke="#000" stroke-width="1.45"/><rect x="172.70" y="895.55" width="168.2" height="167.2000000000001" fill="none" stroke="#000" stroke-width="2.7"/>
<g clip-path="url(#clb02)"><g filter="url(#fbb02)"><g filter="url(#pbb02)"><rect x="325.95" y="876.9" width="122.75" height="204.5000000000001" fill="#000"/><g filter="url(#b15)" opacity="1"><ellipse cx="428.70" cy="995.93" rx="22" ry="22" fill="#3c3c3c"/></g><g filter="url(#b4)" opacity="1"><path d="M436.5 961.1 L434.7 960.7 L432.8 960.4 L430.9 960.3 L429.0 960.3 L427.2 960.5 L425.3 960.8 L423.5 961.1 L421.7 961.7 L419.9 962.4 L418.2 963.2 L416.6 964.1 L415.1 965.2 L413.7 966.4 L412.3 967.7 L411.0 969.1 L409.9 970.6 L408.8 972.1 L407.8 973.6 L407.0 975.3 L406.2 976.9 L405.4 978.6 L404.8 980.2 L404.2 981.9 L403.7 983.7 L403.3 985.4 L403.0 987.2 L402.8 988.9 L402.7 990.7 L402.7 992.5 L402.8 994.3 L403.0 996.0 L403.4 997.7 L403.9 999.4 L404.6 1001.0 L405.3 1002.5 L406.2 1004.0 L407.1 1005.3 L408.0 1006.7 L409.0 1007.9 L414.6 1003.6 L414.3 1002.5 L414.2 1001.3 L414.2 1000.0 L414.3 998.8 L414.5 997.7 L414.7 996.6 L414.9 995.5 L415.1 994.6 L415.3 993.6 L415.4 992.7 L415.6 991.8 L415.9 990.9 L416.2 990.1 L416.5 989.3 L416.9 988.5 L417.3 987.8 L417.8 987.1 L418.2 986.5 L418.7 985.8 L419.2 985.2 L419.8 984.7 L420.3 984.1 L420.9 983.7 L421.5 983.2 L422.1 982.8 L422.8 982.5 L423.4 982.2 L424.1 981.9 L424.7 981.7 L425.4 981.4 L426.1 981.3 L426.8 981.1 L427.4 981.0 L428.1 980.9 L428.8 980.9 L429.5 981.0 L430.2 981.0 L430.9 981.2 L431.6 981.3 Z" fill="#242424"/></g><g filter="url(#b15)" opacity="1"><path d="M435.5 965.4 L433.8 965.0 L432.2 964.8 L430.5 964.7 L428.9 964.6 L427.2 964.7 L425.5 965.0 L423.9 965.3 L422.3 965.7 L420.7 966.3 L419.2 966.9 L417.7 967.7 L416.3 968.6 L414.9 969.5 L413.6 970.6 L412.3 971.7 L411.1 972.9 L410.0 974.2 L409.0 975.6 L408.1 977.0 L407.2 978.5 L406.4 980.1 L405.8 981.7 L405.2 983.3 L404.7 985.0 L404.4 986.7 L404.1 988.4 L403.9 990.1 L403.9 991.8 L403.9 993.6 L404.1 995.3 L404.3 997.0 L404.7 998.6 L405.2 1000.3 L405.7 1001.8 L406.4 1003.4 L407.1 1004.9 L408.0 1006.3 L408.9 1007.7 L409.8 1009.0 L412.3 1006.9 L411.8 1005.5 L411.5 1004.0 L411.3 1002.5 L411.3 1001.1 L411.3 999.7 L411.3 998.3 L411.4 997.0 L411.5 995.8 L411.7 994.5 L412.0 993.4 L412.2 992.2 L412.5 991.1 L412.9 990.0 L413.3 989.0 L413.7 988.0 L414.2 987.0 L414.8 986.1 L415.4 985.2 L416.0 984.4 L416.7 983.7 L417.4 983.0 L418.1 982.3 L418.8 981.7 L419.6 981.2 L420.4 980.7 L421.2 980.3 L422.1 979.9 L422.9 979.6 L423.7 979.3 L424.6 979.1 L425.4 978.9 L426.3 978.8 L427.1 978.7 L427.9 978.7 L428.8 978.7 L429.6 978.8 L430.4 979.0 L431.2 979.1 L432.0 979.4 Z" fill="#949494"/></g><g filter="url(#b15)" opacity="1"><path d="M435.5 965.4 L434.4 965.2 L433.4 965.0 L432.4 964.8 L431.3 964.8 L430.3 964.7 L429.2 964.7 L428.2 964.8 L427.1 964.8 L426.1 965.0 L425.1 965.2 L424.1 965.4 L423.1 965.7 L422.1 966.0 L421.1 966.3 L420.1 966.7 L419.2 967.2 L418.2 967.7 L417.3 968.2 L416.4 968.7 L415.6 969.3 L414.7 970.0 L413.9 970.6 L413.1 971.3 L412.4 972.1 L411.6 972.8 L410.9 973.6 L410.3 974.4 L409.6 975.3 L409.0 976.2 L408.5 977.1 L407.9 978.0 L407.4 979.0 L407.0 979.9 L406.6 980.9 L406.2 981.9 L405.9 982.9 L405.6 984.0 L405.3 985.0 L405.1 986.1 L409.4 987.3 L409.9 986.5 L410.4 985.9 L411.1 985.2 L411.8 984.7 L412.5 984.1 L413.1 983.6 L413.8 983.1 L414.4 982.7 L415.0 982.2 L415.6 981.8 L416.3 981.4 L416.9 981.1 L417.5 980.8 L418.1 980.5 L418.8 980.2 L419.4 980.0 L420.0 979.8 L420.6 979.6 L421.2 979.4 L421.8 979.2 L422.3 979.1 L422.9 978.9 L423.5 978.8 L424.0 978.7 L424.6 978.7 L425.2 978.6 L425.7 978.6 L426.3 978.6 L426.8 978.6 L427.4 978.6 L427.9 978.6 L428.4 978.6 L429.0 978.7 L429.5 978.7 L430.0 978.8 L430.5 978.9 L431.0 979.1 L431.5 979.2 L432.0 979.4 Z" fill="#cccccc"/></g><g filter="url(#b1)" opacity="1"><path d="M435.4 965.9 L434.8 965.7 L434.1 965.6 L433.5 965.4 L432.9 965.3 L432.3 965.2 L431.6 965.1 L431.0 965.0 L430.4 965.0 L429.7 965.0 L429.1 964.9 L428.5 964.9 L427.8 964.9 L427.2 965.0 L426.6 965.0 L425.9 965.1 L425.3 965.2 L424.7 965.4 L424.1 965.5 L423.5 965.7 L422.9 965.9 L422.3 966.1 L421.7 966.3 L421.1 966.5 L420.5 966.8 L419.9 967.0 L419.3 967.3 L418.8 967.6 L418.2 967.9 L417.7 968.2 L417.1 968.6 L416.6 968.9 L416.1 969.3 L415.6 969.7 L415.1 970.1 L414.6 970.5 L414.1 970.9 L413.6 971.3 L413.2 971.8 L412.7 972.2 L416.4 977.0 L416.9 976.9 L417.4 976.8 L418.0 976.8 L418.6 976.8 L419.1 976.9 L419.7 977.0 L420.2 977.0 L420.7 977.2 L421.3 977.3 L421.7 977.3 L422.2 977.4 L422.6 977.4 L423.0 977.4 L423.4 977.4 L423.8 977.4 L424.2 977.4 L424.6 977.5 L425.0 977.5 L425.4 977.5 L425.8 977.6 L426.1 977.6 L426.5 977.7 L426.9 977.8 L427.2 977.9 L427.6 977.9 L427.9 978.0 L428.2 978.0 L428.6 978.0 L428.9 978.1 L429.2 978.1 L429.6 978.2 L429.9 978.2 L430.2 978.3 L430.6 978.4 L430.9 978.5 L431.2 978.6 L431.5 978.7 L431.8 978.8 L432.2 978.9 Z" fill="#ffffff"/></g></g></g></g><g clip-path="url(#crb02)"><g filter="url(#frb02)"><g filter="url(#prb02)"><rect x="408.70" y="876.9" width="122.75" height="204.5000000000001" fill="#090909"/><g filter="url(#b12)"><ellipse cx="458.7" cy="964.9" rx="44" ry="52" fill="#242424"/></g><g filter="url(#b6)" opacity="1"><path d="M446.2 1013.8 L448.4 1013.4 L450.9 1013.1 L453.8 1012.8 L456.7 1012.2 L459.6 1011.3 L462.3 1010.0 L464.9 1008.3 L467.2 1006.4 L469.3 1004.1 L471.1 1001.6 L472.8 998.9 L474.3 996.0 L475.5 992.9 L476.4 989.7 L477.1 986.4 L477.4 983.0 L477.5 979.5 L477.3 976.0 L476.9 972.4 L476.2 968.8 L475.3 965.2 L474.2 961.5 L472.8 957.9 L471.1 954.4 L469.1 950.9 L466.8 947.5 L464.3 944.2 L461.4 941.2 L458.3 938.4 L454.8 935.9 L451.2 933.7 L447.3 931.7 L443.3 930.1 L439.1 928.7 L434.9 927.5 L430.5 926.7 L426.0 926.1 L421.5 926.0 L417.0 926.3 L426.6 981.1 L427.4 981.0 L428.2 980.9 L429.0 980.9 L429.8 981.0 L430.6 981.1 L431.4 981.2 L432.2 981.4 L433.0 981.7 L433.7 982.0 L434.5 982.3 L435.2 982.6 L436.0 982.9 L436.8 983.2 L437.7 983.6 L438.4 984.1 L439.2 984.6 L440.0 985.2 L440.7 985.8 L441.4 986.5 L442.0 987.3 L442.6 988.1 L443.1 989.0 L443.6 989.9 L444.0 990.9 L444.4 991.9 L444.7 992.9 L445.0 994.0 L445.2 995.2 L445.3 996.3 L445.3 997.5 L445.3 998.7 L445.1 999.9 L444.9 1001.1 L444.6 1002.4 L444.1 1003.6 L443.6 1004.8 L443.0 1006.0 L442.3 1007.1 L441.4 1008.1 Z" fill="#3b3b3b"/></g><g filter="url(#b3)" opacity="1"><path d="M455.4 1002.7 L456.4 1001.3 L457.4 1000.0 L458.5 998.6 L459.5 997.1 L460.4 995.5 L461.2 993.8 L461.9 992.0 L462.5 990.2 L462.9 988.3 L463.2 986.4 L463.4 984.4 L463.5 982.3 L463.5 980.2 L463.4 978.1 L463.2 976.0 L462.9 973.8 L462.5 971.6 L461.9 969.4 L461.1 967.2 L460.3 965.0 L459.2 962.8 L458.1 960.7 L456.8 958.5 L455.3 956.5 L453.7 954.5 L452.0 952.6 L450.1 950.7 L448.1 949.0 L445.9 947.5 L443.6 946.1 L441.2 945.0 L438.7 944.1 L436.1 943.3 L433.4 942.7 L430.7 942.2 L428.0 941.9 L425.3 941.7 L422.5 941.7 L419.7 941.9 L426.6 981.1 L427.3 981.0 L427.9 981.0 L428.5 980.9 L429.2 980.9 L429.8 981.0 L430.5 981.1 L431.1 981.2 L431.7 981.3 L432.4 981.5 L433.0 981.6 L433.6 981.8 L434.3 982.0 L434.9 982.2 L435.5 982.4 L436.2 982.7 L436.8 983.0 L437.4 983.4 L438.0 983.7 L438.7 984.1 L439.3 984.5 L439.9 985.0 L440.5 985.4 L441.1 986.0 L441.7 986.5 L442.3 987.1 L442.8 987.8 L443.4 988.5 L443.9 989.2 L444.3 990.0 L444.8 990.8 L445.2 991.6 L445.5 992.5 L445.8 993.4 L446.1 994.3 L446.3 995.3 L446.5 996.3 L446.6 997.3 L446.5 998.4 L446.4 999.4 Z" fill="#5c5c5c"/></g><g filter="url(#b15)" opacity="1"><path d="M452.5 998.3 L452.9 997.0 L453.2 995.8 L453.5 994.5 L453.8 993.2 L453.9 991.8 L454.0 990.5 L454.0 989.1 L453.9 987.8 L453.8 986.4 L453.6 985.1 L453.3 983.7 L452.9 982.4 L452.5 981.1 L452.0 979.8 L451.4 978.5 L450.8 977.3 L450.1 976.0 L449.4 974.9 L448.6 973.7 L447.7 972.6 L446.8 971.5 L445.8 970.5 L444.8 969.6 L443.7 968.6 L442.6 967.8 L441.4 967.0 L440.2 966.2 L439.0 965.6 L437.7 965.0 L436.4 964.5 L435.0 964.1 L433.6 963.7 L432.3 963.5 L430.8 963.3 L429.4 963.1 L428.0 963.1 L426.6 963.1 L425.2 963.2 L423.8 963.4 L426.2 978.2 L426.9 978.0 L427.6 978.0 L428.4 977.9 L429.1 977.9 L429.8 978.0 L430.5 978.0 L431.2 978.2 L431.9 978.3 L432.6 978.5 L433.3 978.7 L434.0 978.9 L434.7 979.1 L435.4 979.3 L436.1 979.6 L436.7 979.9 L437.4 980.3 L438.1 980.7 L438.7 981.1 L439.4 981.5 L440.1 982.0 L440.7 982.4 L441.4 982.9 L442.0 983.5 L442.6 984.1 L443.2 984.7 L443.8 985.4 L444.3 986.1 L444.9 986.9 L445.4 987.7 L445.9 988.5 L446.3 989.3 L446.7 990.2 L447.1 991.2 L447.5 992.1 L447.9 993.1 L448.2 994.1 L448.6 995.2 L448.8 996.3 L448.9 997.4 Z" fill="#a8a8a8"/></g><g filter="url(#b15)" opacity="1"><path d="M446.5 974.1 L446.1 973.6 L445.7 973.1 L445.3 972.6 L444.9 972.1 L444.5 971.6 L444.1 971.1 L443.6 970.6 L443.1 970.2 L442.6 969.7 L442.1 969.3 L441.6 968.9 L441.1 968.5 L440.6 968.1 L440.0 967.7 L439.4 967.3 L438.9 967.0 L438.3 966.7 L437.7 966.3 L437.1 966.0 L436.5 965.8 L435.9 965.5 L435.2 965.3 L434.6 965.1 L434.0 964.9 L433.3 964.7 L432.6 964.6 L432.0 964.5 L431.3 964.4 L430.7 964.3 L430.0 964.2 L429.3 964.2 L428.6 964.1 L428.0 964.1 L427.3 964.1 L426.6 964.1 L425.9 964.2 L425.3 964.2 L424.6 964.3 L423.9 964.4 L426.1 977.7 L426.5 977.6 L426.9 977.6 L427.2 977.5 L427.6 977.5 L427.9 977.4 L428.3 977.4 L428.7 977.4 L429.0 977.4 L429.4 977.4 L429.8 977.5 L430.1 977.5 L430.5 977.5 L430.8 977.6 L431.2 977.7 L431.5 977.7 L431.9 977.8 L432.3 977.9 L432.6 977.9 L433.0 978.0 L433.4 978.0 L433.7 978.1 L434.1 978.1 L434.5 978.2 L434.9 978.3 L435.2 978.4 L435.6 978.5 L436.0 978.6 L436.4 978.7 L436.8 978.7 L437.2 978.7 L437.7 978.7 L438.3 978.5 L438.9 978.4 L439.5 978.3 L440.2 978.2 L440.8 978.1 L441.5 978.1 L442.1 978.1 L442.6 978.3 Z" fill="#ffffff"/></g><g filter="url(#b2)" opacity="1"><ellipse cx="428.70" cy="997.95" rx="13.5" ry="19" fill="#000000"/></g></g></g></g><path d="M428.70 896.9 V1061.4" stroke="#000" stroke-width="1.45"/><rect x="344.60" y="895.55" width="168.2" height="167.2000000000001" fill="none" stroke="#000" stroke-width="2.7"/>
<g clip-path="url(#clb03)"><g filter="url(#fbb03)"><g filter="url(#pbb03)"><rect x="497.85" y="876.9" width="122.75" height="204.5000000000001" fill="#000"/><g filter="url(#b6)"><ellipse cx="594.6" cy="991.7" rx="16" ry="24" fill="#2b2b2b"/></g><g filter="url(#b2)"><path d="M601.6 974.6608084358523 L593.6 975.6608084358523 L589.6 988.6608084358523 L584.6 1003.6608084358523 L589.6 1008.6608084358523 L594.6 998.6608084358523 L601.6 997.6608084358523 Z" fill="#8c8c8c"/></g><g filter="url(#b15)"><path d="M601.6 978.1608084358523 L593.6 978.6608084358523 L590.6 990.6608084358523 L593.1 996.1608084358523 L601.6 997.1608084358523 Z" fill="#ffffff"/></g></g></g></g><g clip-path="url(#crb03)"><g filter="url(#frb03)"><g filter="url(#prb03)"><rect x="580.60" y="876.9" width="122.75" height="204.5000000000001" fill="#060606"/><g filter="url(#b8)"><ellipse cx="608.6" cy="990.7" rx="20" ry="30" fill="#1a1a1a"/></g><g filter="url(#b3)"><path d="M599.6 966.6608084358523 L608.6 968.6608084358523 L614.6 982.6608084358523 L618.6 1004.6608084358523 L612.6 1009.6608084358523 L608.6 1000.6608084358523 L599.6 1000.6608084358523 Z" fill="#5c5c5c"/></g><g filter="url(#b2)"><path d="M599.6 974.6608084358523 L608.6 975.6608084358523 L612.6 988.6608084358523 L616.6 1003.6608084358523 L612.6 1005.6608084358523 L608.6 997.6608084358523 L599.6 997.6608084358523 Z" fill="#999999"/></g><g filter="url(#b15)"><path d="M599.6 978.6608084358523 L608.1 979.1608084358523 L609.1 991.6608084358523 L606.6 995.6608084358523 L599.6 995.6608084358523 Z" fill="#ffffff"/></g></g></g></g><path d="M600.60 896.9 V1061.4" stroke="#000" stroke-width="1.45"/><rect x="516.50" y="895.55" width="168.2" height="167.2000000000001" fill="none" stroke="#000" stroke-width="2.7"/>
<g clip-path="url(#clb10)"><g filter="url(#fbb10)"><g filter="url(#pbb10)"><rect x="-17.85" y="1073.1" width="122.75" height="204.10000000000014" fill="#000"/><g filter="url(#b2)" opacity="1"><ellipse cx="84.90" cy="1178.89" rx="39" ry="39" fill="#333333"/></g><g filter="url(#b15)" opacity="1"><path d="M91.7 1140.5 L90.6 1140.3 L89.6 1140.2 L88.6 1140.1 L87.5 1140.1 L86.5 1140.0 L85.4 1140.0 L84.4 1140.1 L83.3 1140.1 L82.3 1140.2 L81.3 1140.3 L80.2 1140.5 L79.2 1140.6 L78.2 1140.8 L77.2 1141.0 L76.2 1141.3 L75.2 1141.5 L74.2 1141.8 L73.2 1142.2 L72.2 1142.5 L71.3 1142.9 L70.3 1143.3 L69.4 1143.7 L68.4 1144.2 L67.5 1144.7 L66.6 1145.2 L65.7 1145.7 L64.9 1146.2 L64.0 1146.8 L63.2 1147.4 L62.3 1148.0 L61.5 1148.7 L60.8 1149.3 L60.0 1150.0 L59.2 1150.7 L58.5 1151.4 L57.8 1152.1 L57.1 1152.9 L56.4 1153.7 L55.8 1154.5 L57.7 1156.1 L58.4 1155.4 L59.0 1154.7 L59.7 1154.1 L60.5 1153.4 L61.2 1152.8 L61.9 1152.2 L62.7 1151.7 L63.4 1151.1 L64.2 1150.6 L65.0 1150.1 L65.8 1149.6 L66.7 1149.2 L67.5 1148.7 L68.3 1148.3 L69.2 1147.9 L70.0 1147.6 L70.9 1147.2 L71.8 1146.9 L72.7 1146.6 L73.5 1146.3 L74.4 1146.1 L75.3 1145.8 L76.2 1145.6 L77.1 1145.4 L78.0 1145.2 L78.9 1145.1 L79.9 1145.0 L80.8 1144.9 L81.7 1144.8 L82.6 1144.7 L83.5 1144.7 L84.4 1144.7 L85.4 1144.7 L86.3 1144.8 L87.2 1144.9 L88.1 1145.0 L89.0 1145.1 L89.9 1145.2 L90.8 1145.4 Z" fill="#4c4c4c"/></g></g></g></g><g clip-path="url(#crb10)"><g filter="url(#frb10)"><g filter="url(#prb10)"><rect x="64.90" y="1073.1" width="122.75" height="204.10000000000014" fill="#505050"/><g filter="url(#b6)" opacity="1"><path d="M148.4 1190.1 L149.3 1187.0 L150.2 1183.9 L151.1 1180.7 L151.8 1177.4 L152.3 1174.1 L152.5 1170.7 L152.5 1167.3 L152.3 1163.9 L151.8 1160.5 L151.1 1157.1 L150.3 1153.8 L149.2 1150.5 L147.9 1147.2 L146.5 1144.1 L144.9 1140.9 L143.1 1137.9 L141.2 1135.0 L139.2 1132.1 L136.9 1129.4 L134.5 1126.8 L131.9 1124.4 L129.2 1122.1 L126.3 1120.0 L123.4 1118.0 L120.3 1116.2 L117.2 1114.5 L114.0 1113.0 L110.7 1111.7 L107.4 1110.5 L104.0 1109.5 L100.6 1108.6 L97.1 1107.9 L93.6 1107.4 L90.1 1107.1 L86.5 1106.9 L83.0 1106.9 L79.4 1107.1 L75.9 1107.5 L72.4 1108.0 L78.6 1143.4 L80.4 1143.2 L82.2 1143.0 L83.9 1142.9 L85.7 1142.9 L87.5 1143.0 L89.2 1143.1 L91.0 1143.4 L92.7 1143.7 L94.5 1144.2 L96.2 1144.6 L97.9 1145.1 L99.6 1145.7 L101.3 1146.2 L103.0 1146.9 L104.7 1147.6 L106.3 1148.5 L107.9 1149.4 L109.5 1150.3 L111.1 1151.4 L112.7 1152.5 L114.2 1153.6 L115.8 1154.8 L117.3 1156.1 L118.7 1157.5 L120.1 1159.0 L121.5 1160.5 L122.8 1162.1 L124.1 1163.8 L125.4 1165.6 L126.6 1167.4 L127.8 1169.3 L129.0 1171.3 L130.1 1173.4 L131.0 1175.6 L131.9 1177.8 L132.6 1180.2 L133.3 1182.6 L133.6 1185.0 L133.7 1187.5 Z" fill="#696969"/></g><g filter="url(#b6)"><path d="M117.8 1167.9 L145.8 1171.9 L181.0 1206.1 L171.0 1241.1 Z" fill="#6e6e6e"/></g><g filter="url(#b3)" opacity="1"><path d="M141.6 1186.9 L142.2 1184.1 L142.7 1181.4 L143.2 1178.6 L143.4 1175.7 L143.5 1172.9 L143.4 1170.0 L143.2 1167.2 L142.7 1164.3 L142.1 1161.5 L141.2 1158.7 L140.2 1156.0 L139.0 1153.4 L137.6 1150.9 L136.1 1148.4 L134.5 1146.0 L132.7 1143.7 L130.9 1141.5 L129.0 1139.4 L127.0 1137.4 L124.9 1135.4 L122.7 1133.6 L120.5 1131.8 L118.2 1130.2 L115.8 1128.6 L113.3 1127.2 L110.8 1125.9 L108.2 1124.7 L105.5 1123.6 L102.9 1122.6 L100.1 1121.7 L97.4 1121.0 L94.6 1120.3 L91.7 1119.8 L88.9 1119.5 L86.0 1119.3 L83.1 1119.2 L80.2 1119.3 L77.4 1119.5 L74.5 1119.9 L78.6 1143.4 L80.4 1143.2 L82.1 1143.0 L83.8 1142.9 L85.6 1142.9 L87.3 1143.0 L89.0 1143.1 L90.8 1143.4 L92.5 1143.7 L94.2 1144.1 L95.9 1144.5 L97.5 1145.0 L99.2 1145.5 L100.9 1146.1 L102.6 1146.7 L104.2 1147.4 L105.8 1148.2 L107.4 1149.1 L109.0 1150.0 L110.5 1151.0 L112.1 1152.1 L113.6 1153.2 L115.1 1154.3 L116.6 1155.6 L118.1 1156.9 L119.5 1158.3 L120.9 1159.8 L122.1 1161.3 L123.4 1163.0 L124.7 1164.7 L125.9 1166.4 L127.1 1168.2 L128.3 1170.1 L129.4 1172.1 L130.5 1174.2 L131.5 1176.4 L132.4 1178.6 L133.2 1181.0 L133.7 1183.4 L133.9 1185.8 Z" fill="#808080"/></g><g filter="url(#b2)" opacity="1"><path d="M139.1 1178.9 L139.2 1176.5 L139.2 1174.0 L139.1 1171.6 L138.9 1169.1 L138.5 1166.7 L137.9 1164.3 L137.2 1161.9 L136.4 1159.6 L135.4 1157.4 L134.4 1155.1 L133.1 1153.0 L131.8 1151.0 L130.3 1149.0 L128.8 1147.1 L127.2 1145.3 L125.5 1143.6 L123.7 1141.9 L121.9 1140.3 L120.1 1138.8 L118.1 1137.4 L116.1 1136.1 L114.1 1134.9 L112.0 1133.8 L109.9 1132.7 L107.8 1131.8 L105.6 1130.9 L103.4 1130.1 L101.2 1129.4 L99.0 1128.7 L96.7 1128.0 L94.4 1127.4 L92.1 1127.0 L89.8 1126.6 L87.5 1126.4 L85.1 1126.2 L82.8 1126.2 L80.4 1126.2 L78.1 1126.4 L75.7 1126.7 L78.6 1143.4 L80.2 1143.2 L81.8 1143.0 L83.5 1142.9 L85.1 1142.9 L86.7 1142.9 L88.3 1143.0 L89.9 1143.2 L91.5 1143.5 L93.0 1143.8 L94.6 1144.2 L96.2 1144.6 L97.7 1145.1 L99.3 1145.6 L100.8 1146.1 L102.4 1146.6 L103.9 1147.3 L105.4 1148.0 L106.9 1148.8 L108.4 1149.6 L109.8 1150.5 L111.2 1151.5 L112.7 1152.4 L114.2 1153.4 L115.7 1154.4 L117.2 1155.5 L118.6 1156.7 L120.0 1158.0 L121.4 1159.3 L122.7 1160.7 L124.1 1162.2 L125.4 1163.7 L126.6 1165.4 L127.9 1167.1 L129.1 1168.8 L130.3 1170.7 L131.5 1172.6 L132.7 1174.6 L133.6 1176.7 L134.3 1178.9 Z" fill="#9e9e9e"/></g><g filter="url(#b15)" opacity="1"><path d="M136.8 1174.3 L136.8 1172.1 L136.6 1169.9 L136.3 1167.7 L135.9 1165.5 L135.3 1163.3 L134.5 1161.2 L133.6 1159.2 L132.6 1157.2 L131.4 1155.3 L130.2 1153.4 L128.9 1151.6 L127.5 1149.9 L126.1 1148.2 L124.5 1146.7 L123.0 1145.2 L121.3 1143.8 L119.6 1142.4 L117.9 1141.2 L116.1 1140.0 L114.3 1138.9 L112.4 1137.9 L110.5 1136.9 L108.6 1136.1 L106.6 1135.4 L104.7 1134.7 L102.7 1134.0 L100.7 1133.5 L98.8 1132.9 L96.8 1132.4 L94.8 1131.9 L92.8 1131.5 L90.8 1131.2 L88.8 1131.0 L86.7 1130.9 L84.7 1130.9 L82.6 1130.9 L80.6 1131.1 L78.6 1131.3 L76.6 1131.6 L78.5 1142.4 L80.0 1142.2 L81.6 1142.0 L83.2 1141.8 L84.7 1141.7 L86.3 1141.7 L87.9 1141.8 L89.5 1141.9 L91.1 1142.1 L92.6 1142.3 L94.2 1142.6 L95.7 1143.0 L97.3 1143.4 L98.8 1143.9 L100.3 1144.4 L101.9 1144.9 L103.4 1145.5 L104.9 1146.2 L106.4 1146.9 L107.8 1147.6 L109.3 1148.4 L110.8 1149.3 L112.3 1150.1 L113.8 1151.0 L115.4 1151.9 L116.9 1152.9 L118.3 1154.0 L119.8 1155.2 L121.2 1156.4 L122.6 1157.7 L124.0 1159.0 L125.4 1160.5 L126.7 1161.9 L128.0 1163.5 L129.3 1165.2 L130.5 1166.9 L131.6 1168.7 L132.7 1170.6 L133.6 1172.5 L134.3 1174.6 Z" fill="#d1d1d1"/></g><g filter="url(#b1)" opacity="1"><path d="M133.6 1161.2 L132.8 1159.5 L131.9 1157.9 L130.8 1156.3 L129.8 1154.8 L128.6 1153.4 L127.5 1152.0 L126.2 1150.6 L125.0 1149.3 L123.6 1148.1 L122.3 1146.9 L120.9 1145.8 L119.5 1144.8 L118.0 1143.8 L116.5 1142.9 L115.0 1142.0 L113.5 1141.2 L112.0 1140.4 L110.4 1139.7 L108.9 1139.0 L107.3 1138.4 L105.7 1137.9 L104.1 1137.4 L102.5 1137.0 L100.9 1136.6 L99.3 1136.3 L97.7 1136.0 L96.2 1135.7 L94.6 1135.4 L93.0 1135.1 L91.4 1134.9 L89.9 1134.7 L88.3 1134.5 L86.7 1134.4 L85.1 1134.4 L83.5 1134.4 L81.9 1134.5 L80.3 1134.6 L78.7 1134.8 L77.2 1135.1 L78.0 1140.0 L79.4 1139.7 L80.8 1139.5 L82.2 1139.4 L83.7 1139.2 L85.1 1139.2 L86.5 1139.2 L87.9 1139.2 L89.3 1139.3 L90.8 1139.5 L92.2 1139.6 L93.6 1139.9 L95.0 1140.1 L96.4 1140.4 L97.9 1140.6 L99.3 1140.9 L100.7 1141.3 L102.1 1141.7 L103.6 1142.2 L105.0 1142.7 L106.3 1143.2 L107.7 1143.8 L109.1 1144.4 L110.5 1145.1 L111.9 1145.8 L113.3 1146.5 L114.7 1147.3 L116.1 1148.1 L117.4 1149.0 L118.8 1150.0 L120.1 1151.0 L121.4 1152.0 L122.6 1153.1 L123.9 1154.2 L125.2 1155.4 L126.4 1156.6 L127.6 1157.9 L128.8 1159.3 L129.8 1160.7 L130.7 1162.2 Z" fill="#ffffff"/></g><g filter="url(#b2)"><path d="M78.9 1140.886266633191 C100.9 1140.886266633191 114.9 1152.886266633191 120.9 1170.886266633191 C123.9 1180.886266633191 119.8 1179.9 123.8 1187.9 L171.0 1236.1 V1277.2 H78.9 Z" fill="#030303"/></g></g></g></g><path d="M84.90 1093.1 V1257.2" stroke="#000" stroke-width="1.45"/><rect x="0.80" y="1091.75" width="168.2" height="166.80000000000013" fill="none" stroke="#000" stroke-width="2.7"/>
<g clip-path="url(#clb11)"><g filter="url(#fbb11)"><g filter="url(#pbb11)"><rect x="154.05" y="1073.1" width="122.75" height="204.10000000000014" fill="#000"/><g filter="url(#b15)" opacity="1"><ellipse cx="256.80" cy="1182.15" rx="33.3" ry="35.3" fill="#3c3c3c"/></g><g filter="url(#b15)" opacity="1"><path d="M262.8 1146.2 L260.3 1145.8 L257.9 1145.7 L255.4 1145.7 L253.0 1146.0 L250.5 1146.4 L248.2 1147.0 L245.8 1147.8 L243.5 1148.8 L241.3 1149.9 L239.2 1151.2 L237.2 1152.6 L235.3 1154.2 L233.5 1156.0 L231.8 1157.8 L230.3 1159.8 L228.9 1161.9 L227.6 1164.1 L226.5 1166.4 L225.5 1168.7 L224.8 1171.1 L224.1 1173.6 L223.7 1176.1 L223.4 1178.7 L223.3 1181.2 L223.3 1183.7 L223.5 1186.3 L223.9 1188.8 L224.4 1191.3 L225.1 1193.7 L226.0 1196.1 L227.0 1198.4 L228.2 1200.6 L229.5 1202.7 L230.9 1204.7 L232.5 1206.6 L234.3 1208.4 L236.1 1210.1 L238.0 1211.6 L240.1 1212.9 L240.6 1211.8 L238.8 1210.3 L237.1 1208.7 L235.6 1206.9 L234.2 1204.9 L233.0 1203.0 L231.8 1200.9 L230.8 1198.9 L230.0 1196.8 L229.2 1194.6 L228.6 1192.4 L228.2 1190.2 L227.9 1188.0 L227.7 1185.8 L227.7 1183.5 L227.8 1181.3 L228.0 1179.1 L228.3 1177.0 L228.8 1174.8 L229.4 1172.7 L230.1 1170.7 L231.0 1168.7 L232.0 1166.8 L233.1 1165.0 L234.4 1163.3 L235.8 1161.7 L237.2 1160.1 L238.8 1158.7 L240.4 1157.4 L242.1 1156.3 L243.9 1155.2 L245.7 1154.3 L247.7 1153.5 L249.6 1152.9 L251.6 1152.4 L253.6 1152.1 L255.7 1152.0 L257.7 1152.0 L259.7 1152.1 L261.7 1152.4 Z" fill="#616161"/></g><g filter="url(#b1)" opacity="1"><path d="M262.7 1146.7 L261.4 1146.5 L260.0 1146.3 L258.7 1146.3 L257.4 1146.3 L256.0 1146.3 L254.7 1146.4 L253.4 1146.5 L252.1 1146.7 L250.8 1147.0 L249.5 1147.3 L248.2 1147.7 L246.9 1148.1 L245.7 1148.6 L244.5 1149.1 L243.2 1149.6 L242.1 1150.2 L240.9 1150.9 L239.7 1151.6 L238.6 1152.3 L237.5 1153.1 L236.5 1153.9 L235.4 1154.8 L234.4 1155.7 L233.5 1156.7 L232.5 1157.7 L231.6 1158.7 L230.8 1159.8 L230.0 1160.9 L229.2 1162.0 L228.5 1163.2 L227.8 1164.4 L227.2 1165.6 L226.6 1166.8 L226.0 1168.1 L225.5 1169.4 L225.1 1170.7 L224.7 1172.1 L224.3 1173.4 L224.0 1174.8 L226.1 1175.2 L226.5 1174.0 L227.0 1172.8 L227.5 1171.6 L228.1 1170.5 L228.8 1169.4 L229.4 1168.3 L230.1 1167.3 L230.9 1166.3 L231.7 1165.3 L232.4 1164.3 L233.2 1163.4 L234.0 1162.5 L234.8 1161.6 L235.6 1160.8 L236.5 1160.0 L237.4 1159.2 L238.3 1158.5 L239.2 1157.8 L240.2 1157.1 L241.2 1156.5 L242.2 1156.0 L243.2 1155.5 L244.2 1155.0 L245.3 1154.5 L246.3 1154.1 L247.4 1153.6 L248.4 1153.3 L249.5 1152.9 L250.6 1152.7 L251.7 1152.4 L252.8 1152.2 L253.9 1152.1 L255.0 1152.0 L256.2 1151.9 L257.3 1151.9 L258.4 1152.0 L259.5 1152.1 L260.6 1152.2 L261.7 1152.4 Z" fill="#999999"/></g></g></g></g><g clip-path="url(#crb11)"><g filter="url(#frb11)"><g filter="url(#prb11)"><rect x="236.80" y="1073.1" width="122.75" height="204.10000000000014" fill="#131313"/><g filter="url(#b12)"><ellipse cx="316.8" cy="1162.2" rx="70" ry="90" fill="#1a1a1a"/></g><g filter="url(#b6)" opacity="1"><path d="M283.2 1213.6 L285.9 1212.5 L288.9 1211.4 L292.1 1210.2 L295.3 1208.7 L298.4 1206.9 L301.4 1204.8 L304.2 1202.4 L306.9 1199.6 L309.3 1196.6 L311.5 1193.3 L313.5 1189.8 L315.2 1186.1 L316.4 1182.2 L317.3 1178.1 L317.8 1173.9 L317.8 1169.7 L317.6 1165.4 L317.1 1161.1 L316.2 1156.8 L315.0 1152.6 L313.5 1148.4 L311.6 1144.3 L309.4 1140.4 L306.8 1136.6 L304.0 1133.0 L300.9 1129.5 L297.6 1126.3 L294.0 1123.3 L290.1 1120.7 L286.1 1118.3 L281.8 1116.3 L277.4 1114.6 L272.8 1113.1 L268.2 1112.0 L263.5 1111.2 L258.7 1110.8 L253.9 1110.6 L249.1 1110.8 L244.3 1111.4 L251.9 1154.6 L253.8 1154.3 L255.7 1154.2 L257.6 1154.2 L259.4 1154.3 L261.3 1154.5 L263.1 1154.9 L265.0 1155.4 L266.7 1156.0 L268.5 1156.7 L270.2 1157.5 L271.8 1158.4 L273.4 1159.4 L275.0 1160.4 L276.5 1161.6 L277.9 1162.9 L279.3 1164.3 L280.5 1165.8 L281.7 1167.3 L282.7 1169.0 L283.7 1170.7 L284.5 1172.5 L285.2 1174.3 L285.8 1176.2 L286.3 1178.2 L286.6 1180.1 L286.8 1182.2 L286.9 1184.2 L286.8 1186.2 L286.6 1188.2 L286.3 1190.3 L285.9 1192.3 L285.2 1194.3 L284.5 1196.2 L283.6 1198.1 L282.6 1200.0 L281.5 1201.8 L280.2 1203.5 L278.8 1205.1 L277.3 1206.6 Z" fill="#454545"/></g><g filter="url(#b4)" opacity="1"><path d="M285.2 1206.0 L287.5 1204.8 L290.1 1203.6 L292.9 1202.4 L295.7 1200.8 L298.2 1198.9 L300.6 1196.8 L302.7 1194.3 L304.5 1191.7 L306.0 1188.8 L307.3 1185.8 L308.4 1182.6 L309.0 1179.3 L309.4 1176.0 L309.5 1172.6 L309.3 1169.2 L308.9 1165.8 L308.3 1162.4 L307.5 1158.9 L306.4 1155.5 L305.2 1152.2 L303.6 1148.9 L301.9 1145.7 L299.9 1142.5 L297.7 1139.5 L295.3 1136.7 L292.6 1134.0 L289.8 1131.5 L286.8 1129.2 L283.6 1127.0 L280.2 1125.1 L276.7 1123.5 L273.0 1122.2 L269.3 1121.1 L265.4 1120.3 L261.6 1119.8 L257.6 1119.5 L253.7 1119.5 L249.8 1119.7 L245.9 1120.2 L251.9 1154.6 L253.7 1154.3 L255.4 1154.2 L257.2 1154.2 L258.9 1154.2 L260.7 1154.4 L262.4 1154.7 L264.1 1155.1 L265.8 1155.6 L267.5 1156.1 L269.1 1156.7 L270.8 1157.4 L272.4 1158.2 L273.9 1159.2 L275.4 1160.2 L276.9 1161.3 L278.2 1162.5 L279.5 1163.8 L280.8 1165.1 L281.9 1166.6 L282.9 1168.1 L283.9 1169.7 L284.7 1171.4 L285.4 1173.2 L285.9 1175.0 L286.3 1176.8 L286.6 1178.7 L286.8 1180.5 L286.9 1182.4 L287.0 1184.3 L286.9 1186.2 L286.8 1188.1 L286.5 1190.0 L286.1 1191.9 L285.6 1193.8 L285.0 1195.7 L284.3 1197.5 L283.4 1199.3 L282.4 1201.0 L281.2 1202.7 Z" fill="#757575"/></g><g filter="url(#b15)" opacity="1"><path d="M286.7 1200.9 L288.0 1199.2 L289.4 1197.5 L290.7 1195.7 L291.9 1193.9 L293.0 1191.9 L294.1 1189.9 L295.0 1187.7 L295.8 1185.5 L296.4 1183.2 L296.8 1180.9 L297.0 1178.5 L297.0 1176.1 L296.8 1173.6 L296.5 1171.2 L296.0 1168.8 L295.3 1166.5 L294.5 1164.1 L293.6 1161.8 L292.5 1159.6 L291.3 1157.4 L289.9 1155.3 L288.4 1153.2 L286.8 1151.3 L285.0 1149.5 L283.1 1147.7 L281.1 1146.1 L279.0 1144.6 L276.8 1143.3 L274.5 1142.1 L272.1 1141.0 L269.7 1140.1 L267.2 1139.4 L264.7 1138.9 L262.1 1138.5 L259.5 1138.2 L256.9 1138.2 L254.3 1138.2 L251.7 1138.4 L249.2 1138.8 L251.6 1152.6 L253.3 1152.3 L255.1 1152.2 L256.9 1152.2 L258.7 1152.2 L260.4 1152.4 L262.2 1152.6 L263.9 1153.0 L265.6 1153.5 L267.3 1154.0 L268.9 1154.7 L270.5 1155.5 L272.1 1156.3 L273.6 1157.3 L275.0 1158.3 L276.4 1159.4 L277.7 1160.6 L278.9 1161.9 L280.1 1163.2 L281.2 1164.6 L282.2 1166.1 L283.1 1167.6 L283.9 1169.2 L284.6 1170.8 L285.2 1172.5 L285.7 1174.2 L286.1 1175.9 L286.5 1177.7 L286.7 1179.4 L286.9 1181.2 L287.0 1183.0 L287.0 1184.8 L287.0 1186.6 L287.0 1188.4 L286.8 1190.2 L286.6 1192.1 L286.3 1194.0 L285.9 1195.9 L285.3 1197.7 L284.6 1199.5 Z" fill="#9e9e9e"/></g><g filter="url(#b15)" opacity="1"><path d="M285.1 1153.8 L284.5 1153.1 L283.8 1152.3 L283.2 1151.5 L282.5 1150.8 L281.8 1150.1 L281.1 1149.3 L280.4 1148.6 L279.6 1147.9 L278.9 1147.3 L278.1 1146.6 L277.2 1146.0 L276.4 1145.4 L275.5 1144.9 L274.6 1144.4 L273.7 1143.9 L272.8 1143.4 L271.9 1142.9 L270.9 1142.5 L270.0 1142.1 L269.0 1141.7 L268.0 1141.4 L267.0 1141.0 L266.0 1140.7 L265.0 1140.5 L264.0 1140.3 L263.0 1140.1 L261.9 1140.0 L260.9 1139.8 L259.8 1139.8 L258.8 1139.7 L257.8 1139.7 L256.7 1139.7 L255.7 1139.7 L254.6 1139.7 L253.6 1139.8 L252.5 1139.9 L251.5 1140.0 L250.5 1140.1 L249.4 1140.3 L251.4 1151.6 L252.2 1151.5 L252.9 1151.4 L253.7 1151.3 L254.4 1151.2 L255.2 1151.2 L256.0 1151.2 L256.7 1151.2 L257.5 1151.2 L258.3 1151.2 L259.0 1151.2 L259.8 1151.3 L260.5 1151.4 L261.3 1151.5 L262.0 1151.6 L262.8 1151.7 L263.5 1151.9 L264.3 1152.1 L265.0 1152.3 L265.8 1152.5 L266.5 1152.7 L267.2 1152.9 L267.9 1153.2 L268.6 1153.5 L269.3 1153.8 L270.0 1154.1 L270.7 1154.4 L271.4 1154.8 L272.1 1155.1 L272.8 1155.4 L273.5 1155.7 L274.3 1156.0 L275.0 1156.2 L275.8 1156.5 L276.5 1156.9 L277.3 1157.2 L278.0 1157.6 L278.7 1158.0 L279.4 1158.4 L280.1 1158.9 Z" fill="#dbdbdb"/></g><g filter="url(#b2)" opacity="1"><ellipse cx="256.80" cy="1184.66" rx="29.5" ry="32" fill="#000000"/></g><g filter="url(#b1)"><rect x="254.8" y="1219.8" width="6.5" height="60" fill="#808080"/></g><g filter="url(#b2)"><rect x="259.8" y="1228.6" width="5" height="60" fill="#383838"/></g></g></g></g><path d="M256.80 1093.1 V1257.2" stroke="#000" stroke-width="1.45"/><rect x="172.70" y="1091.75" width="168.2" height="166.80000000000013" fill="none" stroke="#000" stroke-width="2.7"/>
<g clip-path="url(#clb12)"><g filter="url(#fbb12)"><g filter="url(#pbb12)"><rect x="325.95" y="1073.1" width="122.75" height="204.10000000000014" fill="#000"/><g filter="url(#b15)" opacity="1"><ellipse cx="428.70" cy="1183.15" rx="29.5" ry="30.5" fill="#3c3c3c"/></g><g filter="url(#b4)" opacity="1"><path d="M434.8 1147.7 L431.9 1147.4 L429.0 1147.2 L426.1 1147.4 L423.3 1147.8 L420.5 1148.4 L417.7 1149.2 L415.0 1150.3 L412.5 1151.6 L410.0 1153.1 L407.7 1154.7 L405.5 1156.6 L403.6 1158.6 L401.7 1160.8 L400.1 1163.2 L398.7 1165.6 L397.4 1168.2 L396.4 1170.8 L395.7 1173.5 L395.1 1176.3 L394.8 1179.1 L394.7 1181.9 L394.8 1184.7 L395.1 1187.5 L395.7 1190.3 L396.5 1193.0 L397.5 1195.6 L398.7 1198.2 L400.1 1200.6 L401.7 1202.9 L403.6 1205.0 L405.5 1207.0 L407.7 1208.9 L410.0 1210.5 L412.4 1212.0 L414.9 1213.2 L417.5 1214.3 L420.2 1215.1 L422.9 1215.7 L425.7 1216.0 L426.8 1204.0 L425.0 1203.7 L423.3 1203.2 L421.6 1202.6 L419.9 1201.8 L418.4 1201.0 L416.9 1199.9 L415.6 1198.8 L414.3 1197.6 L413.2 1196.3 L412.1 1194.9 L411.2 1193.4 L410.5 1191.9 L409.8 1190.3 L409.3 1188.7 L409.0 1187.0 L408.7 1185.3 L408.6 1183.7 L408.6 1182.0 L408.8 1180.4 L409.0 1178.7 L409.3 1177.1 L409.8 1175.5 L410.4 1174.0 L411.2 1172.5 L412.0 1171.1 L413.0 1169.7 L414.1 1168.5 L415.3 1167.3 L416.5 1166.3 L417.9 1165.3 L419.3 1164.5 L420.8 1163.8 L422.4 1163.2 L424.0 1162.7 L425.6 1162.4 L427.2 1162.2 L428.9 1162.2 L430.5 1162.2 L432.2 1162.5 Z" fill="#1f1f1f"/></g><g filter="url(#b2)" opacity="1"><path d="M434.1 1150.7 L431.5 1150.4 L429.0 1150.3 L426.4 1150.5 L423.9 1150.8 L421.4 1151.4 L419.0 1152.1 L416.6 1153.1 L414.3 1154.3 L412.2 1155.6 L410.1 1157.2 L408.2 1158.9 L406.4 1160.7 L404.8 1162.7 L403.3 1164.8 L402.0 1167.0 L400.9 1169.3 L399.9 1171.7 L399.2 1174.2 L398.7 1176.8 L398.3 1179.3 L398.2 1181.9 L398.3 1184.5 L398.6 1187.1 L399.1 1189.7 L399.8 1192.2 L400.7 1194.6 L401.8 1196.9 L403.1 1199.2 L404.5 1201.3 L406.1 1203.3 L407.9 1205.1 L409.8 1206.8 L411.9 1208.4 L414.0 1209.7 L416.3 1210.9 L418.7 1211.8 L421.1 1212.6 L423.5 1213.1 L426.0 1213.4 L426.5 1207.7 L424.5 1207.3 L422.5 1206.7 L420.7 1205.9 L418.9 1204.9 L417.2 1203.8 L415.6 1202.6 L414.1 1201.3 L412.7 1199.9 L411.4 1198.3 L410.3 1196.8 L409.2 1195.1 L408.4 1193.3 L407.6 1191.5 L407.0 1189.7 L406.6 1187.8 L406.3 1185.8 L406.2 1183.9 L406.2 1182.0 L406.4 1180.1 L406.7 1178.2 L407.2 1176.4 L407.8 1174.6 L408.6 1172.9 L409.5 1171.3 L410.5 1169.7 L411.7 1168.3 L412.9 1166.9 L414.2 1165.7 L415.6 1164.5 L417.1 1163.5 L418.6 1162.6 L420.2 1161.8 L421.9 1161.1 L423.6 1160.6 L425.3 1160.3 L427.1 1160.1 L428.9 1160.0 L430.7 1160.1 L432.4 1160.3 Z" fill="#808080"/></g><g filter="url(#b2)" opacity="1"><path d="M434.1 1150.7 L432.7 1150.5 L431.3 1150.4 L429.9 1150.4 L428.6 1150.4 L427.2 1150.5 L425.8 1150.6 L424.5 1150.8 L423.1 1151.1 L421.8 1151.4 L420.5 1151.8 L419.2 1152.3 L417.9 1152.8 L416.6 1153.3 L415.4 1153.9 L414.2 1154.5 L413.0 1155.2 L411.8 1156.0 L410.7 1156.8 L409.6 1157.6 L408.6 1158.5 L407.6 1159.5 L406.6 1160.5 L405.7 1161.5 L404.8 1162.6 L404.0 1163.7 L403.2 1164.9 L402.5 1166.1 L401.8 1167.3 L401.2 1168.6 L400.6 1169.8 L400.1 1171.1 L399.7 1172.5 L399.3 1173.8 L399.0 1175.2 L398.7 1176.6 L398.5 1177.9 L398.3 1179.3 L398.2 1180.7 L398.2 1182.2 L401.0 1182.2 L401.2 1180.9 L401.7 1179.7 L402.2 1178.5 L402.8 1177.3 L403.4 1176.2 L404.1 1175.2 L404.7 1174.1 L405.3 1173.1 L406.0 1172.2 L406.7 1171.3 L407.4 1170.4 L408.1 1169.5 L408.9 1168.8 L409.7 1168.0 L410.5 1167.3 L411.3 1166.6 L412.1 1165.9 L412.9 1165.2 L413.7 1164.6 L414.5 1164.0 L415.4 1163.4 L416.3 1162.9 L417.2 1162.4 L418.1 1162.0 L419.0 1161.6 L419.9 1161.2 L420.9 1160.9 L421.8 1160.6 L422.8 1160.3 L423.7 1160.1 L424.7 1159.9 L425.7 1159.7 L426.6 1159.6 L427.6 1159.5 L428.6 1159.5 L429.6 1159.5 L430.6 1159.6 L431.5 1159.7 L432.5 1159.8 Z" fill="#b8b8b8"/></g></g></g></g><g clip-path="url(#crb12)"><g filter="url(#frb12)"><g filter="url(#prb12)"><rect x="408.70" y="1073.1" width="122.75" height="204.10000000000014" fill="#0d0d0d"/><g filter="url(#b12)"><ellipse cx="468.7" cy="1172.2" rx="55" ry="70" fill="#171717"/></g><g filter="url(#b6)" opacity="1"><path d="M448.6 1205.8 L450.8 1205.1 L453.2 1204.4 L455.8 1203.7 L458.5 1202.7 L461.0 1201.4 L463.5 1199.8 L465.8 1198.0 L467.9 1195.8 L469.9 1193.5 L471.6 1190.9 L473.1 1188.2 L474.4 1185.2 L475.4 1182.2 L476.1 1179.0 L476.5 1175.7 L476.6 1172.4 L476.5 1169.0 L476.1 1165.6 L475.5 1162.2 L474.6 1158.9 L473.4 1155.5 L472.0 1152.3 L470.3 1149.1 L468.4 1146.0 L466.2 1143.1 L463.8 1140.3 L461.2 1137.6 L458.4 1135.2 L455.4 1133.0 L452.1 1131.0 L448.7 1129.4 L445.2 1127.9 L441.6 1126.8 L437.8 1125.9 L434.1 1125.2 L430.2 1124.7 L426.4 1124.6 L422.5 1124.7 L418.6 1125.1 L425.4 1163.4 L426.7 1163.3 L427.9 1163.2 L429.2 1163.2 L430.5 1163.2 L431.7 1163.4 L433.0 1163.6 L434.2 1164.0 L435.4 1164.4 L436.6 1164.9 L437.8 1165.4 L438.9 1166.0 L440.0 1166.6 L441.1 1167.3 L442.2 1168.1 L443.2 1169.0 L444.1 1169.9 L445.0 1170.9 L445.9 1171.9 L446.6 1173.0 L447.3 1174.2 L447.9 1175.4 L448.5 1176.7 L448.9 1178.0 L449.3 1179.4 L449.5 1180.7 L449.7 1182.2 L449.8 1183.6 L449.8 1185.0 L449.7 1186.4 L449.5 1187.9 L449.3 1189.3 L448.9 1190.7 L448.4 1192.1 L447.8 1193.5 L447.1 1194.9 L446.3 1196.2 L445.5 1197.4 L444.5 1198.6 L443.4 1199.7 Z" fill="#333333"/></g><g filter="url(#b3)" opacity="1"><path d="M458.3 1192.9 L459.2 1191.4 L460.3 1189.9 L461.4 1188.4 L462.5 1186.7 L463.4 1185.0 L464.1 1183.1 L464.7 1181.2 L465.0 1179.2 L465.1 1177.2 L465.1 1175.2 L465.0 1173.2 L464.8 1171.2 L464.4 1169.1 L464.0 1167.1 L463.5 1165.1 L462.8 1163.1 L462.1 1161.1 L461.2 1159.1 L460.2 1157.1 L459.1 1155.2 L457.9 1153.4 L456.5 1151.6 L455.1 1149.9 L453.5 1148.2 L451.9 1146.6 L450.1 1145.1 L448.2 1143.7 L446.3 1142.4 L444.2 1141.2 L442.1 1140.2 L439.8 1139.4 L437.6 1138.8 L435.2 1138.2 L432.9 1137.9 L430.5 1137.6 L428.1 1137.5 L425.7 1137.5 L423.3 1137.6 L420.9 1137.9 L425.4 1163.4 L426.4 1163.3 L427.4 1163.2 L428.4 1163.2 L429.5 1163.2 L430.5 1163.2 L431.5 1163.4 L432.5 1163.5 L433.5 1163.8 L434.5 1164.0 L435.5 1164.3 L436.5 1164.6 L437.4 1165.0 L438.4 1165.3 L439.4 1165.8 L440.3 1166.3 L441.2 1166.8 L442.1 1167.4 L442.9 1168.1 L443.8 1168.8 L444.6 1169.5 L445.3 1170.3 L446.0 1171.2 L446.7 1172.1 L447.3 1173.0 L447.9 1174.0 L448.5 1175.0 L448.9 1176.0 L449.4 1177.1 L449.8 1178.1 L450.1 1179.3 L450.4 1180.4 L450.6 1181.6 L450.8 1182.7 L450.9 1183.9 L450.9 1185.1 L450.8 1186.4 L450.7 1187.6 L450.5 1188.8 L450.2 1190.0 Z" fill="#4c4c4c"/></g><g filter="url(#b2)" opacity="1"><path d="M453.1 1195.1 L454.0 1193.8 L454.8 1192.4 L455.6 1191.0 L456.3 1189.5 L457.0 1187.9 L457.6 1186.4 L458.1 1184.7 L458.4 1183.1 L458.6 1181.3 L458.7 1179.6 L458.6 1177.9 L458.4 1176.2 L458.1 1174.5 L457.7 1172.8 L457.1 1171.1 L456.5 1169.5 L455.8 1167.9 L455.0 1166.3 L454.1 1164.8 L453.1 1163.3 L452.1 1161.9 L450.9 1160.5 L449.7 1159.3 L448.4 1158.0 L447.0 1156.9 L445.6 1155.8 L444.1 1154.9 L442.5 1154.0 L440.9 1153.2 L439.2 1152.5 L437.5 1151.9 L435.8 1151.5 L434.0 1151.1 L432.2 1150.8 L430.4 1150.7 L428.6 1150.7 L426.8 1150.7 L425.0 1150.9 L423.2 1151.1 L425.2 1162.5 L426.4 1162.3 L427.5 1162.2 L428.6 1162.2 L429.8 1162.2 L430.9 1162.3 L432.1 1162.4 L433.2 1162.7 L434.3 1162.9 L435.4 1163.3 L436.5 1163.6 L437.6 1164.1 L438.6 1164.6 L439.6 1165.1 L440.6 1165.7 L441.6 1166.4 L442.5 1167.1 L443.4 1167.8 L444.3 1168.6 L445.2 1169.5 L446.0 1170.3 L446.7 1171.3 L447.4 1172.3 L448.1 1173.3 L448.7 1174.4 L449.3 1175.5 L449.8 1176.6 L450.2 1177.8 L450.6 1179.0 L450.9 1180.3 L451.2 1181.5 L451.4 1182.8 L451.6 1184.2 L451.8 1185.5 L451.9 1186.9 L452.0 1188.3 L452.0 1189.8 L452.0 1191.3 L451.8 1192.8 L451.4 1194.2 Z" fill="#808080"/></g><g filter="url(#b2)" opacity="1"><path d="M449.2 1161.6 L448.8 1161.1 L448.3 1160.5 L447.8 1160.0 L447.3 1159.4 L446.8 1158.9 L446.3 1158.4 L445.8 1157.9 L445.2 1157.4 L444.7 1156.9 L444.1 1156.5 L443.5 1156.0 L442.9 1155.6 L442.2 1155.2 L441.6 1154.8 L441.0 1154.4 L440.3 1154.0 L439.6 1153.7 L439.0 1153.3 L438.3 1153.0 L437.6 1152.7 L436.9 1152.4 L436.2 1152.2 L435.4 1152.0 L434.7 1151.8 L433.9 1151.6 L433.2 1151.5 L432.4 1151.4 L431.7 1151.3 L430.9 1151.2 L430.2 1151.2 L429.4 1151.2 L428.6 1151.2 L427.9 1151.2 L427.1 1151.2 L426.3 1151.2 L425.6 1151.3 L424.8 1151.4 L424.1 1151.5 L423.3 1151.6 L425.1 1162.0 L425.6 1161.9 L426.1 1161.8 L426.6 1161.8 L427.1 1161.7 L427.6 1161.7 L428.1 1161.7 L428.7 1161.7 L429.2 1161.7 L429.7 1161.7 L430.2 1161.7 L430.7 1161.7 L431.2 1161.8 L431.7 1161.9 L432.2 1161.9 L432.7 1162.0 L433.2 1162.1 L433.7 1162.2 L434.2 1162.3 L434.7 1162.4 L435.2 1162.5 L435.7 1162.6 L436.1 1162.8 L436.6 1162.9 L437.1 1163.1 L437.6 1163.3 L438.1 1163.5 L438.6 1163.6 L439.1 1163.8 L439.6 1163.9 L440.2 1164.0 L440.8 1164.1 L441.4 1164.1 L442.0 1164.2 L442.6 1164.3 L443.2 1164.5 L443.8 1164.6 L444.4 1164.8 L445.0 1165.0 L445.6 1165.3 Z" fill="#c7c7c7"/></g><g filter="url(#b2)" opacity="1"><ellipse cx="428.70" cy="1184.66" rx="20" ry="23.5" fill="#000000"/></g><g filter="url(#b2)" opacity="1"><ellipse cx="432.70" cy="1214.79" rx="4.5" ry="4.5" fill="#383838"/></g></g></g></g><path d="M428.70 1093.1 V1257.2" stroke="#000" stroke-width="1.45"/><rect x="344.60" y="1091.75" width="168.2" height="166.80000000000013" fill="none" stroke="#000" stroke-width="2.7"/>
<g clip-path="url(#clb13)"><g filter="url(#fbb13)"><g filter="url(#pbb13)"><rect x="497.85" y="1073.1" width="122.75" height="204.10000000000014" fill="#000"/><g filter="url(#b15)" opacity="1"><ellipse cx="600.60" cy="1183.90" rx="23" ry="24.5" fill="#3c3c3c"/></g><g filter="url(#b4)" opacity="1"><path d="M606.0 1152.4 L603.4 1152.1 L600.9 1152.0 L598.3 1152.1 L595.8 1152.5 L593.3 1153.0 L590.9 1153.8 L588.5 1154.7 L586.2 1155.9 L584.1 1157.2 L582.0 1158.7 L580.1 1160.3 L578.4 1162.1 L576.8 1164.1 L575.3 1166.1 L574.1 1168.3 L573.0 1170.6 L572.1 1172.9 L571.4 1175.3 L570.9 1177.7 L570.7 1180.2 L570.6 1182.7 L570.7 1185.2 L571.0 1187.6 L571.5 1190.1 L572.2 1192.5 L573.1 1194.8 L574.1 1197.0 L575.4 1199.2 L576.8 1201.2 L578.4 1203.1 L580.2 1204.9 L582.0 1206.5 L584.1 1207.9 L586.2 1209.2 L588.4 1210.3 L590.7 1211.2 L593.1 1211.9 L595.5 1212.5 L598.0 1212.8 L599.4 1196.8 L598.3 1196.6 L597.2 1196.2 L596.1 1195.8 L595.1 1195.3 L594.1 1194.7 L593.2 1194.0 L592.4 1193.3 L591.7 1192.5 L591.0 1191.7 L590.4 1190.8 L589.9 1189.8 L589.4 1188.9 L589.1 1187.9 L588.8 1186.9 L588.6 1185.9 L588.5 1184.8 L588.5 1183.8 L588.5 1182.8 L588.6 1181.8 L588.8 1180.8 L589.0 1179.9 L589.3 1178.9 L589.6 1178.0 L590.1 1177.1 L590.6 1176.3 L591.2 1175.5 L591.8 1174.7 L592.5 1174.0 L593.3 1173.4 L594.1 1172.8 L595.0 1172.3 L595.9 1171.9 L596.8 1171.5 L597.8 1171.2 L598.7 1171.1 L599.7 1170.9 L600.7 1170.9 L601.7 1171.0 L602.7 1171.1 Z" fill="#212121"/></g><g filter="url(#b2)" opacity="1"><path d="M604.9 1157.3 L602.9 1157.1 L600.8 1157.0 L598.8 1157.1 L596.7 1157.4 L594.7 1157.9 L592.8 1158.5 L590.9 1159.3 L589.1 1160.3 L587.3 1161.4 L585.7 1162.6 L584.1 1164.0 L582.7 1165.5 L581.4 1167.1 L580.2 1168.8 L579.1 1170.6 L578.2 1172.5 L577.5 1174.5 L576.9 1176.5 L576.5 1178.5 L576.2 1180.6 L576.1 1182.7 L576.1 1184.8 L576.3 1186.9 L576.7 1189.0 L577.2 1191.1 L577.9 1193.1 L578.7 1195.0 L579.7 1196.9 L580.9 1198.7 L582.2 1200.3 L583.6 1201.9 L585.2 1203.3 L586.8 1204.6 L588.6 1205.7 L590.4 1206.7 L592.4 1207.5 L594.3 1208.1 L596.4 1208.5 L598.4 1208.8 L599.0 1201.3 L597.6 1200.9 L596.3 1200.3 L595.0 1199.6 L593.8 1198.7 L592.8 1197.8 L591.8 1196.8 L590.9 1195.8 L590.0 1194.7 L589.2 1193.7 L588.5 1192.6 L587.9 1191.4 L587.3 1190.3 L586.9 1189.1 L586.5 1187.8 L586.3 1186.6 L586.1 1185.3 L586.1 1184.1 L586.1 1182.8 L586.3 1181.6 L586.5 1180.4 L586.9 1179.2 L587.3 1178.0 L587.8 1176.9 L588.4 1175.9 L589.1 1174.9 L589.8 1174.0 L590.6 1173.2 L591.5 1172.4 L592.4 1171.7 L593.3 1171.1 L594.3 1170.5 L595.3 1170.0 L596.3 1169.6 L597.4 1169.3 L598.5 1169.0 L599.6 1168.9 L600.7 1168.9 L601.8 1168.9 L602.9 1169.1 Z" fill="#858585"/></g><g filter="url(#b2)" opacity="1"><path d="M604.9 1157.3 L603.8 1157.2 L602.6 1157.1 L601.4 1157.1 L600.3 1157.1 L599.1 1157.2 L597.9 1157.3 L596.8 1157.5 L595.7 1157.8 L594.6 1158.1 L593.5 1158.5 L592.4 1158.9 L591.3 1159.3 L590.2 1159.8 L589.2 1160.3 L588.2 1160.9 L587.2 1161.6 L586.3 1162.2 L585.4 1163.0 L584.5 1163.7 L583.6 1164.5 L582.8 1165.4 L582.0 1166.3 L581.3 1167.2 L580.6 1168.1 L580.0 1169.1 L579.4 1170.2 L578.8 1171.2 L578.3 1172.3 L577.9 1173.4 L577.5 1174.5 L577.1 1175.7 L576.8 1176.8 L576.6 1178.0 L576.4 1179.2 L576.2 1180.3 L576.1 1181.5 L576.1 1182.7 L576.1 1183.9 L576.2 1185.1 L580.0 1184.8 L580.2 1183.8 L580.5 1182.8 L581.0 1181.8 L581.6 1180.9 L582.2 1180.1 L582.7 1179.2 L583.3 1178.5 L583.9 1177.7 L584.5 1177.0 L585.0 1176.4 L585.6 1175.7 L586.1 1175.1 L586.7 1174.6 L587.4 1174.1 L588.0 1173.6 L588.6 1173.1 L589.2 1172.7 L589.8 1172.2 L590.4 1171.8 L590.9 1171.4 L591.5 1171.0 L592.1 1170.6 L592.7 1170.3 L593.3 1170.0 L594.0 1169.8 L594.6 1169.5 L595.2 1169.3 L595.9 1169.1 L596.5 1169.0 L597.2 1168.8 L597.8 1168.6 L598.4 1168.5 L599.1 1168.4 L599.8 1168.4 L600.4 1168.3 L601.1 1168.4 L601.7 1168.4 L602.4 1168.5 L603.0 1168.6 Z" fill="#dbdbdb"/></g></g></g></g><g clip-path="url(#crb13)"><g filter="url(#frb13)"><g filter="url(#prb13)"><rect x="580.60" y="1073.1" width="122.75" height="204.10000000000014" fill="#080808"/><g filter="url(#b12)"><ellipse cx="625.6" cy="1182.9" rx="38" ry="50" fill="#121212"/></g><g filter="url(#b6)" opacity="1"><path d="M616.4 1201.8 L618.1 1201.1 L619.9 1200.5 L621.9 1199.8 L623.9 1199.0 L625.8 1197.9 L627.7 1196.7 L629.5 1195.2 L631.2 1193.6 L632.7 1191.7 L634.1 1189.8 L635.4 1187.6 L636.5 1185.3 L637.3 1182.9 L637.8 1180.4 L638.0 1177.8 L638.0 1175.3 L637.8 1172.7 L637.4 1170.1 L636.8 1167.5 L636.0 1164.9 L635.1 1162.4 L634.0 1159.8 L632.8 1157.3 L631.4 1154.9 L629.8 1152.5 L628.0 1150.2 L626.1 1148.1 L623.9 1146.1 L621.5 1144.3 L619.0 1142.7 L616.4 1141.3 L613.6 1140.2 L610.7 1139.2 L607.8 1138.4 L604.8 1137.9 L601.8 1137.5 L598.8 1137.3 L595.7 1137.4 L592.6 1137.7 L598.3 1170.1 L599.2 1170.0 L600.1 1169.9 L600.9 1169.9 L601.8 1170.0 L602.7 1170.1 L603.5 1170.2 L604.4 1170.5 L605.2 1170.7 L606.0 1171.1 L606.8 1171.4 L607.6 1171.8 L608.4 1172.2 L609.2 1172.7 L609.9 1173.2 L610.7 1173.8 L611.3 1174.4 L612.0 1175.0 L612.6 1175.8 L613.2 1176.5 L613.7 1177.3 L614.2 1178.2 L614.6 1179.1 L614.9 1180.0 L615.2 1180.9 L615.4 1181.9 L615.6 1182.9 L615.7 1183.9 L615.8 1185.0 L615.7 1186.0 L615.7 1187.0 L615.5 1188.1 L615.2 1189.1 L614.9 1190.2 L614.5 1191.2 L614.1 1192.2 L613.6 1193.2 L612.9 1194.1 L612.2 1195.0 L611.5 1195.9 Z" fill="#262626"/></g><g filter="url(#b3)" opacity="1"><path d="M623.5 1193.6 L624.4 1192.4 L625.3 1191.2 L626.2 1189.9 L627.0 1188.6 L627.8 1187.2 L628.5 1185.7 L629.1 1184.2 L629.6 1182.6 L629.9 1180.9 L630.1 1179.3 L630.1 1177.6 L630.1 1175.8 L629.9 1174.1 L629.6 1172.4 L629.2 1170.7 L628.6 1169.1 L627.9 1167.5 L627.1 1165.9 L626.2 1164.4 L625.3 1162.9 L624.2 1161.4 L623.1 1160.0 L621.9 1158.6 L620.7 1157.3 L619.4 1156.0 L618.0 1154.8 L616.5 1153.6 L614.9 1152.5 L613.3 1151.6 L611.6 1150.8 L609.8 1150.0 L608.0 1149.5 L606.1 1149.0 L604.2 1148.6 L602.3 1148.4 L600.4 1148.2 L598.4 1148.2 L596.5 1148.3 L594.5 1148.5 L598.3 1169.6 L599.0 1169.5 L599.8 1169.4 L600.5 1169.4 L601.3 1169.4 L602.0 1169.5 L602.8 1169.6 L603.5 1169.7 L604.2 1169.9 L605.0 1170.1 L605.7 1170.3 L606.4 1170.6 L607.1 1170.9 L607.8 1171.2 L608.5 1171.6 L609.1 1172.0 L609.8 1172.4 L610.4 1172.9 L611.0 1173.4 L611.6 1173.9 L612.2 1174.5 L612.8 1175.1 L613.3 1175.7 L613.8 1176.4 L614.3 1177.1 L614.7 1177.8 L615.1 1178.6 L615.5 1179.3 L615.8 1180.1 L616.1 1181.0 L616.4 1181.8 L616.6 1182.7 L616.7 1183.6 L616.7 1184.5 L616.8 1185.5 L616.7 1186.4 L616.6 1187.3 L616.5 1188.2 L616.2 1189.2 L615.9 1190.1 Z" fill="#383838"/></g><g filter="url(#b2)" opacity="1"><path d="M620.2 1195.2 L621.0 1194.1 L621.8 1192.9 L622.6 1191.7 L623.3 1190.5 L623.9 1189.2 L624.4 1187.8 L624.9 1186.4 L625.2 1185.0 L625.5 1183.6 L625.6 1182.1 L625.6 1180.6 L625.5 1179.1 L625.3 1177.6 L625.1 1176.2 L624.7 1174.7 L624.2 1173.3 L623.6 1171.9 L622.9 1170.6 L622.2 1169.3 L621.3 1168.0 L620.4 1166.8 L619.4 1165.7 L618.4 1164.6 L617.3 1163.5 L616.2 1162.5 L615.0 1161.6 L613.7 1160.7 L612.4 1159.9 L611.1 1159.2 L609.7 1158.6 L608.2 1158.1 L606.8 1157.6 L605.3 1157.3 L603.7 1157.1 L602.2 1157.0 L600.7 1156.9 L599.1 1156.9 L597.6 1157.1 L596.1 1157.3 L598.1 1168.6 L598.9 1168.5 L599.8 1168.4 L600.6 1168.4 L601.5 1168.4 L602.3 1168.5 L603.2 1168.6 L604.0 1168.8 L604.9 1169.0 L605.7 1169.3 L606.5 1169.6 L607.3 1169.9 L608.1 1170.2 L608.9 1170.7 L609.6 1171.1 L610.3 1171.6 L611.1 1172.1 L611.8 1172.7 L612.4 1173.3 L613.1 1173.9 L613.7 1174.6 L614.3 1175.3 L614.8 1176.1 L615.3 1176.9 L615.8 1177.7 L616.3 1178.6 L616.6 1179.5 L617.0 1180.4 L617.3 1181.4 L617.6 1182.4 L617.9 1183.4 L618.1 1184.4 L618.3 1185.5 L618.5 1186.6 L618.7 1187.8 L618.7 1189.0 L618.8 1190.2 L618.7 1191.4 L618.5 1192.7 L618.2 1193.9 Z" fill="#666666"/></g><g filter="url(#b2)" opacity="1"><path d="M617.3 1166.2 L616.9 1165.8 L616.5 1165.3 L616.1 1164.9 L615.7 1164.4 L615.3 1164.0 L614.9 1163.6 L614.5 1163.1 L614.1 1162.7 L613.6 1162.3 L613.1 1161.9 L612.7 1161.6 L612.2 1161.2 L611.7 1160.8 L611.2 1160.5 L610.6 1160.2 L610.1 1159.9 L609.6 1159.6 L609.0 1159.3 L608.5 1159.0 L607.9 1158.7 L607.3 1158.5 L606.7 1158.3 L606.1 1158.1 L605.5 1157.9 L604.9 1157.8 L604.3 1157.7 L603.7 1157.6 L603.0 1157.5 L602.4 1157.5 L601.8 1157.4 L601.2 1157.4 L600.5 1157.4 L599.9 1157.4 L599.3 1157.4 L598.7 1157.5 L598.0 1157.5 L597.4 1157.6 L596.8 1157.7 L596.2 1157.8 L598.0 1168.1 L598.4 1168.1 L598.7 1168.0 L599.1 1168.0 L599.5 1167.9 L599.8 1167.9 L600.2 1167.9 L600.6 1167.9 L600.9 1167.9 L601.3 1167.9 L601.7 1167.9 L602.0 1168.0 L602.4 1168.0 L602.8 1168.1 L603.1 1168.1 L603.5 1168.2 L603.9 1168.2 L604.2 1168.3 L604.6 1168.4 L605.0 1168.4 L605.3 1168.5 L605.7 1168.6 L606.1 1168.7 L606.4 1168.8 L606.8 1168.9 L607.2 1169.0 L607.5 1169.1 L607.9 1169.3 L608.3 1169.3 L608.7 1169.4 L609.1 1169.5 L609.5 1169.5 L610.0 1169.5 L610.5 1169.6 L610.9 1169.6 L611.4 1169.7 L611.9 1169.8 L612.4 1169.9 L612.8 1170.1 L613.2 1170.3 Z" fill="#adadad"/></g><g filter="url(#b2)" opacity="1"><ellipse cx="600.60" cy="1187.17" rx="13.5" ry="17" fill="#000000"/></g><g filter="url(#b2)" opacity="1"><ellipse cx="604.60" cy="1208.51" rx="5" ry="5" fill="#1a1a1a"/></g></g></g></g><path d="M600.60 1093.1 V1257.2" stroke="#000" stroke-width="1.45"/><rect x="516.50" y="1091.75" width="168.2" height="166.80000000000013" fill="none" stroke="#000" stroke-width="2.7"/>
<rect x="12.7" y="910.1999999999999" width="22.1" height="29.2" fill="#000"/>
<text x="23.6" y="930.3" font-size="20.83" fill="#fff" text-anchor="middle" font-family="Liberation Sans, sans-serif">1.</text>
<path d="M22.50 981.50 L22.50 1016.25" stroke="#000" stroke-width="2" fill="none"/><path d="M22.50 1027.50 L16.50 1012.50 L22.50 1016.25 L28.50 1012.50 Z" fill="#000"/>
<text x="4.4" y="1052.3" font-size="21" font-family="Liberation Sans, sans-serif">Laser</text>
<rect x="12.7" y="1104.3" width="22.1" height="29.2" fill="#000"/>
<text x="23.6" y="1124.4" font-size="20.83" fill="#fff" text-anchor="middle" font-family="Liberation Sans, sans-serif">2.</text>
<path d="M22.50 1175.50 L22.50 1210.25" stroke="#000" stroke-width="2" fill="none"/><path d="M22.50 1221.50 L16.50 1206.50 L22.50 1210.25 L28.50 1206.50 Z" fill="#000"/>
<text x="4.4" y="1246" font-size="21" font-family="Liberation Sans, sans-serif">Laser</text>
<path d="M22.70 1258.5 V1269" stroke="#000" stroke-width="2.5"/>
<text x="22.70" y="1294.5" font-size="20.83" text-anchor="middle" font-family="Liberation Sans, sans-serif">−25</text>
<path d="M84.90 1258.5 V1269" stroke="#000" stroke-width="2.5"/>
<text x="84.90" y="1294.5" font-size="20.83" text-anchor="middle" font-family="Liberation Sans, sans-serif">0</text>
<path d="M147.10 1258.5 V1269" stroke="#000" stroke-width="2.5"/>
<text x="147.10" y="1294.5" font-size="20.83" text-anchor="middle" font-family="Liberation Sans, sans-serif">25</text>
<g font-size="20.83" font-family="Liberation Sans, sans-serif"><text x="53.00" y="1325.4">z (</text><text x="75.70" y="1325.4" font-style="italic" textLength="13.4" lengthAdjust="spacingAndGlyphs">µ</text><text x="89.80" y="1325.4">m)</text></g>
<path d="M194.60 1258.5 V1269" stroke="#000" stroke-width="2.5"/>
<text x="194.60" y="1294.5" font-size="20.83" text-anchor="middle" font-family="Liberation Sans, sans-serif">−25</text>
<path d="M256.80 1258.5 V1269" stroke="#000" stroke-width="2.5"/>
<text x="256.80" y="1294.5" font-size="20.83" text-anchor="middle" font-family="Liberation Sans, sans-serif">0</text>
<path d="M319.00 1258.5 V1269" stroke="#000" stroke-width="2.5"/>
<text x="319.00" y="1294.5" font-size="20.83" text-anchor="middle" font-family="Liberation Sans, sans-serif">25</text>
<g font-size="20.83" font-family="Liberation Sans, sans-serif"><text x="224.90" y="1325.4">z (</text><text x="247.60" y="1325.4" font-style="italic" textLength="13.4" lengthAdjust="spacingAndGlyphs">µ</text><text x="261.70" y="1325.4">m)</text></g>
<path d="M366.50 1258.5 V1269" stroke="#000" stroke-width="2.5"/>
<text x="366.50" y="1294.5" font-size="20.83" text-anchor="middle" font-family="Liberation Sans, sans-serif">−25</text>
<path d="M428.70 1258.5 V1269" stroke="#000" stroke-width="2.5"/>
<text x="428.70" y="1294.5" font-size="20.83" text-anchor="middle" font-family="Liberation Sans, sans-serif">0</text>
<path d="M490.90 1258.5 V1269" stroke="#000" stroke-width="2.5"/>
<text x="490.90" y="1294.5" font-size="20.83" text-anchor="middle" font-family="Liberation Sans, sans-serif">25</text>
<g font-size="20.83" font-family="Liberation Sans, sans-serif"><text x="396.80" y="1325.4">z (</text><text x="419.50" y="1325.4" font-style="italic" textLength="13.4" lengthAdjust="spacingAndGlyphs">µ</text><text x="433.60" y="1325.4">m)</text></g>
<path d="M538.40 1258.5 V1269" stroke="#000" stroke-width="2.5"/>
<text x="538.40" y="1294.5" font-size="20.83" text-anchor="middle" font-family="Liberation Sans, sans-serif">−25</text>
<path d="M600.60 1258.5 V1269" stroke="#000" stroke-width="2.5"/>
<text x="600.60" y="1294.5" font-size="20.83" text-anchor="middle" font-family="Liberation Sans, sans-serif">0</text>
<path d="M662.80 1258.5 V1269" stroke="#000" stroke-width="2.5"/>
<text x="662.80" y="1294.5" font-size="20.83" text-anchor="middle" font-family="Liberation Sans, sans-serif">25</text>
<g font-size="20.83" font-family="Liberation Sans, sans-serif"><text x="568.70" y="1325.4">z (</text><text x="591.40" y="1325.4" font-style="italic" textLength="13.4" lengthAdjust="spacingAndGlyphs">µ</text><text x="605.50" y="1325.4">m)</text></g>
<rect x="45.85" y="1359.25" width="248.79999999999998" height="16.09999999999991" fill="url(#gbl)" stroke="#000" stroke-width="2.5"/>
<path d="M45.85 1375.35 V1386" stroke="#000" stroke-width="2.6"/>
<text x="45.85" y="1411.4" font-size="20.83" text-anchor="middle" font-family="Liberation Sans, sans-serif">0</text>
<path d="M170.25 1375.35 V1386" stroke="#000" stroke-width="2.6"/>
<text x="170.25" y="1411.4" font-size="20.83" text-anchor="middle" font-family="Liberation Sans, sans-serif">2</text>
<path d="M294.65 1375.35 V1386" stroke="#000" stroke-width="2.6"/>
<text x="294.65" y="1411.4" font-size="20.83" text-anchor="middle" font-family="Liberation Sans, sans-serif">4</text>
<rect x="390.15" y="1363.15" width="248.89999999999998" height="16.199999999999818" fill="url(#grd)" stroke="#000" stroke-width="2.5"/>
<path d="M390.15 1379.35 V1389.6" stroke="#000" stroke-width="2.6"/>
<text x="390.15" y="1414.9" font-size="20.83" text-anchor="middle" font-family="Liberation Sans, sans-serif">0</text>
<path d="M514.60 1379.35 V1389.6" stroke="#000" stroke-width="2.6"/>
<text x="514.60" y="1414.9" font-size="20.83" text-anchor="middle" font-family="Liberation Sans, sans-serif">2</text>
<path d="M639.05 1379.35 V1389.6" stroke="#000" stroke-width="2.6"/>
<text x="639.05" y="1414.9" font-size="20.83" text-anchor="middle" font-family="Liberation Sans, sans-serif">4</text>
<text x="97.4" y="1446.2" font-size="21.1" font-family="Liberation Sans, sans-serif">Density (g/cm<tspan font-size="14.6" dy="-7.5">3</tspan><tspan dy="7.5">)</tspan></text>
<text x="439.3" y="1446.2" font-size="20.9" font-family="Liberation Sans, sans-serif">Pressure (Mbar)</text>
</svg>
</body></html>
